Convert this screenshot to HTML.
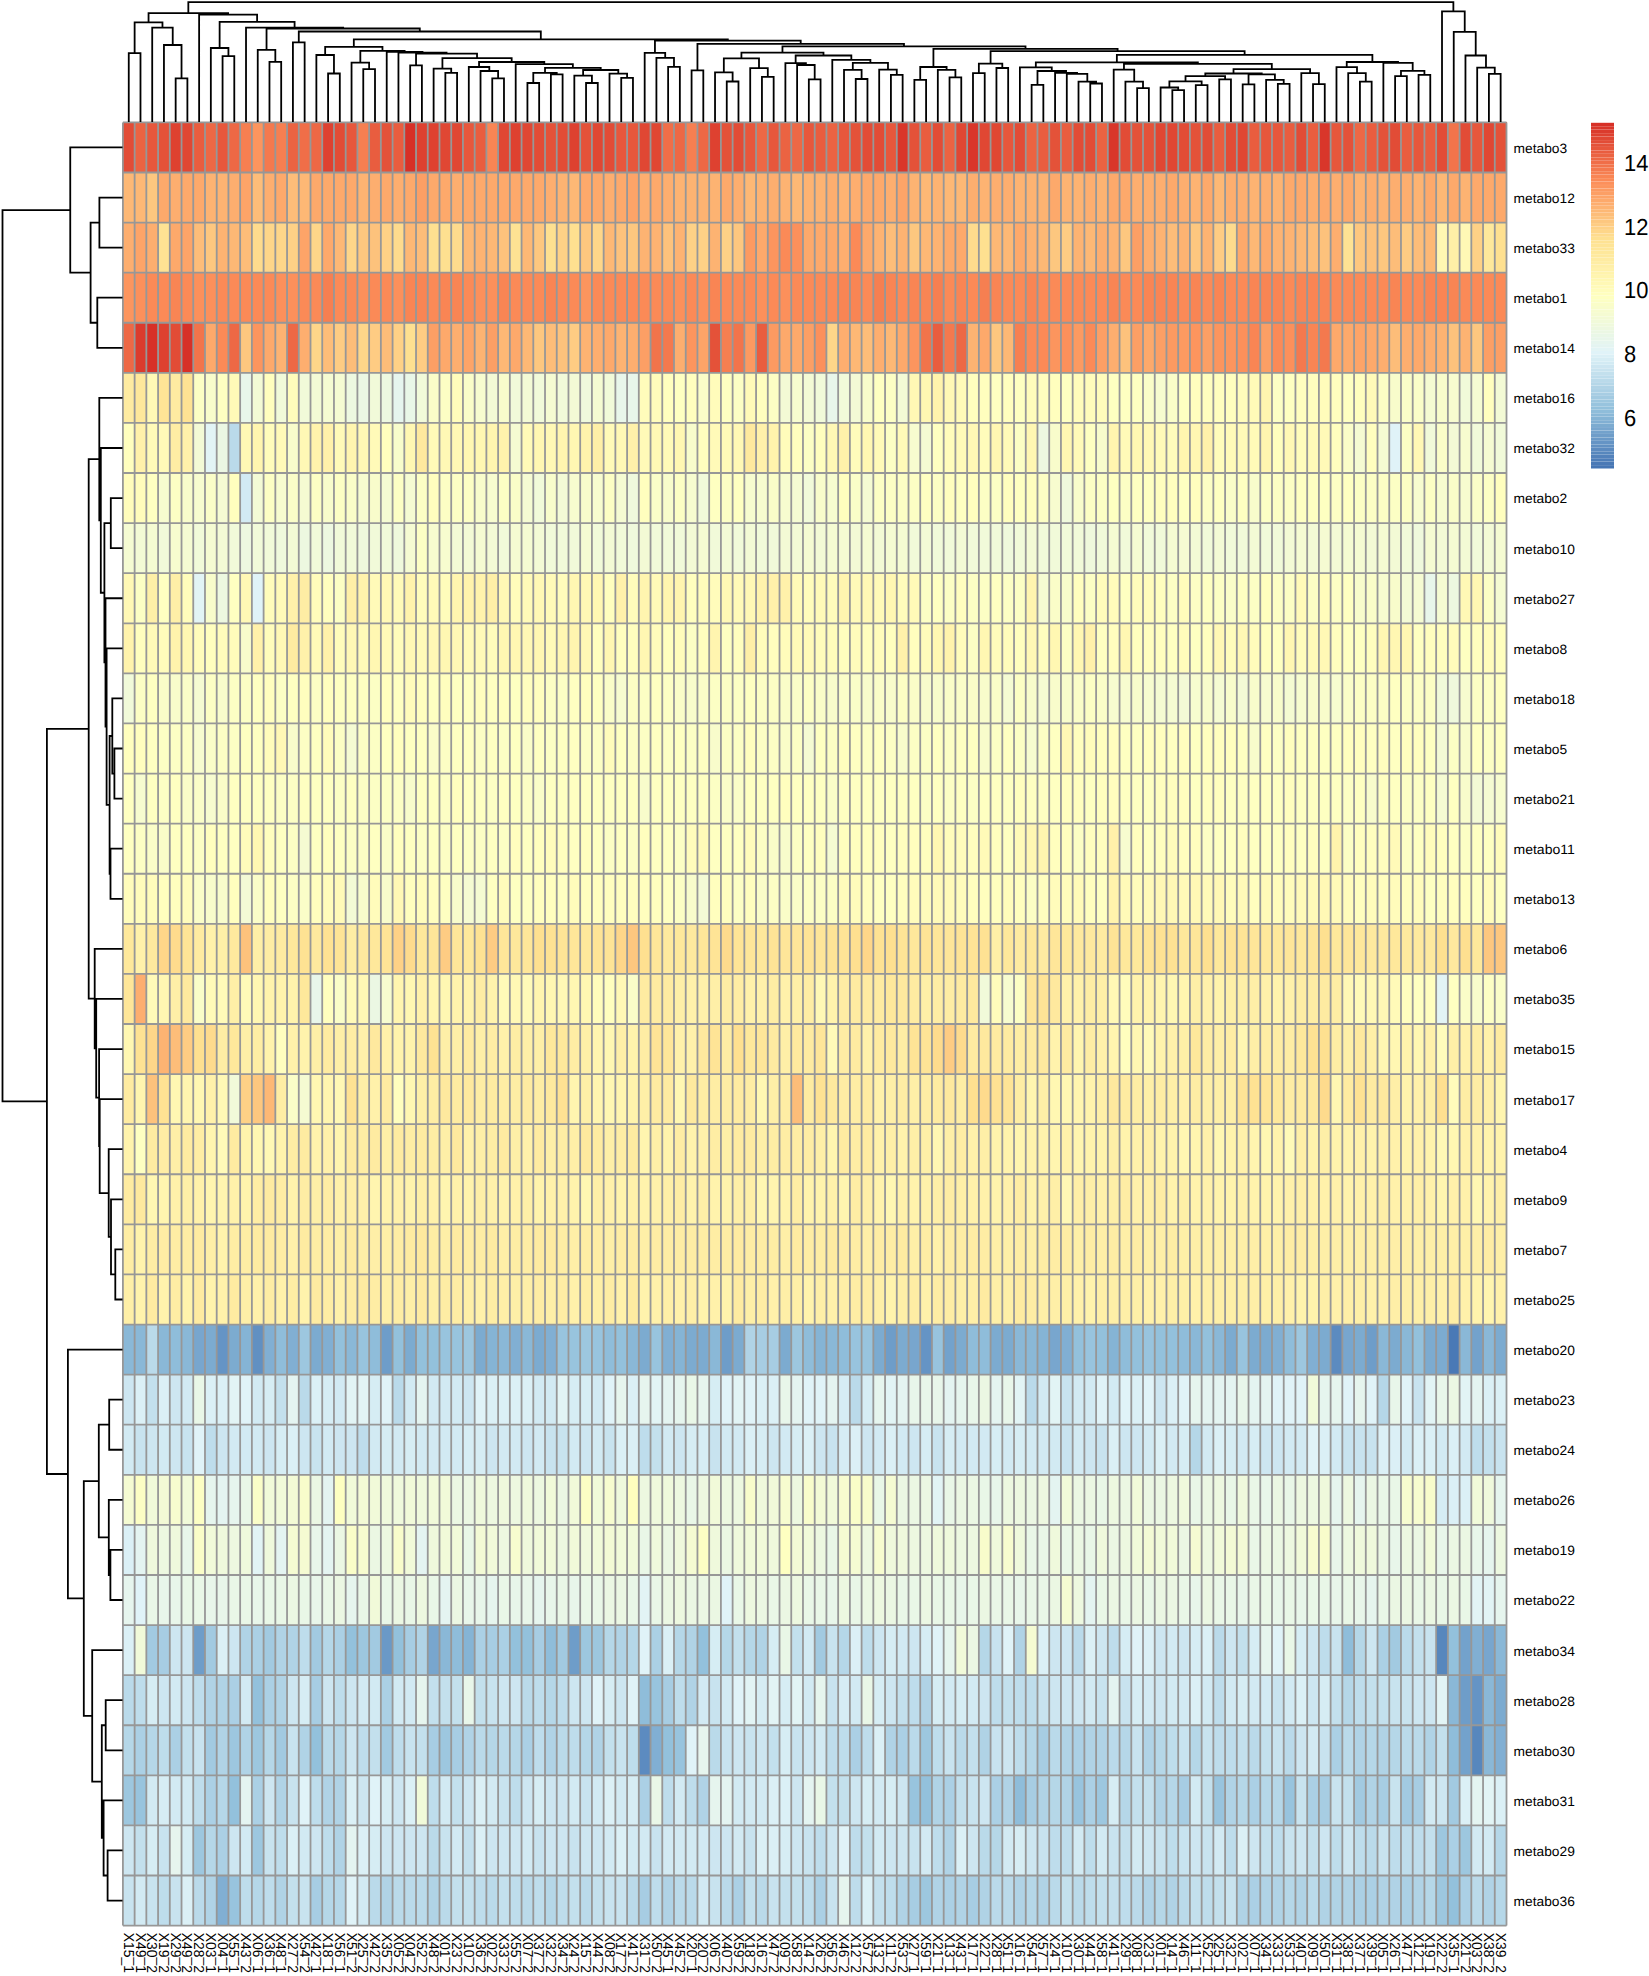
<!DOCTYPE html><html><head><meta charset="utf-8"><title>heatmap</title>
<style>html,body{margin:0;padding:0;background:#fff;}svg{display:block;}text{font-family:"Liberation Sans",Arial,sans-serif;fill:#000;text-rendering:geometricPrecision;}</style></head><body>
<svg width="1649" height="1976" viewBox="0 0 1649 1976">
<rect width="1649" height="1976" fill="#fff"/>
<g shape-rendering="crispEdges">
<rect x="122.9" y="122.4" width="12.03" height="50.39" fill="#e24c36"/>
<rect x="134.63" y="122.4" width="12.03" height="50.39" fill="#eb6342"/>
<rect x="146.35" y="122.4" width="12.03" height="50.39" fill="#e7573c"/>
<rect x="158.08" y="122.4" width="12.03" height="50.39" fill="#e45239"/>
<rect x="169.8" y="122.4" width="12.03" height="50.39" fill="#de4130"/>
<rect x="181.53" y="122.4" width="12.03" height="50.39" fill="#e04733"/>
<rect x="193.25" y="122.4" width="12.03" height="50.39" fill="#e95d3f"/>
<rect x="204.98" y="122.4" width="12.03" height="50.39" fill="#ed6845"/>
<rect x="216.7" y="122.4" width="12.03" height="50.39" fill="#e7573c"/>
<rect x="228.43" y="122.4" width="12.03" height="50.39" fill="#ed6845"/>
<rect x="240.15" y="122.4" width="12.03" height="50.39" fill="#f67f51"/>
<rect x="251.88" y="122.4" width="12.03" height="50.39" fill="#fc955e"/>
<rect x="263.61" y="122.4" width="12.03" height="50.39" fill="#f4794e"/>
<rect x="275.33" y="122.4" width="12.03" height="50.39" fill="#f67f51"/>
<rect x="287.06" y="122.4" width="12.03" height="50.39" fill="#eb6342"/>
<rect x="298.78" y="122.4" width="12.03" height="50.39" fill="#f06e48"/>
<rect x="310.51" y="122.4" width="12.03" height="50.39" fill="#ed6845"/>
<rect x="322.23" y="122.4" width="12.03" height="50.39" fill="#de4130"/>
<rect x="333.96" y="122.4" width="12.03" height="50.39" fill="#e24c36"/>
<rect x="345.68" y="122.4" width="12.03" height="50.39" fill="#e7573c"/>
<rect x="357.41" y="122.4" width="12.03" height="50.39" fill="#f67f51"/>
<rect x="369.13" y="122.4" width="12.03" height="50.39" fill="#e95d3f"/>
<rect x="380.86" y="122.4" width="12.03" height="50.39" fill="#e45239"/>
<rect x="392.58" y="122.4" width="12.03" height="50.39" fill="#e95d3f"/>
<rect x="404.31" y="122.4" width="12.03" height="50.39" fill="#d73027"/>
<rect x="416.04" y="122.4" width="23.75" height="50.39" fill="#de4130"/>
<rect x="439.49" y="122.4" width="23.75" height="50.39" fill="#e04733"/>
<rect x="462.94" y="122.4" width="12.03" height="50.39" fill="#e7573c"/>
<rect x="474.66" y="122.4" width="12.03" height="50.39" fill="#e95d3f"/>
<rect x="486.39" y="122.4" width="12.03" height="50.39" fill="#f98554"/>
<rect x="498.11" y="122.4" width="12.03" height="50.39" fill="#e04733"/>
<rect x="509.84" y="122.4" width="12.03" height="50.39" fill="#de4130"/>
<rect x="521.56" y="122.4" width="12.03" height="50.39" fill="#e04733"/>
<rect x="533.29" y="122.4" width="12.03" height="50.39" fill="#e24c36"/>
<rect x="545.02" y="122.4" width="12.03" height="50.39" fill="#e45239"/>
<rect x="556.74" y="122.4" width="12.03" height="50.39" fill="#e24c36"/>
<rect x="568.47" y="122.4" width="12.03" height="50.39" fill="#de4130"/>
<rect x="580.19" y="122.4" width="12.03" height="50.39" fill="#e45239"/>
<rect x="591.92" y="122.4" width="12.03" height="50.39" fill="#e04733"/>
<rect x="603.64" y="122.4" width="12.03" height="50.39" fill="#e24c36"/>
<rect x="615.37" y="122.4" width="23.75" height="50.39" fill="#e7573c"/>
<rect x="638.82" y="122.4" width="23.75" height="50.39" fill="#e04733"/>
<rect x="662.27" y="122.4" width="12.03" height="50.39" fill="#f06e48"/>
<rect x="673.99" y="122.4" width="12.03" height="50.39" fill="#ed6845"/>
<rect x="685.72" y="122.4" width="12.03" height="50.39" fill="#f67f51"/>
<rect x="697.45" y="122.4" width="12.03" height="50.39" fill="#ed6845"/>
<rect x="709.17" y="122.4" width="12.03" height="50.39" fill="#de4130"/>
<rect x="720.9" y="122.4" width="12.03" height="50.39" fill="#e45239"/>
<rect x="732.62" y="122.4" width="12.03" height="50.39" fill="#e24c36"/>
<rect x="744.35" y="122.4" width="12.03" height="50.39" fill="#e7573c"/>
<rect x="756.07" y="122.4" width="12.03" height="50.39" fill="#ed6845"/>
<rect x="767.8" y="122.4" width="12.03" height="50.39" fill="#e7573c"/>
<rect x="779.52" y="122.4" width="12.03" height="50.39" fill="#eb6342"/>
<rect x="791.25" y="122.4" width="12.03" height="50.39" fill="#ed6845"/>
<rect x="802.97" y="122.4" width="12.03" height="50.39" fill="#e7573c"/>
<rect x="814.7" y="122.4" width="12.03" height="50.39" fill="#e95d3f"/>
<rect x="826.43" y="122.4" width="12.03" height="50.39" fill="#eb6342"/>
<rect x="838.15" y="122.4" width="12.03" height="50.39" fill="#e7573c"/>
<rect x="849.88" y="122.4" width="12.03" height="50.39" fill="#e45239"/>
<rect x="861.6" y="122.4" width="23.75" height="50.39" fill="#e24c36"/>
<rect x="885.05" y="122.4" width="12.03" height="50.39" fill="#e7573c"/>
<rect x="896.78" y="122.4" width="12.03" height="50.39" fill="#d9362a"/>
<rect x="908.5" y="122.4" width="12.03" height="50.39" fill="#e45239"/>
<rect x="920.23" y="122.4" width="12.03" height="50.39" fill="#e95d3f"/>
<rect x="931.95" y="122.4" width="12.03" height="50.39" fill="#e24c36"/>
<rect x="943.68" y="122.4" width="12.03" height="50.39" fill="#eb6342"/>
<rect x="955.41" y="122.4" width="12.03" height="50.39" fill="#e04733"/>
<rect x="967.13" y="122.4" width="12.03" height="50.39" fill="#d9362a"/>
<rect x="978.86" y="122.4" width="23.75" height="50.39" fill="#e04733"/>
<rect x="1002.31" y="122.4" width="12.03" height="50.39" fill="#e7573c"/>
<rect x="1014.03" y="122.4" width="12.03" height="50.39" fill="#e24c36"/>
<rect x="1025.76" y="122.4" width="12.03" height="50.39" fill="#eb6342"/>
<rect x="1037.48" y="122.4" width="12.03" height="50.39" fill="#e95d3f"/>
<rect x="1049.21" y="122.4" width="12.03" height="50.39" fill="#e45239"/>
<rect x="1060.93" y="122.4" width="12.03" height="50.39" fill="#e95d3f"/>
<rect x="1072.66" y="122.4" width="23.75" height="50.39" fill="#e24c36"/>
<rect x="1096.11" y="122.4" width="12.03" height="50.39" fill="#eb6342"/>
<rect x="1107.84" y="122.4" width="12.03" height="50.39" fill="#d9362a"/>
<rect x="1119.56" y="122.4" width="12.03" height="50.39" fill="#e24c36"/>
<rect x="1131.29" y="122.4" width="23.75" height="50.39" fill="#e45239"/>
<rect x="1154.74" y="122.4" width="23.75" height="50.39" fill="#e04733"/>
<rect x="1178.19" y="122.4" width="12.03" height="50.39" fill="#e24c36"/>
<rect x="1189.91" y="122.4" width="12.03" height="50.39" fill="#e45239"/>
<rect x="1201.64" y="122.4" width="12.03" height="50.39" fill="#e24c36"/>
<rect x="1213.36" y="122.4" width="12.03" height="50.39" fill="#e95d3f"/>
<rect x="1225.09" y="122.4" width="12.03" height="50.39" fill="#e24c36"/>
<rect x="1236.82" y="122.4" width="12.03" height="50.39" fill="#e04733"/>
<rect x="1248.54" y="122.4" width="12.03" height="50.39" fill="#e95d3f"/>
<rect x="1260.27" y="122.4" width="23.75" height="50.39" fill="#e7573c"/>
<rect x="1283.72" y="122.4" width="12.03" height="50.39" fill="#e95d3f"/>
<rect x="1295.44" y="122.4" width="12.03" height="50.39" fill="#e24c36"/>
<rect x="1307.17" y="122.4" width="12.03" height="50.39" fill="#e95d3f"/>
<rect x="1318.89" y="122.4" width="12.03" height="50.39" fill="#d9362a"/>
<rect x="1330.62" y="122.4" width="12.03" height="50.39" fill="#e7573c"/>
<rect x="1342.34" y="122.4" width="12.03" height="50.39" fill="#e45239"/>
<rect x="1354.07" y="122.4" width="12.03" height="50.39" fill="#ed6845"/>
<rect x="1365.79" y="122.4" width="12.03" height="50.39" fill="#e95d3f"/>
<rect x="1377.52" y="122.4" width="12.03" height="50.39" fill="#e45239"/>
<rect x="1389.25" y="122.4" width="12.03" height="50.39" fill="#e24c36"/>
<rect x="1400.97" y="122.4" width="12.03" height="50.39" fill="#e95d3f"/>
<rect x="1412.7" y="122.4" width="12.03" height="50.39" fill="#e7573c"/>
<rect x="1424.42" y="122.4" width="12.03" height="50.39" fill="#e95d3f"/>
<rect x="1436.15" y="122.4" width="12.03" height="50.39" fill="#e24c36"/>
<rect x="1447.87" y="122.4" width="12.03" height="50.39" fill="#f2744b"/>
<rect x="1459.6" y="122.4" width="12.03" height="50.39" fill="#e24c36"/>
<rect x="1471.32" y="122.4" width="12.03" height="50.39" fill="#e7573c"/>
<rect x="1483.05" y="122.4" width="12.03" height="50.39" fill="#e04733"/>
<rect x="1494.77" y="122.4" width="12.03" height="50.39" fill="#e45239"/>
<rect x="122.9" y="172.49" width="23.75" height="50.39" fill="#fdb875"/>
<rect x="146.35" y="172.49" width="12.03" height="50.39" fill="#fdc77f"/>
<rect x="158.08" y="172.49" width="12.03" height="50.39" fill="#fda96b"/>
<rect x="169.8" y="172.49" width="12.03" height="50.39" fill="#fdae6f"/>
<rect x="181.53" y="172.49" width="23.75" height="50.39" fill="#fda96b"/>
<rect x="204.98" y="172.49" width="23.75" height="50.39" fill="#fdb372"/>
<rect x="228.43" y="172.49" width="12.03" height="50.39" fill="#fdae6f"/>
<rect x="240.15" y="172.49" width="12.03" height="50.39" fill="#fda468"/>
<rect x="251.88" y="172.49" width="12.03" height="50.39" fill="#fdbd79"/>
<rect x="263.61" y="172.49" width="12.03" height="50.39" fill="#fdae6f"/>
<rect x="275.33" y="172.49" width="12.03" height="50.39" fill="#fda96b"/>
<rect x="287.06" y="172.49" width="12.03" height="50.39" fill="#fdbd79"/>
<rect x="298.78" y="172.49" width="12.03" height="50.39" fill="#fdb875"/>
<rect x="310.51" y="172.49" width="47.2" height="50.39" fill="#fda96b"/>
<rect x="357.41" y="172.49" width="12.03" height="50.39" fill="#fdb372"/>
<rect x="369.13" y="172.49" width="12.03" height="50.39" fill="#fdae6f"/>
<rect x="380.86" y="172.49" width="12.03" height="50.39" fill="#fda96b"/>
<rect x="392.58" y="172.49" width="12.03" height="50.39" fill="#fdae6f"/>
<rect x="404.31" y="172.49" width="12.03" height="50.39" fill="#fda96b"/>
<rect x="416.04" y="172.49" width="12.03" height="50.39" fill="#fc9f65"/>
<rect x="427.76" y="172.49" width="23.75" height="50.39" fill="#fda96b"/>
<rect x="451.21" y="172.49" width="12.03" height="50.39" fill="#fdae6f"/>
<rect x="462.94" y="172.49" width="82.38" height="50.39" fill="#fda96b"/>
<rect x="545.02" y="172.49" width="12.03" height="50.39" fill="#fdae6f"/>
<rect x="556.74" y="172.49" width="12.03" height="50.39" fill="#fdb372"/>
<rect x="568.47" y="172.49" width="12.03" height="50.39" fill="#fdb875"/>
<rect x="580.19" y="172.49" width="23.75" height="50.39" fill="#fda96b"/>
<rect x="603.64" y="172.49" width="12.03" height="50.39" fill="#fdae6f"/>
<rect x="615.37" y="172.49" width="12.03" height="50.39" fill="#fda96b"/>
<rect x="627.09" y="172.49" width="12.03" height="50.39" fill="#fda468"/>
<rect x="638.82" y="172.49" width="12.03" height="50.39" fill="#fdae6f"/>
<rect x="650.54" y="172.49" width="12.03" height="50.39" fill="#fda96b"/>
<rect x="662.27" y="172.49" width="12.03" height="50.39" fill="#fdae6f"/>
<rect x="673.99" y="172.49" width="47.2" height="50.39" fill="#fdb372"/>
<rect x="720.9" y="172.49" width="12.03" height="50.39" fill="#fda96b"/>
<rect x="732.62" y="172.49" width="12.03" height="50.39" fill="#fdae6f"/>
<rect x="744.35" y="172.49" width="12.03" height="50.39" fill="#fdb875"/>
<rect x="756.07" y="172.49" width="12.03" height="50.39" fill="#fdb372"/>
<rect x="767.8" y="172.49" width="12.03" height="50.39" fill="#fdae6f"/>
<rect x="779.52" y="172.49" width="12.03" height="50.39" fill="#fdb372"/>
<rect x="791.25" y="172.49" width="12.03" height="50.39" fill="#fdb875"/>
<rect x="802.97" y="172.49" width="23.75" height="50.39" fill="#fdb372"/>
<rect x="826.43" y="172.49" width="12.03" height="50.39" fill="#fdae6f"/>
<rect x="838.15" y="172.49" width="12.03" height="50.39" fill="#fdb372"/>
<rect x="849.88" y="172.49" width="12.03" height="50.39" fill="#fdae6f"/>
<rect x="861.6" y="172.49" width="23.75" height="50.39" fill="#fda96b"/>
<rect x="885.05" y="172.49" width="12.03" height="50.39" fill="#fdae6f"/>
<rect x="896.78" y="172.49" width="12.03" height="50.39" fill="#fda468"/>
<rect x="908.5" y="172.49" width="12.03" height="50.39" fill="#fdb372"/>
<rect x="920.23" y="172.49" width="12.03" height="50.39" fill="#fdb875"/>
<rect x="931.95" y="172.49" width="12.03" height="50.39" fill="#fdb372"/>
<rect x="943.68" y="172.49" width="23.75" height="50.39" fill="#fdb875"/>
<rect x="967.13" y="172.49" width="12.03" height="50.39" fill="#fdae6f"/>
<rect x="978.86" y="172.49" width="12.03" height="50.39" fill="#fdb372"/>
<rect x="990.58" y="172.49" width="23.75" height="50.39" fill="#fdae6f"/>
<rect x="1014.03" y="172.49" width="35.48" height="50.39" fill="#fdb372"/>
<rect x="1049.21" y="172.49" width="12.03" height="50.39" fill="#fda96b"/>
<rect x="1060.93" y="172.49" width="23.75" height="50.39" fill="#fdb372"/>
<rect x="1084.38" y="172.49" width="12.03" height="50.39" fill="#fdae6f"/>
<rect x="1096.11" y="172.49" width="12.03" height="50.39" fill="#fdb372"/>
<rect x="1107.84" y="172.49" width="23.75" height="50.39" fill="#fda96b"/>
<rect x="1131.29" y="172.49" width="35.48" height="50.39" fill="#fdae6f"/>
<rect x="1166.46" y="172.49" width="12.03" height="50.39" fill="#fda96b"/>
<rect x="1178.19" y="172.49" width="12.03" height="50.39" fill="#fdae6f"/>
<rect x="1189.91" y="172.49" width="12.03" height="50.39" fill="#fdb372"/>
<rect x="1201.64" y="172.49" width="12.03" height="50.39" fill="#fda96b"/>
<rect x="1213.36" y="172.49" width="12.03" height="50.39" fill="#fdb875"/>
<rect x="1225.09" y="172.49" width="23.75" height="50.39" fill="#fdae6f"/>
<rect x="1248.54" y="172.49" width="12.03" height="50.39" fill="#fdb372"/>
<rect x="1260.27" y="172.49" width="12.03" height="50.39" fill="#fdae6f"/>
<rect x="1271.99" y="172.49" width="12.03" height="50.39" fill="#fdb372"/>
<rect x="1283.72" y="172.49" width="23.75" height="50.39" fill="#fda96b"/>
<rect x="1307.17" y="172.49" width="12.03" height="50.39" fill="#fdae6f"/>
<rect x="1318.89" y="172.49" width="12.03" height="50.39" fill="#fda96b"/>
<rect x="1330.62" y="172.49" width="12.03" height="50.39" fill="#fdae6f"/>
<rect x="1342.34" y="172.49" width="12.03" height="50.39" fill="#fda96b"/>
<rect x="1354.07" y="172.49" width="12.03" height="50.39" fill="#fdb372"/>
<rect x="1365.79" y="172.49" width="12.03" height="50.39" fill="#fdae6f"/>
<rect x="1377.52" y="172.49" width="12.03" height="50.39" fill="#fdb372"/>
<rect x="1389.25" y="172.49" width="23.75" height="50.39" fill="#fdae6f"/>
<rect x="1412.7" y="172.49" width="12.03" height="50.39" fill="#fdb372"/>
<rect x="1424.42" y="172.49" width="12.03" height="50.39" fill="#fda96b"/>
<rect x="1436.15" y="172.49" width="12.03" height="50.39" fill="#fdb875"/>
<rect x="1447.87" y="172.49" width="12.03" height="50.39" fill="#fda96b"/>
<rect x="1459.6" y="172.49" width="12.03" height="50.39" fill="#fdb372"/>
<rect x="1471.32" y="172.49" width="35.48" height="50.39" fill="#fda96b"/>
<rect x="122.9" y="222.58" width="12.03" height="50.39" fill="#fdae6f"/>
<rect x="134.63" y="222.58" width="12.03" height="50.39" fill="#fda468"/>
<rect x="146.35" y="222.58" width="12.03" height="50.39" fill="#fdae6f"/>
<rect x="158.08" y="222.58" width="12.03" height="50.39" fill="#fee293"/>
<rect x="169.8" y="222.58" width="12.03" height="50.39" fill="#fda96b"/>
<rect x="181.53" y="222.58" width="12.03" height="50.39" fill="#fda468"/>
<rect x="193.25" y="222.58" width="12.03" height="50.39" fill="#fdbd79"/>
<rect x="204.98" y="222.58" width="12.03" height="50.39" fill="#fdc77f"/>
<rect x="216.7" y="222.58" width="12.03" height="50.39" fill="#fdb372"/>
<rect x="228.43" y="222.58" width="12.03" height="50.39" fill="#fdb875"/>
<rect x="240.15" y="222.58" width="12.03" height="50.39" fill="#fdbd79"/>
<rect x="251.88" y="222.58" width="12.03" height="50.39" fill="#fedb8d"/>
<rect x="263.61" y="222.58" width="23.75" height="50.39" fill="#fed689"/>
<rect x="287.06" y="222.58" width="12.03" height="50.39" fill="#fed186"/>
<rect x="298.78" y="222.58" width="12.03" height="50.39" fill="#fda468"/>
<rect x="310.51" y="222.58" width="12.03" height="50.39" fill="#fed689"/>
<rect x="322.23" y="222.58" width="12.03" height="50.39" fill="#fda96b"/>
<rect x="333.96" y="222.58" width="12.03" height="50.39" fill="#fdb875"/>
<rect x="345.68" y="222.58" width="12.03" height="50.39" fill="#fed689"/>
<rect x="357.41" y="222.58" width="12.03" height="50.39" fill="#fdc77f"/>
<rect x="369.13" y="222.58" width="12.03" height="50.39" fill="#fdc27c"/>
<rect x="380.86" y="222.58" width="12.03" height="50.39" fill="#fed186"/>
<rect x="392.58" y="222.58" width="12.03" height="50.39" fill="#fedb8d"/>
<rect x="404.31" y="222.58" width="12.03" height="50.39" fill="#fdb875"/>
<rect x="416.04" y="222.58" width="12.03" height="50.39" fill="#fdbd79"/>
<rect x="427.76" y="222.58" width="23.75" height="50.39" fill="#fee090"/>
<rect x="451.21" y="222.58" width="12.03" height="50.39" fill="#fedb8d"/>
<rect x="462.94" y="222.58" width="12.03" height="50.39" fill="#fdb875"/>
<rect x="474.66" y="222.58" width="12.03" height="50.39" fill="#fdb372"/>
<rect x="486.39" y="222.58" width="12.03" height="50.39" fill="#fdb875"/>
<rect x="498.11" y="222.58" width="12.03" height="50.39" fill="#fdc27c"/>
<rect x="509.84" y="222.58" width="12.03" height="50.39" fill="#fee293"/>
<rect x="521.56" y="222.58" width="12.03" height="50.39" fill="#fdb875"/>
<rect x="533.29" y="222.58" width="12.03" height="50.39" fill="#fdc77f"/>
<rect x="545.02" y="222.58" width="12.03" height="50.39" fill="#fee090"/>
<rect x="556.74" y="222.58" width="12.03" height="50.39" fill="#fed186"/>
<rect x="568.47" y="222.58" width="12.03" height="50.39" fill="#fee090"/>
<rect x="580.19" y="222.58" width="12.03" height="50.39" fill="#fdc77f"/>
<rect x="591.92" y="222.58" width="12.03" height="50.39" fill="#fed689"/>
<rect x="603.64" y="222.58" width="12.03" height="50.39" fill="#fdb875"/>
<rect x="615.37" y="222.58" width="12.03" height="50.39" fill="#fdc27c"/>
<rect x="627.09" y="222.58" width="12.03" height="50.39" fill="#fdc77f"/>
<rect x="638.82" y="222.58" width="23.75" height="50.39" fill="#fdb372"/>
<rect x="662.27" y="222.58" width="12.03" height="50.39" fill="#fdc27c"/>
<rect x="673.99" y="222.58" width="12.03" height="50.39" fill="#fdb372"/>
<rect x="685.72" y="222.58" width="23.75" height="50.39" fill="#fed186"/>
<rect x="709.17" y="222.58" width="12.03" height="50.39" fill="#fdb372"/>
<rect x="720.9" y="222.58" width="12.03" height="50.39" fill="#fed186"/>
<rect x="732.62" y="222.58" width="12.03" height="50.39" fill="#fdc77f"/>
<rect x="744.35" y="222.58" width="12.03" height="50.39" fill="#fc9a61"/>
<rect x="756.07" y="222.58" width="12.03" height="50.39" fill="#fda96b"/>
<rect x="767.8" y="222.58" width="12.03" height="50.39" fill="#fc955e"/>
<rect x="779.52" y="222.58" width="12.03" height="50.39" fill="#fb8a57"/>
<rect x="791.25" y="222.58" width="12.03" height="50.39" fill="#fc905b"/>
<rect x="802.97" y="222.58" width="35.48" height="50.39" fill="#fda96b"/>
<rect x="838.15" y="222.58" width="12.03" height="50.39" fill="#fdae6f"/>
<rect x="849.88" y="222.58" width="12.03" height="50.39" fill="#fb8a57"/>
<rect x="861.6" y="222.58" width="12.03" height="50.39" fill="#fda96b"/>
<rect x="873.33" y="222.58" width="12.03" height="50.39" fill="#fdb372"/>
<rect x="885.05" y="222.58" width="12.03" height="50.39" fill="#fdbd79"/>
<rect x="896.78" y="222.58" width="12.03" height="50.39" fill="#fdb372"/>
<rect x="908.5" y="222.58" width="12.03" height="50.39" fill="#fdc77f"/>
<rect x="920.23" y="222.58" width="12.03" height="50.39" fill="#fdb875"/>
<rect x="931.95" y="222.58" width="12.03" height="50.39" fill="#fdb372"/>
<rect x="943.68" y="222.58" width="23.75" height="50.39" fill="#fda96b"/>
<rect x="967.13" y="222.58" width="12.03" height="50.39" fill="#fedb8d"/>
<rect x="978.86" y="222.58" width="12.03" height="50.39" fill="#fee090"/>
<rect x="990.58" y="222.58" width="23.75" height="50.39" fill="#fdb875"/>
<rect x="1014.03" y="222.58" width="12.03" height="50.39" fill="#fda96b"/>
<rect x="1025.76" y="222.58" width="12.03" height="50.39" fill="#fdb372"/>
<rect x="1037.48" y="222.58" width="12.03" height="50.39" fill="#fdb875"/>
<rect x="1049.21" y="222.58" width="12.03" height="50.39" fill="#fdc77f"/>
<rect x="1060.93" y="222.58" width="12.03" height="50.39" fill="#fecc83"/>
<rect x="1072.66" y="222.58" width="12.03" height="50.39" fill="#fdb372"/>
<rect x="1084.38" y="222.58" width="12.03" height="50.39" fill="#fdb875"/>
<rect x="1096.11" y="222.58" width="12.03" height="50.39" fill="#fdae6f"/>
<rect x="1107.84" y="222.58" width="12.03" height="50.39" fill="#fdb372"/>
<rect x="1119.56" y="222.58" width="12.03" height="50.39" fill="#fdc77f"/>
<rect x="1131.29" y="222.58" width="12.03" height="50.39" fill="#fc9f65"/>
<rect x="1143.01" y="222.58" width="12.03" height="50.39" fill="#fdae6f"/>
<rect x="1154.74" y="222.58" width="12.03" height="50.39" fill="#fdb372"/>
<rect x="1166.46" y="222.58" width="12.03" height="50.39" fill="#fdbd79"/>
<rect x="1178.19" y="222.58" width="12.03" height="50.39" fill="#fdb372"/>
<rect x="1189.91" y="222.58" width="12.03" height="50.39" fill="#fdc77f"/>
<rect x="1201.64" y="222.58" width="12.03" height="50.39" fill="#fdb372"/>
<rect x="1213.36" y="222.58" width="12.03" height="50.39" fill="#fecc83"/>
<rect x="1225.09" y="222.58" width="12.03" height="50.39" fill="#fedb8d"/>
<rect x="1236.82" y="222.58" width="12.03" height="50.39" fill="#fda96b"/>
<rect x="1248.54" y="222.58" width="12.03" height="50.39" fill="#fdb875"/>
<rect x="1260.27" y="222.58" width="12.03" height="50.39" fill="#fda96b"/>
<rect x="1271.99" y="222.58" width="23.75" height="50.39" fill="#fdb372"/>
<rect x="1295.44" y="222.58" width="12.03" height="50.39" fill="#fdb875"/>
<rect x="1307.17" y="222.58" width="12.03" height="50.39" fill="#fdbd79"/>
<rect x="1318.89" y="222.58" width="12.03" height="50.39" fill="#fdc27c"/>
<rect x="1330.62" y="222.58" width="12.03" height="50.39" fill="#fdae6f"/>
<rect x="1342.34" y="222.58" width="12.03" height="50.39" fill="#fee293"/>
<rect x="1354.07" y="222.58" width="12.03" height="50.39" fill="#fdc77f"/>
<rect x="1365.79" y="222.58" width="12.03" height="50.39" fill="#fdc27c"/>
<rect x="1377.52" y="222.58" width="12.03" height="50.39" fill="#fdc77f"/>
<rect x="1389.25" y="222.58" width="12.03" height="50.39" fill="#fdbd79"/>
<rect x="1400.97" y="222.58" width="12.03" height="50.39" fill="#fecc83"/>
<rect x="1412.7" y="222.58" width="12.03" height="50.39" fill="#fdbd79"/>
<rect x="1424.42" y="222.58" width="12.03" height="50.39" fill="#fdb875"/>
<rect x="1436.15" y="222.58" width="12.03" height="50.39" fill="#fff7b2"/>
<rect x="1447.87" y="222.58" width="12.03" height="50.39" fill="#feefa7"/>
<rect x="1459.6" y="222.58" width="12.03" height="50.39" fill="#fff8b5"/>
<rect x="1471.32" y="222.58" width="12.03" height="50.39" fill="#fed186"/>
<rect x="1483.05" y="222.58" width="12.03" height="50.39" fill="#fee89b"/>
<rect x="1494.77" y="222.58" width="12.03" height="50.39" fill="#fee090"/>
<rect x="122.9" y="272.67" width="12.03" height="50.39" fill="#fc955e"/>
<rect x="134.63" y="272.67" width="12.03" height="50.39" fill="#fc905b"/>
<rect x="146.35" y="272.67" width="23.75" height="50.39" fill="#fb8a57"/>
<rect x="169.8" y="272.67" width="12.03" height="50.39" fill="#f98554"/>
<rect x="181.53" y="272.67" width="12.03" height="50.39" fill="#fb8a57"/>
<rect x="193.25" y="272.67" width="23.75" height="50.39" fill="#fc905b"/>
<rect x="216.7" y="272.67" width="58.93" height="50.39" fill="#fb8a57"/>
<rect x="275.33" y="272.67" width="23.75" height="50.39" fill="#fc905b"/>
<rect x="298.78" y="272.67" width="23.75" height="50.39" fill="#fb8a57"/>
<rect x="322.23" y="272.67" width="12.03" height="50.39" fill="#f67f51"/>
<rect x="333.96" y="272.67" width="23.75" height="50.39" fill="#fb8a57"/>
<rect x="357.41" y="272.67" width="12.03" height="50.39" fill="#fc905b"/>
<rect x="369.13" y="272.67" width="23.75" height="50.39" fill="#fb8a57"/>
<rect x="392.58" y="272.67" width="12.03" height="50.39" fill="#fc905b"/>
<rect x="404.31" y="272.67" width="23.75" height="50.39" fill="#f98554"/>
<rect x="427.76" y="272.67" width="12.03" height="50.39" fill="#fb8a57"/>
<rect x="439.49" y="272.67" width="23.75" height="50.39" fill="#f98554"/>
<rect x="462.94" y="272.67" width="12.03" height="50.39" fill="#fb8a57"/>
<rect x="474.66" y="272.67" width="23.75" height="50.39" fill="#fc905b"/>
<rect x="498.11" y="272.67" width="12.03" height="50.39" fill="#f98554"/>
<rect x="509.84" y="272.67" width="35.48" height="50.39" fill="#fb8a57"/>
<rect x="545.02" y="272.67" width="12.03" height="50.39" fill="#f98554"/>
<rect x="556.74" y="272.67" width="23.75" height="50.39" fill="#fb8a57"/>
<rect x="580.19" y="272.67" width="12.03" height="50.39" fill="#fc955e"/>
<rect x="591.92" y="272.67" width="82.38" height="50.39" fill="#fb8a57"/>
<rect x="673.99" y="272.67" width="12.03" height="50.39" fill="#fc905b"/>
<rect x="685.72" y="272.67" width="12.03" height="50.39" fill="#fb8a57"/>
<rect x="697.45" y="272.67" width="12.03" height="50.39" fill="#fc905b"/>
<rect x="709.17" y="272.67" width="12.03" height="50.39" fill="#f98554"/>
<rect x="720.9" y="272.67" width="35.48" height="50.39" fill="#fb8a57"/>
<rect x="756.07" y="272.67" width="12.03" height="50.39" fill="#fc905b"/>
<rect x="767.8" y="272.67" width="12.03" height="50.39" fill="#fb8a57"/>
<rect x="779.52" y="272.67" width="12.03" height="50.39" fill="#fc905b"/>
<rect x="791.25" y="272.67" width="47.2" height="50.39" fill="#fb8a57"/>
<rect x="838.15" y="272.67" width="23.75" height="50.39" fill="#f98554"/>
<rect x="861.6" y="272.67" width="12.03" height="50.39" fill="#fb8a57"/>
<rect x="873.33" y="272.67" width="12.03" height="50.39" fill="#f67f51"/>
<rect x="885.05" y="272.67" width="12.03" height="50.39" fill="#f98554"/>
<rect x="896.78" y="272.67" width="12.03" height="50.39" fill="#fb8a57"/>
<rect x="908.5" y="272.67" width="23.75" height="50.39" fill="#f98554"/>
<rect x="931.95" y="272.67" width="12.03" height="50.39" fill="#f67f51"/>
<rect x="943.68" y="272.67" width="12.03" height="50.39" fill="#fb8a57"/>
<rect x="955.41" y="272.67" width="12.03" height="50.39" fill="#f98554"/>
<rect x="967.13" y="272.67" width="12.03" height="50.39" fill="#fb8a57"/>
<rect x="978.86" y="272.67" width="12.03" height="50.39" fill="#f67f51"/>
<rect x="990.58" y="272.67" width="12.03" height="50.39" fill="#f98554"/>
<rect x="1002.31" y="272.67" width="23.75" height="50.39" fill="#fb8a57"/>
<rect x="1025.76" y="272.67" width="12.03" height="50.39" fill="#f98554"/>
<rect x="1037.48" y="272.67" width="70.65" height="50.39" fill="#fb8a57"/>
<rect x="1107.84" y="272.67" width="12.03" height="50.39" fill="#f98554"/>
<rect x="1119.56" y="272.67" width="23.75" height="50.39" fill="#fb8a57"/>
<rect x="1143.01" y="272.67" width="35.48" height="50.39" fill="#f98554"/>
<rect x="1178.19" y="272.67" width="12.03" height="50.39" fill="#fb8a57"/>
<rect x="1189.91" y="272.67" width="12.03" height="50.39" fill="#f98554"/>
<rect x="1201.64" y="272.67" width="12.03" height="50.39" fill="#fb8a57"/>
<rect x="1213.36" y="272.67" width="12.03" height="50.39" fill="#f98554"/>
<rect x="1225.09" y="272.67" width="23.75" height="50.39" fill="#fb8a57"/>
<rect x="1248.54" y="272.67" width="35.48" height="50.39" fill="#f98554"/>
<rect x="1283.72" y="272.67" width="12.03" height="50.39" fill="#fb8a57"/>
<rect x="1295.44" y="272.67" width="35.48" height="50.39" fill="#f98554"/>
<rect x="1330.62" y="272.67" width="58.93" height="50.39" fill="#fb8a57"/>
<rect x="1389.25" y="272.67" width="12.03" height="50.39" fill="#f98554"/>
<rect x="1400.97" y="272.67" width="23.75" height="50.39" fill="#fb8a57"/>
<rect x="1424.42" y="272.67" width="35.48" height="50.39" fill="#f98554"/>
<rect x="1459.6" y="272.67" width="47.2" height="50.39" fill="#fb8a57"/>
<rect x="122.9" y="322.76" width="12.03" height="50.39" fill="#ed6845"/>
<rect x="134.63" y="322.76" width="12.03" height="50.39" fill="#db3b2d"/>
<rect x="146.35" y="322.76" width="12.03" height="50.39" fill="#d73027"/>
<rect x="158.08" y="322.76" width="12.03" height="50.39" fill="#de4130"/>
<rect x="169.8" y="322.76" width="12.03" height="50.39" fill="#e24c36"/>
<rect x="181.53" y="322.76" width="12.03" height="50.39" fill="#d73027"/>
<rect x="193.25" y="322.76" width="12.03" height="50.39" fill="#f2744b"/>
<rect x="204.98" y="322.76" width="12.03" height="50.39" fill="#fda96b"/>
<rect x="216.7" y="322.76" width="12.03" height="50.39" fill="#fb8a57"/>
<rect x="228.43" y="322.76" width="12.03" height="50.39" fill="#ed6845"/>
<rect x="240.15" y="322.76" width="12.03" height="50.39" fill="#fdc77f"/>
<rect x="251.88" y="322.76" width="12.03" height="50.39" fill="#fc955e"/>
<rect x="263.61" y="322.76" width="12.03" height="50.39" fill="#fda96b"/>
<rect x="275.33" y="322.76" width="12.03" height="50.39" fill="#fdb372"/>
<rect x="287.06" y="322.76" width="12.03" height="50.39" fill="#ed6845"/>
<rect x="298.78" y="322.76" width="12.03" height="50.39" fill="#fdae6f"/>
<rect x="310.51" y="322.76" width="12.03" height="50.39" fill="#fed689"/>
<rect x="322.23" y="322.76" width="12.03" height="50.39" fill="#fdbd79"/>
<rect x="333.96" y="322.76" width="12.03" height="50.39" fill="#fecc83"/>
<rect x="345.68" y="322.76" width="12.03" height="50.39" fill="#fdbd79"/>
<rect x="357.41" y="322.76" width="12.03" height="50.39" fill="#fed689"/>
<rect x="369.13" y="322.76" width="12.03" height="50.39" fill="#fecc83"/>
<rect x="380.86" y="322.76" width="12.03" height="50.39" fill="#fdbd79"/>
<rect x="392.58" y="322.76" width="12.03" height="50.39" fill="#fed186"/>
<rect x="404.31" y="322.76" width="12.03" height="50.39" fill="#fee090"/>
<rect x="416.04" y="322.76" width="12.03" height="50.39" fill="#fecc83"/>
<rect x="427.76" y="322.76" width="12.03" height="50.39" fill="#fc9f65"/>
<rect x="439.49" y="322.76" width="12.03" height="50.39" fill="#fda96b"/>
<rect x="451.21" y="322.76" width="12.03" height="50.39" fill="#fdae6f"/>
<rect x="462.94" y="322.76" width="12.03" height="50.39" fill="#fda468"/>
<rect x="474.66" y="322.76" width="12.03" height="50.39" fill="#fdb372"/>
<rect x="486.39" y="322.76" width="12.03" height="50.39" fill="#fc9f65"/>
<rect x="498.11" y="322.76" width="12.03" height="50.39" fill="#fdb875"/>
<rect x="509.84" y="322.76" width="12.03" height="50.39" fill="#fda96b"/>
<rect x="521.56" y="322.76" width="12.03" height="50.39" fill="#fdb875"/>
<rect x="533.29" y="322.76" width="12.03" height="50.39" fill="#fdc77f"/>
<rect x="545.02" y="322.76" width="12.03" height="50.39" fill="#fdbd79"/>
<rect x="556.74" y="322.76" width="12.03" height="50.39" fill="#fdc27c"/>
<rect x="568.47" y="322.76" width="12.03" height="50.39" fill="#fecc83"/>
<rect x="580.19" y="322.76" width="12.03" height="50.39" fill="#fdb372"/>
<rect x="591.92" y="322.76" width="12.03" height="50.39" fill="#fdae6f"/>
<rect x="603.64" y="322.76" width="12.03" height="50.39" fill="#fda96b"/>
<rect x="615.37" y="322.76" width="12.03" height="50.39" fill="#fdb372"/>
<rect x="627.09" y="322.76" width="12.03" height="50.39" fill="#fdae6f"/>
<rect x="638.82" y="322.76" width="12.03" height="50.39" fill="#fc9f65"/>
<rect x="650.54" y="322.76" width="12.03" height="50.39" fill="#f2744b"/>
<rect x="662.27" y="322.76" width="12.03" height="50.39" fill="#f4794e"/>
<rect x="673.99" y="322.76" width="12.03" height="50.39" fill="#fdae6f"/>
<rect x="685.72" y="322.76" width="12.03" height="50.39" fill="#fc955e"/>
<rect x="697.45" y="322.76" width="12.03" height="50.39" fill="#fda468"/>
<rect x="709.17" y="322.76" width="12.03" height="50.39" fill="#e45239"/>
<rect x="720.9" y="322.76" width="12.03" height="50.39" fill="#f67f51"/>
<rect x="732.62" y="322.76" width="12.03" height="50.39" fill="#f2744b"/>
<rect x="744.35" y="322.76" width="12.03" height="50.39" fill="#fc9a61"/>
<rect x="756.07" y="322.76" width="12.03" height="50.39" fill="#e95d3f"/>
<rect x="767.8" y="322.76" width="12.03" height="50.39" fill="#fc9a61"/>
<rect x="779.52" y="322.76" width="23.75" height="50.39" fill="#fda96b"/>
<rect x="802.97" y="322.76" width="12.03" height="50.39" fill="#fc9f65"/>
<rect x="814.7" y="322.76" width="12.03" height="50.39" fill="#fc905b"/>
<rect x="826.43" y="322.76" width="12.03" height="50.39" fill="#fed689"/>
<rect x="838.15" y="322.76" width="12.03" height="50.39" fill="#fdae6f"/>
<rect x="849.88" y="322.76" width="12.03" height="50.39" fill="#fdb875"/>
<rect x="861.6" y="322.76" width="12.03" height="50.39" fill="#fdbd79"/>
<rect x="873.33" y="322.76" width="12.03" height="50.39" fill="#fdae6f"/>
<rect x="885.05" y="322.76" width="12.03" height="50.39" fill="#fdb875"/>
<rect x="896.78" y="322.76" width="12.03" height="50.39" fill="#fda96b"/>
<rect x="908.5" y="322.76" width="12.03" height="50.39" fill="#fc955e"/>
<rect x="920.23" y="322.76" width="12.03" height="50.39" fill="#f2744b"/>
<rect x="931.95" y="322.76" width="12.03" height="50.39" fill="#e95d3f"/>
<rect x="943.68" y="322.76" width="12.03" height="50.39" fill="#f4794e"/>
<rect x="955.41" y="322.76" width="12.03" height="50.39" fill="#ed6845"/>
<rect x="967.13" y="322.76" width="12.03" height="50.39" fill="#fdb372"/>
<rect x="978.86" y="322.76" width="12.03" height="50.39" fill="#fda96b"/>
<rect x="990.58" y="322.76" width="12.03" height="50.39" fill="#fdc77f"/>
<rect x="1002.31" y="322.76" width="12.03" height="50.39" fill="#fdb875"/>
<rect x="1014.03" y="322.76" width="12.03" height="50.39" fill="#f67f51"/>
<rect x="1025.76" y="322.76" width="23.75" height="50.39" fill="#fb8a57"/>
<rect x="1049.21" y="322.76" width="12.03" height="50.39" fill="#fc955e"/>
<rect x="1060.93" y="322.76" width="12.03" height="50.39" fill="#fc905b"/>
<rect x="1072.66" y="322.76" width="12.03" height="50.39" fill="#fc9a61"/>
<rect x="1084.38" y="322.76" width="12.03" height="50.39" fill="#fb8a57"/>
<rect x="1096.11" y="322.76" width="12.03" height="50.39" fill="#fc9f65"/>
<rect x="1107.84" y="322.76" width="12.03" height="50.39" fill="#fdae6f"/>
<rect x="1119.56" y="322.76" width="12.03" height="50.39" fill="#fdc27c"/>
<rect x="1131.29" y="322.76" width="12.03" height="50.39" fill="#fc9f65"/>
<rect x="1143.01" y="322.76" width="12.03" height="50.39" fill="#fda96b"/>
<rect x="1154.74" y="322.76" width="12.03" height="50.39" fill="#fc9f65"/>
<rect x="1166.46" y="322.76" width="23.75" height="50.39" fill="#fc9a61"/>
<rect x="1189.91" y="322.76" width="12.03" height="50.39" fill="#fc955e"/>
<rect x="1201.64" y="322.76" width="12.03" height="50.39" fill="#fc9f65"/>
<rect x="1213.36" y="322.76" width="23.75" height="50.39" fill="#fc955e"/>
<rect x="1236.82" y="322.76" width="12.03" height="50.39" fill="#fc905b"/>
<rect x="1248.54" y="322.76" width="12.03" height="50.39" fill="#f98554"/>
<rect x="1260.27" y="322.76" width="12.03" height="50.39" fill="#fc9f65"/>
<rect x="1271.99" y="322.76" width="12.03" height="50.39" fill="#fb8a57"/>
<rect x="1283.72" y="322.76" width="12.03" height="50.39" fill="#fc905b"/>
<rect x="1295.44" y="322.76" width="12.03" height="50.39" fill="#f4794e"/>
<rect x="1307.17" y="322.76" width="12.03" height="50.39" fill="#f98554"/>
<rect x="1318.89" y="322.76" width="12.03" height="50.39" fill="#f4794e"/>
<rect x="1330.62" y="322.76" width="23.75" height="50.39" fill="#fda96b"/>
<rect x="1354.07" y="322.76" width="12.03" height="50.39" fill="#fda468"/>
<rect x="1365.79" y="322.76" width="12.03" height="50.39" fill="#fda96b"/>
<rect x="1377.52" y="322.76" width="12.03" height="50.39" fill="#fdae6f"/>
<rect x="1389.25" y="322.76" width="12.03" height="50.39" fill="#fdbd79"/>
<rect x="1400.97" y="322.76" width="12.03" height="50.39" fill="#fdae6f"/>
<rect x="1412.7" y="322.76" width="12.03" height="50.39" fill="#fda96b"/>
<rect x="1424.42" y="322.76" width="12.03" height="50.39" fill="#fdae6f"/>
<rect x="1436.15" y="322.76" width="12.03" height="50.39" fill="#fdb372"/>
<rect x="1447.87" y="322.76" width="12.03" height="50.39" fill="#fdc27c"/>
<rect x="1459.6" y="322.76" width="12.03" height="50.39" fill="#fdb372"/>
<rect x="1471.32" y="322.76" width="12.03" height="50.39" fill="#fdc77f"/>
<rect x="1483.05" y="322.76" width="23.75" height="50.39" fill="#fc9f65"/>
<rect x="122.9" y="372.84" width="12.03" height="50.39" fill="#feeba1"/>
<rect x="134.63" y="372.84" width="12.03" height="50.39" fill="#fee89b"/>
<rect x="146.35" y="372.84" width="12.03" height="50.39" fill="#fff8b5"/>
<rect x="158.08" y="372.84" width="12.03" height="50.39" fill="#fee496"/>
<rect x="169.8" y="372.84" width="12.03" height="50.39" fill="#feeba1"/>
<rect x="181.53" y="372.84" width="12.03" height="50.39" fill="#fee293"/>
<rect x="193.25" y="372.84" width="12.03" height="50.39" fill="#fcfec4"/>
<rect x="204.98" y="372.84" width="12.03" height="50.39" fill="#f8fccb"/>
<rect x="216.7" y="372.84" width="12.03" height="50.39" fill="#feffc1"/>
<rect x="228.43" y="372.84" width="12.03" height="50.39" fill="#fffab8"/>
<rect x="240.15" y="372.84" width="12.03" height="50.39" fill="#e8f6ea"/>
<rect x="251.88" y="372.84" width="12.03" height="50.39" fill="#f3fad5"/>
<rect x="263.61" y="372.84" width="12.03" height="50.39" fill="#fffebe"/>
<rect x="275.33" y="372.84" width="12.03" height="50.39" fill="#f1fad9"/>
<rect x="287.06" y="372.84" width="12.03" height="50.39" fill="#fffcbb"/>
<rect x="298.78" y="372.84" width="12.03" height="50.39" fill="#f1fad9"/>
<rect x="310.51" y="372.84" width="12.03" height="50.39" fill="#f3fad5"/>
<rect x="322.23" y="372.84" width="23.75" height="50.39" fill="#f5fbd2"/>
<rect x="345.68" y="372.84" width="12.03" height="50.39" fill="#edf8e0"/>
<rect x="357.41" y="372.84" width="12.03" height="50.39" fill="#ebf7e3"/>
<rect x="369.13" y="372.84" width="12.03" height="50.39" fill="#f1fad9"/>
<rect x="380.86" y="372.84" width="12.03" height="50.39" fill="#edf8e0"/>
<rect x="392.58" y="372.84" width="12.03" height="50.39" fill="#e6f5ee"/>
<rect x="404.31" y="372.84" width="12.03" height="50.39" fill="#e9f7e7"/>
<rect x="416.04" y="372.84" width="12.03" height="50.39" fill="#f1fad9"/>
<rect x="427.76" y="372.84" width="12.03" height="50.39" fill="#fafdc8"/>
<rect x="439.49" y="372.84" width="12.03" height="50.39" fill="#fcfec4"/>
<rect x="451.21" y="372.84" width="12.03" height="50.39" fill="#fffcbb"/>
<rect x="462.94" y="372.84" width="12.03" height="50.39" fill="#fafdc8"/>
<rect x="474.66" y="372.84" width="12.03" height="50.39" fill="#f7fccf"/>
<rect x="486.39" y="372.84" width="12.03" height="50.39" fill="#f3fad5"/>
<rect x="498.11" y="372.84" width="12.03" height="50.39" fill="#f8fccb"/>
<rect x="509.84" y="372.84" width="12.03" height="50.39" fill="#f1fad9"/>
<rect x="521.56" y="372.84" width="12.03" height="50.39" fill="#f3fad5"/>
<rect x="533.29" y="372.84" width="12.03" height="50.39" fill="#f1fad9"/>
<rect x="545.02" y="372.84" width="12.03" height="50.39" fill="#f5fbd2"/>
<rect x="556.74" y="372.84" width="12.03" height="50.39" fill="#f1fad9"/>
<rect x="568.47" y="372.84" width="12.03" height="50.39" fill="#f3fad5"/>
<rect x="580.19" y="372.84" width="12.03" height="50.39" fill="#eff9dc"/>
<rect x="591.92" y="372.84" width="12.03" height="50.39" fill="#f5fbd2"/>
<rect x="603.64" y="372.84" width="12.03" height="50.39" fill="#f1fad9"/>
<rect x="615.37" y="372.84" width="23.75" height="50.39" fill="#e8f6ea"/>
<rect x="638.82" y="372.84" width="23.75" height="50.39" fill="#fffcbb"/>
<rect x="662.27" y="372.84" width="12.03" height="50.39" fill="#fffebe"/>
<rect x="673.99" y="372.84" width="12.03" height="50.39" fill="#feffc1"/>
<rect x="685.72" y="372.84" width="12.03" height="50.39" fill="#fffebe"/>
<rect x="697.45" y="372.84" width="12.03" height="50.39" fill="#fafdc8"/>
<rect x="709.17" y="372.84" width="12.03" height="50.39" fill="#fffcbb"/>
<rect x="720.9" y="372.84" width="12.03" height="50.39" fill="#feffc1"/>
<rect x="732.62" y="372.84" width="12.03" height="50.39" fill="#fcfec4"/>
<rect x="744.35" y="372.84" width="12.03" height="50.39" fill="#fffab8"/>
<rect x="756.07" y="372.84" width="12.03" height="50.39" fill="#fffebe"/>
<rect x="767.8" y="372.84" width="12.03" height="50.39" fill="#fcfec4"/>
<rect x="779.52" y="372.84" width="12.03" height="50.39" fill="#f3fad5"/>
<rect x="791.25" y="372.84" width="12.03" height="50.39" fill="#f7fccf"/>
<rect x="802.97" y="372.84" width="12.03" height="50.39" fill="#f3fad5"/>
<rect x="814.7" y="372.84" width="12.03" height="50.39" fill="#f1fad9"/>
<rect x="826.43" y="372.84" width="12.03" height="50.39" fill="#e8f6ea"/>
<rect x="838.15" y="372.84" width="12.03" height="50.39" fill="#f1fad9"/>
<rect x="849.88" y="372.84" width="12.03" height="50.39" fill="#f3fad5"/>
<rect x="861.6" y="372.84" width="12.03" height="50.39" fill="#f8fccb"/>
<rect x="873.33" y="372.84" width="12.03" height="50.39" fill="#feffc1"/>
<rect x="885.05" y="372.84" width="12.03" height="50.39" fill="#fcfec4"/>
<rect x="896.78" y="372.84" width="12.03" height="50.39" fill="#f3fad5"/>
<rect x="908.5" y="372.84" width="12.03" height="50.39" fill="#fff8b5"/>
<rect x="920.23" y="372.84" width="12.03" height="50.39" fill="#fff7b2"/>
<rect x="931.95" y="372.84" width="12.03" height="50.39" fill="#fff3ac"/>
<rect x="943.68" y="372.84" width="12.03" height="50.39" fill="#fff8b5"/>
<rect x="955.41" y="372.84" width="12.03" height="50.39" fill="#fffab8"/>
<rect x="967.13" y="372.84" width="23.75" height="50.39" fill="#fffebe"/>
<rect x="990.58" y="372.84" width="12.03" height="50.39" fill="#feffc1"/>
<rect x="1002.31" y="372.84" width="12.03" height="50.39" fill="#fffebe"/>
<rect x="1014.03" y="372.84" width="12.03" height="50.39" fill="#feffc1"/>
<rect x="1025.76" y="372.84" width="12.03" height="50.39" fill="#fffcbb"/>
<rect x="1037.48" y="372.84" width="23.75" height="50.39" fill="#fffebe"/>
<rect x="1060.93" y="372.84" width="12.03" height="50.39" fill="#feffc1"/>
<rect x="1072.66" y="372.84" width="35.48" height="50.39" fill="#fffcbb"/>
<rect x="1107.84" y="372.84" width="35.48" height="50.39" fill="#feffc1"/>
<rect x="1143.01" y="372.84" width="12.03" height="50.39" fill="#fafdc8"/>
<rect x="1154.74" y="372.84" width="12.03" height="50.39" fill="#f7fccf"/>
<rect x="1166.46" y="372.84" width="12.03" height="50.39" fill="#fafdc8"/>
<rect x="1178.19" y="372.84" width="12.03" height="50.39" fill="#feffc1"/>
<rect x="1189.91" y="372.84" width="47.2" height="50.39" fill="#fffebe"/>
<rect x="1236.82" y="372.84" width="12.03" height="50.39" fill="#fffcbb"/>
<rect x="1248.54" y="372.84" width="12.03" height="50.39" fill="#fffab8"/>
<rect x="1260.27" y="372.84" width="12.03" height="50.39" fill="#fff5af"/>
<rect x="1271.99" y="372.84" width="12.03" height="50.39" fill="#fcfec4"/>
<rect x="1283.72" y="372.84" width="12.03" height="50.39" fill="#feffc1"/>
<rect x="1295.44" y="372.84" width="23.75" height="50.39" fill="#fffebe"/>
<rect x="1318.89" y="372.84" width="12.03" height="50.39" fill="#fffcbb"/>
<rect x="1330.62" y="372.84" width="12.03" height="50.39" fill="#fffebe"/>
<rect x="1342.34" y="372.84" width="12.03" height="50.39" fill="#feffc1"/>
<rect x="1354.07" y="372.84" width="12.03" height="50.39" fill="#fffebe"/>
<rect x="1365.79" y="372.84" width="12.03" height="50.39" fill="#fffab8"/>
<rect x="1377.52" y="372.84" width="12.03" height="50.39" fill="#fcfec4"/>
<rect x="1389.25" y="372.84" width="12.03" height="50.39" fill="#f8fccb"/>
<rect x="1400.97" y="372.84" width="23.75" height="50.39" fill="#fafdc8"/>
<rect x="1424.42" y="372.84" width="12.03" height="50.39" fill="#f5fbd2"/>
<rect x="1436.15" y="372.84" width="12.03" height="50.39" fill="#f8fccb"/>
<rect x="1447.87" y="372.84" width="12.03" height="50.39" fill="#f7fccf"/>
<rect x="1459.6" y="372.84" width="12.03" height="50.39" fill="#f1fad9"/>
<rect x="1471.32" y="372.84" width="12.03" height="50.39" fill="#f5fbd2"/>
<rect x="1483.05" y="372.84" width="12.03" height="50.39" fill="#fffebe"/>
<rect x="1494.77" y="372.84" width="12.03" height="50.39" fill="#f3fad5"/>
<rect x="122.9" y="422.93" width="12.03" height="50.39" fill="#fffebe"/>
<rect x="134.63" y="422.93" width="12.03" height="50.39" fill="#fff1aa"/>
<rect x="146.35" y="422.93" width="23.75" height="50.39" fill="#fffab8"/>
<rect x="169.8" y="422.93" width="12.03" height="50.39" fill="#feeda4"/>
<rect x="181.53" y="422.93" width="12.03" height="50.39" fill="#fff1aa"/>
<rect x="193.25" y="422.93" width="12.03" height="50.39" fill="#f3fad5"/>
<rect x="204.98" y="422.93" width="12.03" height="50.39" fill="#e2f4f5"/>
<rect x="216.7" y="422.93" width="12.03" height="50.39" fill="#ebf7e3"/>
<rect x="228.43" y="422.93" width="12.03" height="50.39" fill="#badaea"/>
<rect x="240.15" y="422.93" width="12.03" height="50.39" fill="#fff8b5"/>
<rect x="251.88" y="422.93" width="12.03" height="50.39" fill="#fff5af"/>
<rect x="263.61" y="422.93" width="12.03" height="50.39" fill="#fffcbb"/>
<rect x="275.33" y="422.93" width="12.03" height="50.39" fill="#fffab8"/>
<rect x="287.06" y="422.93" width="12.03" height="50.39" fill="#f8fccb"/>
<rect x="298.78" y="422.93" width="12.03" height="50.39" fill="#fff8b5"/>
<rect x="310.51" y="422.93" width="12.03" height="50.39" fill="#fff3ac"/>
<rect x="322.23" y="422.93" width="12.03" height="50.39" fill="#fff1aa"/>
<rect x="333.96" y="422.93" width="12.03" height="50.39" fill="#fffab8"/>
<rect x="345.68" y="422.93" width="12.03" height="50.39" fill="#fff5af"/>
<rect x="357.41" y="422.93" width="12.03" height="50.39" fill="#fff8b5"/>
<rect x="369.13" y="422.93" width="12.03" height="50.39" fill="#fffab8"/>
<rect x="380.86" y="422.93" width="12.03" height="50.39" fill="#fffebe"/>
<rect x="392.58" y="422.93" width="12.03" height="50.39" fill="#f8fccb"/>
<rect x="404.31" y="422.93" width="12.03" height="50.39" fill="#fff7b2"/>
<rect x="416.04" y="422.93" width="12.03" height="50.39" fill="#fee99e"/>
<rect x="427.76" y="422.93" width="12.03" height="50.39" fill="#fffab8"/>
<rect x="439.49" y="422.93" width="23.75" height="50.39" fill="#fff8b5"/>
<rect x="462.94" y="422.93" width="23.75" height="50.39" fill="#fff7b2"/>
<rect x="486.39" y="422.93" width="12.03" height="50.39" fill="#fff5af"/>
<rect x="498.11" y="422.93" width="12.03" height="50.39" fill="#fff3ac"/>
<rect x="509.84" y="422.93" width="12.03" height="50.39" fill="#f5fbd2"/>
<rect x="521.56" y="422.93" width="12.03" height="50.39" fill="#fffab8"/>
<rect x="533.29" y="422.93" width="12.03" height="50.39" fill="#fff7b2"/>
<rect x="545.02" y="422.93" width="12.03" height="50.39" fill="#fff8b5"/>
<rect x="556.74" y="422.93" width="12.03" height="50.39" fill="#fff5af"/>
<rect x="568.47" y="422.93" width="12.03" height="50.39" fill="#fff7b2"/>
<rect x="580.19" y="422.93" width="12.03" height="50.39" fill="#fff3ac"/>
<rect x="591.92" y="422.93" width="12.03" height="50.39" fill="#feefa7"/>
<rect x="603.64" y="422.93" width="12.03" height="50.39" fill="#fffab8"/>
<rect x="615.37" y="422.93" width="12.03" height="50.39" fill="#fff8b5"/>
<rect x="627.09" y="422.93" width="12.03" height="50.39" fill="#fff1aa"/>
<rect x="638.82" y="422.93" width="12.03" height="50.39" fill="#fffab8"/>
<rect x="650.54" y="422.93" width="12.03" height="50.39" fill="#fff8b5"/>
<rect x="662.27" y="422.93" width="12.03" height="50.39" fill="#fffab8"/>
<rect x="673.99" y="422.93" width="12.03" height="50.39" fill="#fff7b2"/>
<rect x="685.72" y="422.93" width="12.03" height="50.39" fill="#f8fccb"/>
<rect x="697.45" y="422.93" width="12.03" height="50.39" fill="#fffebe"/>
<rect x="709.17" y="422.93" width="23.75" height="50.39" fill="#fffab8"/>
<rect x="732.62" y="422.93" width="12.03" height="50.39" fill="#fff8b5"/>
<rect x="744.35" y="422.93" width="12.03" height="50.39" fill="#fee99e"/>
<rect x="756.07" y="422.93" width="12.03" height="50.39" fill="#fff1aa"/>
<rect x="767.8" y="422.93" width="12.03" height="50.39" fill="#fff3ac"/>
<rect x="779.52" y="422.93" width="12.03" height="50.39" fill="#fffcbb"/>
<rect x="791.25" y="422.93" width="12.03" height="50.39" fill="#fffebe"/>
<rect x="802.97" y="422.93" width="12.03" height="50.39" fill="#fcfec4"/>
<rect x="814.7" y="422.93" width="12.03" height="50.39" fill="#fffebe"/>
<rect x="826.43" y="422.93" width="12.03" height="50.39" fill="#fff8b5"/>
<rect x="838.15" y="422.93" width="12.03" height="50.39" fill="#fff1aa"/>
<rect x="849.88" y="422.93" width="12.03" height="50.39" fill="#fffcbb"/>
<rect x="861.6" y="422.93" width="12.03" height="50.39" fill="#fff7b2"/>
<rect x="873.33" y="422.93" width="12.03" height="50.39" fill="#fffab8"/>
<rect x="885.05" y="422.93" width="12.03" height="50.39" fill="#fcfec4"/>
<rect x="896.78" y="422.93" width="12.03" height="50.39" fill="#fffab8"/>
<rect x="908.5" y="422.93" width="12.03" height="50.39" fill="#f7fccf"/>
<rect x="920.23" y="422.93" width="12.03" height="50.39" fill="#f5fbd2"/>
<rect x="931.95" y="422.93" width="12.03" height="50.39" fill="#feffc1"/>
<rect x="943.68" y="422.93" width="12.03" height="50.39" fill="#fffcbb"/>
<rect x="955.41" y="422.93" width="12.03" height="50.39" fill="#fffab8"/>
<rect x="967.13" y="422.93" width="12.03" height="50.39" fill="#fff8b5"/>
<rect x="978.86" y="422.93" width="12.03" height="50.39" fill="#fffcbb"/>
<rect x="990.58" y="422.93" width="12.03" height="50.39" fill="#fff7b2"/>
<rect x="1002.31" y="422.93" width="12.03" height="50.39" fill="#fffab8"/>
<rect x="1014.03" y="422.93" width="12.03" height="50.39" fill="#fcfec4"/>
<rect x="1025.76" y="422.93" width="12.03" height="50.39" fill="#fff7b2"/>
<rect x="1037.48" y="422.93" width="12.03" height="50.39" fill="#edf8e0"/>
<rect x="1049.21" y="422.93" width="12.03" height="50.39" fill="#f8fccb"/>
<rect x="1060.93" y="422.93" width="12.03" height="50.39" fill="#fff7b2"/>
<rect x="1072.66" y="422.93" width="12.03" height="50.39" fill="#fffab8"/>
<rect x="1084.38" y="422.93" width="12.03" height="50.39" fill="#feffc1"/>
<rect x="1096.11" y="422.93" width="12.03" height="50.39" fill="#f8fccb"/>
<rect x="1107.84" y="422.93" width="12.03" height="50.39" fill="#fff5af"/>
<rect x="1119.56" y="422.93" width="12.03" height="50.39" fill="#fffab8"/>
<rect x="1131.29" y="422.93" width="12.03" height="50.39" fill="#fff7b2"/>
<rect x="1143.01" y="422.93" width="12.03" height="50.39" fill="#fff8b5"/>
<rect x="1154.74" y="422.93" width="12.03" height="50.39" fill="#fffab8"/>
<rect x="1166.46" y="422.93" width="12.03" height="50.39" fill="#fffcbb"/>
<rect x="1178.19" y="422.93" width="12.03" height="50.39" fill="#fff5af"/>
<rect x="1189.91" y="422.93" width="12.03" height="50.39" fill="#fff7b2"/>
<rect x="1201.64" y="422.93" width="12.03" height="50.39" fill="#fff1aa"/>
<rect x="1213.36" y="422.93" width="12.03" height="50.39" fill="#fffcbb"/>
<rect x="1225.09" y="422.93" width="35.48" height="50.39" fill="#fffab8"/>
<rect x="1260.27" y="422.93" width="12.03" height="50.39" fill="#fff5af"/>
<rect x="1271.99" y="422.93" width="12.03" height="50.39" fill="#fffebe"/>
<rect x="1283.72" y="422.93" width="12.03" height="50.39" fill="#fff8b5"/>
<rect x="1295.44" y="422.93" width="12.03" height="50.39" fill="#fffcbb"/>
<rect x="1307.17" y="422.93" width="23.75" height="50.39" fill="#fffab8"/>
<rect x="1330.62" y="422.93" width="12.03" height="50.39" fill="#fffebe"/>
<rect x="1342.34" y="422.93" width="12.03" height="50.39" fill="#fafdc8"/>
<rect x="1354.07" y="422.93" width="12.03" height="50.39" fill="#f5fbd2"/>
<rect x="1365.79" y="422.93" width="12.03" height="50.39" fill="#fffebe"/>
<rect x="1377.52" y="422.93" width="12.03" height="50.39" fill="#f5fbd2"/>
<rect x="1389.25" y="422.93" width="12.03" height="50.39" fill="#e0f3f8"/>
<rect x="1400.97" y="422.93" width="12.03" height="50.39" fill="#fcfec4"/>
<rect x="1412.7" y="422.93" width="12.03" height="50.39" fill="#fff8b5"/>
<rect x="1424.42" y="422.93" width="12.03" height="50.39" fill="#f1fad9"/>
<rect x="1436.15" y="422.93" width="12.03" height="50.39" fill="#fafdc8"/>
<rect x="1447.87" y="422.93" width="12.03" height="50.39" fill="#f3fad5"/>
<rect x="1459.6" y="422.93" width="12.03" height="50.39" fill="#f7fccf"/>
<rect x="1471.32" y="422.93" width="12.03" height="50.39" fill="#f1fad9"/>
<rect x="1483.05" y="422.93" width="12.03" height="50.39" fill="#f5fbd2"/>
<rect x="1494.77" y="422.93" width="12.03" height="50.39" fill="#f1fad9"/>
<rect x="122.9" y="473.02" width="23.75" height="50.39" fill="#fffcbb"/>
<rect x="146.35" y="473.02" width="12.03" height="50.39" fill="#feffc1"/>
<rect x="158.08" y="473.02" width="12.03" height="50.39" fill="#f7fccf"/>
<rect x="169.8" y="473.02" width="12.03" height="50.39" fill="#fcfec4"/>
<rect x="181.53" y="473.02" width="12.03" height="50.39" fill="#f8fccb"/>
<rect x="193.25" y="473.02" width="12.03" height="50.39" fill="#f7fccf"/>
<rect x="204.98" y="473.02" width="12.03" height="50.39" fill="#fafdc8"/>
<rect x="216.7" y="473.02" width="12.03" height="50.39" fill="#f5fbd2"/>
<rect x="228.43" y="473.02" width="12.03" height="50.39" fill="#fffebe"/>
<rect x="240.15" y="473.02" width="12.03" height="50.39" fill="#d2eaf3"/>
<rect x="251.88" y="473.02" width="12.03" height="50.39" fill="#f3fad5"/>
<rect x="263.61" y="473.02" width="12.03" height="50.39" fill="#fcfec4"/>
<rect x="275.33" y="473.02" width="12.03" height="50.39" fill="#f7fccf"/>
<rect x="287.06" y="473.02" width="12.03" height="50.39" fill="#fafdc8"/>
<rect x="298.78" y="473.02" width="12.03" height="50.39" fill="#f5fbd2"/>
<rect x="310.51" y="473.02" width="12.03" height="50.39" fill="#fcfec4"/>
<rect x="322.23" y="473.02" width="12.03" height="50.39" fill="#f8fccb"/>
<rect x="333.96" y="473.02" width="12.03" height="50.39" fill="#fcfec4"/>
<rect x="345.68" y="473.02" width="12.03" height="50.39" fill="#fafdc8"/>
<rect x="357.41" y="473.02" width="12.03" height="50.39" fill="#f7fccf"/>
<rect x="369.13" y="473.02" width="12.03" height="50.39" fill="#f8fccb"/>
<rect x="380.86" y="473.02" width="12.03" height="50.39" fill="#f5fbd2"/>
<rect x="392.58" y="473.02" width="12.03" height="50.39" fill="#fcfec4"/>
<rect x="404.31" y="473.02" width="12.03" height="50.39" fill="#f5fbd2"/>
<rect x="416.04" y="473.02" width="12.03" height="50.39" fill="#fcfec4"/>
<rect x="427.76" y="473.02" width="12.03" height="50.39" fill="#fffebe"/>
<rect x="439.49" y="473.02" width="35.48" height="50.39" fill="#fcfec4"/>
<rect x="474.66" y="473.02" width="12.03" height="50.39" fill="#f8fccb"/>
<rect x="486.39" y="473.02" width="12.03" height="50.39" fill="#f7fccf"/>
<rect x="498.11" y="473.02" width="12.03" height="50.39" fill="#fcfec4"/>
<rect x="509.84" y="473.02" width="12.03" height="50.39" fill="#fafdc8"/>
<rect x="521.56" y="473.02" width="12.03" height="50.39" fill="#f5fbd2"/>
<rect x="533.29" y="473.02" width="12.03" height="50.39" fill="#f1fad9"/>
<rect x="545.02" y="473.02" width="12.03" height="50.39" fill="#f8fccb"/>
<rect x="556.74" y="473.02" width="12.03" height="50.39" fill="#f3fad5"/>
<rect x="568.47" y="473.02" width="12.03" height="50.39" fill="#f7fccf"/>
<rect x="580.19" y="473.02" width="12.03" height="50.39" fill="#f8fccb"/>
<rect x="591.92" y="473.02" width="12.03" height="50.39" fill="#f7fccf"/>
<rect x="603.64" y="473.02" width="12.03" height="50.39" fill="#fcfec4"/>
<rect x="615.37" y="473.02" width="12.03" height="50.39" fill="#f5fbd2"/>
<rect x="627.09" y="473.02" width="12.03" height="50.39" fill="#eff9dc"/>
<rect x="638.82" y="473.02" width="12.03" height="50.39" fill="#fffebe"/>
<rect x="650.54" y="473.02" width="12.03" height="50.39" fill="#fafdc8"/>
<rect x="662.27" y="473.02" width="12.03" height="50.39" fill="#f8fccb"/>
<rect x="673.99" y="473.02" width="12.03" height="50.39" fill="#fcfec4"/>
<rect x="685.72" y="473.02" width="12.03" height="50.39" fill="#f7fccf"/>
<rect x="697.45" y="473.02" width="12.03" height="50.39" fill="#f1fad9"/>
<rect x="709.17" y="473.02" width="12.03" height="50.39" fill="#feffc1"/>
<rect x="720.9" y="473.02" width="12.03" height="50.39" fill="#fcfec4"/>
<rect x="732.62" y="473.02" width="12.03" height="50.39" fill="#feffc1"/>
<rect x="744.35" y="473.02" width="23.75" height="50.39" fill="#f7fccf"/>
<rect x="767.8" y="473.02" width="12.03" height="50.39" fill="#fafdc8"/>
<rect x="779.52" y="473.02" width="12.03" height="50.39" fill="#f7fccf"/>
<rect x="791.25" y="473.02" width="12.03" height="50.39" fill="#f5fbd2"/>
<rect x="802.97" y="473.02" width="12.03" height="50.39" fill="#f1fad9"/>
<rect x="814.7" y="473.02" width="12.03" height="50.39" fill="#f8fccb"/>
<rect x="826.43" y="473.02" width="12.03" height="50.39" fill="#f7fccf"/>
<rect x="838.15" y="473.02" width="12.03" height="50.39" fill="#fffebe"/>
<rect x="849.88" y="473.02" width="12.03" height="50.39" fill="#fafdc8"/>
<rect x="861.6" y="473.02" width="12.03" height="50.39" fill="#f5fbd2"/>
<rect x="873.33" y="473.02" width="47.2" height="50.39" fill="#fcfec4"/>
<rect x="920.23" y="473.02" width="12.03" height="50.39" fill="#feffc1"/>
<rect x="931.95" y="473.02" width="12.03" height="50.39" fill="#fcfec4"/>
<rect x="943.68" y="473.02" width="12.03" height="50.39" fill="#fffebe"/>
<rect x="955.41" y="473.02" width="12.03" height="50.39" fill="#feffc1"/>
<rect x="967.13" y="473.02" width="12.03" height="50.39" fill="#fffebe"/>
<rect x="978.86" y="473.02" width="23.75" height="50.39" fill="#fcfec4"/>
<rect x="1002.31" y="473.02" width="12.03" height="50.39" fill="#fffebe"/>
<rect x="1014.03" y="473.02" width="12.03" height="50.39" fill="#feffc1"/>
<rect x="1025.76" y="473.02" width="12.03" height="50.39" fill="#fffebe"/>
<rect x="1037.48" y="473.02" width="12.03" height="50.39" fill="#fcfec4"/>
<rect x="1049.21" y="473.02" width="12.03" height="50.39" fill="#f7fccf"/>
<rect x="1060.93" y="473.02" width="12.03" height="50.39" fill="#eff9dc"/>
<rect x="1072.66" y="473.02" width="12.03" height="50.39" fill="#f8fccb"/>
<rect x="1084.38" y="473.02" width="23.75" height="50.39" fill="#fcfec4"/>
<rect x="1107.84" y="473.02" width="12.03" height="50.39" fill="#feffc1"/>
<rect x="1119.56" y="473.02" width="12.03" height="50.39" fill="#fcfec4"/>
<rect x="1131.29" y="473.02" width="23.75" height="50.39" fill="#feffc1"/>
<rect x="1154.74" y="473.02" width="23.75" height="50.39" fill="#fffebe"/>
<rect x="1178.19" y="473.02" width="12.03" height="50.39" fill="#feffc1"/>
<rect x="1189.91" y="473.02" width="12.03" height="50.39" fill="#fffebe"/>
<rect x="1201.64" y="473.02" width="12.03" height="50.39" fill="#fcfec4"/>
<rect x="1213.36" y="473.02" width="12.03" height="50.39" fill="#feffc1"/>
<rect x="1225.09" y="473.02" width="12.03" height="50.39" fill="#fafdc8"/>
<rect x="1236.82" y="473.02" width="12.03" height="50.39" fill="#feffc1"/>
<rect x="1248.54" y="473.02" width="12.03" height="50.39" fill="#f8fccb"/>
<rect x="1260.27" y="473.02" width="35.48" height="50.39" fill="#fcfec4"/>
<rect x="1295.44" y="473.02" width="35.48" height="50.39" fill="#feffc1"/>
<rect x="1330.62" y="473.02" width="12.03" height="50.39" fill="#fcfec4"/>
<rect x="1342.34" y="473.02" width="12.03" height="50.39" fill="#feffc1"/>
<rect x="1354.07" y="473.02" width="58.93" height="50.39" fill="#fcfec4"/>
<rect x="1412.7" y="473.02" width="12.03" height="50.39" fill="#f7fccf"/>
<rect x="1424.42" y="473.02" width="12.03" height="50.39" fill="#fcfec4"/>
<rect x="1436.15" y="473.02" width="12.03" height="50.39" fill="#f7fccf"/>
<rect x="1447.87" y="473.02" width="12.03" height="50.39" fill="#fafdc8"/>
<rect x="1459.6" y="473.02" width="12.03" height="50.39" fill="#f7fccf"/>
<rect x="1471.32" y="473.02" width="12.03" height="50.39" fill="#fafdc8"/>
<rect x="1483.05" y="473.02" width="12.03" height="50.39" fill="#fcfec4"/>
<rect x="1494.77" y="473.02" width="12.03" height="50.39" fill="#fffebe"/>
<rect x="122.9" y="523.11" width="12.03" height="50.39" fill="#f5fbd2"/>
<rect x="134.63" y="523.11" width="12.03" height="50.39" fill="#f3fad5"/>
<rect x="146.35" y="523.11" width="12.03" height="50.39" fill="#f5fbd2"/>
<rect x="158.08" y="523.11" width="12.03" height="50.39" fill="#f1fad9"/>
<rect x="169.8" y="523.11" width="12.03" height="50.39" fill="#f7fccf"/>
<rect x="181.53" y="523.11" width="12.03" height="50.39" fill="#f5fbd2"/>
<rect x="193.25" y="523.11" width="12.03" height="50.39" fill="#f1fad9"/>
<rect x="204.98" y="523.11" width="12.03" height="50.39" fill="#f5fbd2"/>
<rect x="216.7" y="523.11" width="12.03" height="50.39" fill="#f3fad5"/>
<rect x="228.43" y="523.11" width="12.03" height="50.39" fill="#f1fad9"/>
<rect x="240.15" y="523.11" width="12.03" height="50.39" fill="#edf8e0"/>
<rect x="251.88" y="523.11" width="23.75" height="50.39" fill="#f1fad9"/>
<rect x="275.33" y="523.11" width="12.03" height="50.39" fill="#eff9dc"/>
<rect x="287.06" y="523.11" width="12.03" height="50.39" fill="#f3fad5"/>
<rect x="298.78" y="523.11" width="12.03" height="50.39" fill="#edf8e0"/>
<rect x="310.51" y="523.11" width="12.03" height="50.39" fill="#f1fad9"/>
<rect x="322.23" y="523.11" width="12.03" height="50.39" fill="#edf8e0"/>
<rect x="333.96" y="523.11" width="23.75" height="50.39" fill="#f1fad9"/>
<rect x="357.41" y="523.11" width="12.03" height="50.39" fill="#eff9dc"/>
<rect x="369.13" y="523.11" width="23.75" height="50.39" fill="#f1fad9"/>
<rect x="392.58" y="523.11" width="12.03" height="50.39" fill="#eff9dc"/>
<rect x="404.31" y="523.11" width="12.03" height="50.39" fill="#f5fbd2"/>
<rect x="416.04" y="523.11" width="12.03" height="50.39" fill="#fcfec4"/>
<rect x="427.76" y="523.11" width="23.75" height="50.39" fill="#f7fccf"/>
<rect x="451.21" y="523.11" width="23.75" height="50.39" fill="#f3fad5"/>
<rect x="474.66" y="523.11" width="12.03" height="50.39" fill="#f5fbd2"/>
<rect x="486.39" y="523.11" width="12.03" height="50.39" fill="#f3fad5"/>
<rect x="498.11" y="523.11" width="12.03" height="50.39" fill="#f1fad9"/>
<rect x="509.84" y="523.11" width="23.75" height="50.39" fill="#f5fbd2"/>
<rect x="533.29" y="523.11" width="12.03" height="50.39" fill="#f3fad5"/>
<rect x="545.02" y="523.11" width="35.48" height="50.39" fill="#f1fad9"/>
<rect x="580.19" y="523.11" width="12.03" height="50.39" fill="#f5fbd2"/>
<rect x="591.92" y="523.11" width="12.03" height="50.39" fill="#f1fad9"/>
<rect x="603.64" y="523.11" width="12.03" height="50.39" fill="#f3fad5"/>
<rect x="615.37" y="523.11" width="12.03" height="50.39" fill="#f1fad9"/>
<rect x="627.09" y="523.11" width="12.03" height="50.39" fill="#eff9dc"/>
<rect x="638.82" y="523.11" width="12.03" height="50.39" fill="#f3fad5"/>
<rect x="650.54" y="523.11" width="35.48" height="50.39" fill="#f1fad9"/>
<rect x="685.72" y="523.11" width="12.03" height="50.39" fill="#f3fad5"/>
<rect x="697.45" y="523.11" width="12.03" height="50.39" fill="#f5fbd2"/>
<rect x="709.17" y="523.11" width="12.03" height="50.39" fill="#f1fad9"/>
<rect x="720.9" y="523.11" width="12.03" height="50.39" fill="#f3fad5"/>
<rect x="732.62" y="523.11" width="12.03" height="50.39" fill="#f1fad9"/>
<rect x="744.35" y="523.11" width="12.03" height="50.39" fill="#f3fad5"/>
<rect x="756.07" y="523.11" width="23.75" height="50.39" fill="#f1fad9"/>
<rect x="779.52" y="523.11" width="23.75" height="50.39" fill="#f3fad5"/>
<rect x="802.97" y="523.11" width="12.03" height="50.39" fill="#f5fbd2"/>
<rect x="814.7" y="523.11" width="12.03" height="50.39" fill="#f3fad5"/>
<rect x="826.43" y="523.11" width="23.75" height="50.39" fill="#f5fbd2"/>
<rect x="849.88" y="523.11" width="12.03" height="50.39" fill="#f3fad5"/>
<rect x="861.6" y="523.11" width="12.03" height="50.39" fill="#f5fbd2"/>
<rect x="873.33" y="523.11" width="12.03" height="50.39" fill="#f3fad5"/>
<rect x="885.05" y="523.11" width="23.75" height="50.39" fill="#f5fbd2"/>
<rect x="908.5" y="523.11" width="12.03" height="50.39" fill="#f1fad9"/>
<rect x="920.23" y="523.11" width="12.03" height="50.39" fill="#f3fad5"/>
<rect x="931.95" y="523.11" width="23.75" height="50.39" fill="#f1fad9"/>
<rect x="955.41" y="523.11" width="12.03" height="50.39" fill="#f3fad5"/>
<rect x="967.13" y="523.11" width="35.48" height="50.39" fill="#f1fad9"/>
<rect x="1002.31" y="523.11" width="12.03" height="50.39" fill="#eff9dc"/>
<rect x="1014.03" y="523.11" width="12.03" height="50.39" fill="#f1fad9"/>
<rect x="1025.76" y="523.11" width="12.03" height="50.39" fill="#f3fad5"/>
<rect x="1037.48" y="523.11" width="47.2" height="50.39" fill="#f1fad9"/>
<rect x="1084.38" y="523.11" width="12.03" height="50.39" fill="#eff9dc"/>
<rect x="1096.11" y="523.11" width="12.03" height="50.39" fill="#f1fad9"/>
<rect x="1107.84" y="523.11" width="12.03" height="50.39" fill="#f5fbd2"/>
<rect x="1119.56" y="523.11" width="12.03" height="50.39" fill="#f1fad9"/>
<rect x="1131.29" y="523.11" width="12.03" height="50.39" fill="#f5fbd2"/>
<rect x="1143.01" y="523.11" width="23.75" height="50.39" fill="#f1fad9"/>
<rect x="1166.46" y="523.11" width="23.75" height="50.39" fill="#f5fbd2"/>
<rect x="1189.91" y="523.11" width="12.03" height="50.39" fill="#f3fad5"/>
<rect x="1201.64" y="523.11" width="12.03" height="50.39" fill="#f1fad9"/>
<rect x="1213.36" y="523.11" width="12.03" height="50.39" fill="#f3fad5"/>
<rect x="1225.09" y="523.11" width="23.75" height="50.39" fill="#f1fad9"/>
<rect x="1248.54" y="523.11" width="12.03" height="50.39" fill="#f3fad5"/>
<rect x="1260.27" y="523.11" width="23.75" height="50.39" fill="#f1fad9"/>
<rect x="1283.72" y="523.11" width="12.03" height="50.39" fill="#f3fad5"/>
<rect x="1295.44" y="523.11" width="12.03" height="50.39" fill="#f5fbd2"/>
<rect x="1307.17" y="523.11" width="12.03" height="50.39" fill="#f3fad5"/>
<rect x="1318.89" y="523.11" width="12.03" height="50.39" fill="#f5fbd2"/>
<rect x="1330.62" y="523.11" width="12.03" height="50.39" fill="#f3fad5"/>
<rect x="1342.34" y="523.11" width="23.75" height="50.39" fill="#f5fbd2"/>
<rect x="1365.79" y="523.11" width="12.03" height="50.39" fill="#f3fad5"/>
<rect x="1377.52" y="523.11" width="12.03" height="50.39" fill="#f5fbd2"/>
<rect x="1389.25" y="523.11" width="12.03" height="50.39" fill="#f3fad5"/>
<rect x="1400.97" y="523.11" width="12.03" height="50.39" fill="#f1fad9"/>
<rect x="1412.7" y="523.11" width="12.03" height="50.39" fill="#eff9dc"/>
<rect x="1424.42" y="523.11" width="12.03" height="50.39" fill="#f5fbd2"/>
<rect x="1436.15" y="523.11" width="12.03" height="50.39" fill="#f3fad5"/>
<rect x="1447.87" y="523.11" width="12.03" height="50.39" fill="#f5fbd2"/>
<rect x="1459.6" y="523.11" width="12.03" height="50.39" fill="#f3fad5"/>
<rect x="1471.32" y="523.11" width="12.03" height="50.39" fill="#f1fad9"/>
<rect x="1483.05" y="523.11" width="12.03" height="50.39" fill="#f3fad5"/>
<rect x="1494.77" y="523.11" width="12.03" height="50.39" fill="#f5fbd2"/>
<rect x="122.9" y="573.2" width="12.03" height="50.39" fill="#fff8b5"/>
<rect x="134.63" y="573.2" width="12.03" height="50.39" fill="#fcfec4"/>
<rect x="146.35" y="573.2" width="12.03" height="50.39" fill="#feefa7"/>
<rect x="158.08" y="573.2" width="12.03" height="50.39" fill="#feffc1"/>
<rect x="169.8" y="573.2" width="12.03" height="50.39" fill="#feefa7"/>
<rect x="181.53" y="573.2" width="12.03" height="50.39" fill="#fffcbb"/>
<rect x="193.25" y="573.2" width="12.03" height="50.39" fill="#e2f4f5"/>
<rect x="204.98" y="573.2" width="12.03" height="50.39" fill="#f8fccb"/>
<rect x="216.7" y="573.2" width="12.03" height="50.39" fill="#edf8e0"/>
<rect x="228.43" y="573.2" width="12.03" height="50.39" fill="#feffc1"/>
<rect x="240.15" y="573.2" width="12.03" height="50.39" fill="#fff8b5"/>
<rect x="251.88" y="573.2" width="12.03" height="50.39" fill="#e0f3f8"/>
<rect x="263.61" y="573.2" width="12.03" height="50.39" fill="#fffcbb"/>
<rect x="275.33" y="573.2" width="12.03" height="50.39" fill="#fffab8"/>
<rect x="287.06" y="573.2" width="12.03" height="50.39" fill="#fff1aa"/>
<rect x="298.78" y="573.2" width="12.03" height="50.39" fill="#feeda4"/>
<rect x="310.51" y="573.2" width="12.03" height="50.39" fill="#fffcbb"/>
<rect x="322.23" y="573.2" width="12.03" height="50.39" fill="#fffebe"/>
<rect x="333.96" y="573.2" width="12.03" height="50.39" fill="#fcfec4"/>
<rect x="345.68" y="573.2" width="12.03" height="50.39" fill="#feefa7"/>
<rect x="357.41" y="573.2" width="12.03" height="50.39" fill="#fff3ac"/>
<rect x="369.13" y="573.2" width="12.03" height="50.39" fill="#fffab8"/>
<rect x="380.86" y="573.2" width="12.03" height="50.39" fill="#fff8b5"/>
<rect x="392.58" y="573.2" width="12.03" height="50.39" fill="#fffab8"/>
<rect x="404.31" y="573.2" width="12.03" height="50.39" fill="#fff3ac"/>
<rect x="416.04" y="573.2" width="12.03" height="50.39" fill="#fffcbb"/>
<rect x="427.76" y="573.2" width="12.03" height="50.39" fill="#fffab8"/>
<rect x="439.49" y="573.2" width="12.03" height="50.39" fill="#fffcbb"/>
<rect x="451.21" y="573.2" width="12.03" height="50.39" fill="#fff5af"/>
<rect x="462.94" y="573.2" width="23.75" height="50.39" fill="#fff3ac"/>
<rect x="486.39" y="573.2" width="12.03" height="50.39" fill="#feefa7"/>
<rect x="498.11" y="573.2" width="12.03" height="50.39" fill="#fff8b5"/>
<rect x="509.84" y="573.2" width="12.03" height="50.39" fill="#fffcbb"/>
<rect x="521.56" y="573.2" width="12.03" height="50.39" fill="#fffab8"/>
<rect x="533.29" y="573.2" width="12.03" height="50.39" fill="#fff8b5"/>
<rect x="545.02" y="573.2" width="12.03" height="50.39" fill="#fffab8"/>
<rect x="556.74" y="573.2" width="12.03" height="50.39" fill="#fffcbb"/>
<rect x="568.47" y="573.2" width="12.03" height="50.39" fill="#fff7b2"/>
<rect x="580.19" y="573.2" width="12.03" height="50.39" fill="#fff8b5"/>
<rect x="591.92" y="573.2" width="12.03" height="50.39" fill="#fff7b2"/>
<rect x="603.64" y="573.2" width="12.03" height="50.39" fill="#fffebe"/>
<rect x="615.37" y="573.2" width="12.03" height="50.39" fill="#fff1aa"/>
<rect x="627.09" y="573.2" width="12.03" height="50.39" fill="#fffcbb"/>
<rect x="638.82" y="573.2" width="12.03" height="50.39" fill="#fff5af"/>
<rect x="650.54" y="573.2" width="12.03" height="50.39" fill="#fffab8"/>
<rect x="662.27" y="573.2" width="23.75" height="50.39" fill="#fff5af"/>
<rect x="685.72" y="573.2" width="12.03" height="50.39" fill="#fffebe"/>
<rect x="697.45" y="573.2" width="23.75" height="50.39" fill="#fffcbb"/>
<rect x="720.9" y="573.2" width="12.03" height="50.39" fill="#fff8b5"/>
<rect x="732.62" y="573.2" width="12.03" height="50.39" fill="#fffab8"/>
<rect x="744.35" y="573.2" width="12.03" height="50.39" fill="#fff8b5"/>
<rect x="756.07" y="573.2" width="12.03" height="50.39" fill="#fff3ac"/>
<rect x="767.8" y="573.2" width="23.75" height="50.39" fill="#fff1aa"/>
<rect x="791.25" y="573.2" width="12.03" height="50.39" fill="#fffab8"/>
<rect x="802.97" y="573.2" width="12.03" height="50.39" fill="#fffcbb"/>
<rect x="814.7" y="573.2" width="12.03" height="50.39" fill="#fffab8"/>
<rect x="826.43" y="573.2" width="12.03" height="50.39" fill="#fffcbb"/>
<rect x="838.15" y="573.2" width="12.03" height="50.39" fill="#fff5af"/>
<rect x="849.88" y="573.2" width="12.03" height="50.39" fill="#fffab8"/>
<rect x="861.6" y="573.2" width="12.03" height="50.39" fill="#fff8b5"/>
<rect x="873.33" y="573.2" width="12.03" height="50.39" fill="#fffab8"/>
<rect x="885.05" y="573.2" width="12.03" height="50.39" fill="#fff7b2"/>
<rect x="896.78" y="573.2" width="12.03" height="50.39" fill="#fffcbb"/>
<rect x="908.5" y="573.2" width="12.03" height="50.39" fill="#fffab8"/>
<rect x="920.23" y="573.2" width="12.03" height="50.39" fill="#fcfec4"/>
<rect x="931.95" y="573.2" width="12.03" height="50.39" fill="#feffc1"/>
<rect x="943.68" y="573.2" width="12.03" height="50.39" fill="#fcfec4"/>
<rect x="955.41" y="573.2" width="12.03" height="50.39" fill="#fffebe"/>
<rect x="967.13" y="573.2" width="23.75" height="50.39" fill="#fcfec4"/>
<rect x="990.58" y="573.2" width="12.03" height="50.39" fill="#feffc1"/>
<rect x="1002.31" y="573.2" width="23.75" height="50.39" fill="#fcfec4"/>
<rect x="1025.76" y="573.2" width="12.03" height="50.39" fill="#fff5af"/>
<rect x="1037.48" y="573.2" width="12.03" height="50.39" fill="#f5fbd2"/>
<rect x="1049.21" y="573.2" width="12.03" height="50.39" fill="#fafdc8"/>
<rect x="1060.93" y="573.2" width="12.03" height="50.39" fill="#f8fccb"/>
<rect x="1072.66" y="573.2" width="12.03" height="50.39" fill="#fffebe"/>
<rect x="1084.38" y="573.2" width="12.03" height="50.39" fill="#fcfec4"/>
<rect x="1096.11" y="573.2" width="23.75" height="50.39" fill="#fffcbb"/>
<rect x="1119.56" y="573.2" width="12.03" height="50.39" fill="#feffc1"/>
<rect x="1131.29" y="573.2" width="23.75" height="50.39" fill="#fffcbb"/>
<rect x="1154.74" y="573.2" width="12.03" height="50.39" fill="#fffebe"/>
<rect x="1166.46" y="573.2" width="12.03" height="50.39" fill="#fcfec4"/>
<rect x="1178.19" y="573.2" width="12.03" height="50.39" fill="#fffcbb"/>
<rect x="1189.91" y="573.2" width="12.03" height="50.39" fill="#fcfec4"/>
<rect x="1201.64" y="573.2" width="12.03" height="50.39" fill="#feffc1"/>
<rect x="1213.36" y="573.2" width="12.03" height="50.39" fill="#fcfec4"/>
<rect x="1225.09" y="573.2" width="12.03" height="50.39" fill="#fafdc8"/>
<rect x="1236.82" y="573.2" width="12.03" height="50.39" fill="#feffc1"/>
<rect x="1248.54" y="573.2" width="12.03" height="50.39" fill="#fcfec4"/>
<rect x="1260.27" y="573.2" width="12.03" height="50.39" fill="#fffebe"/>
<rect x="1271.99" y="573.2" width="23.75" height="50.39" fill="#fcfec4"/>
<rect x="1295.44" y="573.2" width="12.03" height="50.39" fill="#fffab8"/>
<rect x="1307.17" y="573.2" width="12.03" height="50.39" fill="#fcfec4"/>
<rect x="1318.89" y="573.2" width="12.03" height="50.39" fill="#fffcbb"/>
<rect x="1330.62" y="573.2" width="12.03" height="50.39" fill="#fcfec4"/>
<rect x="1342.34" y="573.2" width="12.03" height="50.39" fill="#feffc1"/>
<rect x="1354.07" y="573.2" width="12.03" height="50.39" fill="#f8fccb"/>
<rect x="1365.79" y="573.2" width="12.03" height="50.39" fill="#fafdc8"/>
<rect x="1377.52" y="573.2" width="12.03" height="50.39" fill="#f7fccf"/>
<rect x="1389.25" y="573.2" width="12.03" height="50.39" fill="#f8fccb"/>
<rect x="1400.97" y="573.2" width="12.03" height="50.39" fill="#f3fad5"/>
<rect x="1412.7" y="573.2" width="12.03" height="50.39" fill="#f5fbd2"/>
<rect x="1424.42" y="573.2" width="12.03" height="50.39" fill="#e8f6ea"/>
<rect x="1436.15" y="573.2" width="12.03" height="50.39" fill="#f5fbd2"/>
<rect x="1447.87" y="573.2" width="12.03" height="50.39" fill="#edf8e0"/>
<rect x="1459.6" y="573.2" width="12.03" height="50.39" fill="#fff8b5"/>
<rect x="1471.32" y="573.2" width="12.03" height="50.39" fill="#fff7b2"/>
<rect x="1483.05" y="573.2" width="12.03" height="50.39" fill="#fcfec4"/>
<rect x="1494.77" y="573.2" width="12.03" height="50.39" fill="#f5fbd2"/>
<rect x="122.9" y="623.29" width="12.03" height="50.39" fill="#fff3ac"/>
<rect x="134.63" y="623.29" width="12.03" height="50.39" fill="#fffebe"/>
<rect x="146.35" y="623.29" width="12.03" height="50.39" fill="#fffab8"/>
<rect x="158.08" y="623.29" width="12.03" height="50.39" fill="#fffcbb"/>
<rect x="169.8" y="623.29" width="12.03" height="50.39" fill="#fff3ac"/>
<rect x="181.53" y="623.29" width="12.03" height="50.39" fill="#fff7b2"/>
<rect x="193.25" y="623.29" width="12.03" height="50.39" fill="#fffcbb"/>
<rect x="204.98" y="623.29" width="12.03" height="50.39" fill="#fffebe"/>
<rect x="216.7" y="623.29" width="23.75" height="50.39" fill="#fffcbb"/>
<rect x="240.15" y="623.29" width="12.03" height="50.39" fill="#f8fccb"/>
<rect x="251.88" y="623.29" width="12.03" height="50.39" fill="#fff1aa"/>
<rect x="263.61" y="623.29" width="12.03" height="50.39" fill="#fffcbb"/>
<rect x="275.33" y="623.29" width="12.03" height="50.39" fill="#fff8b5"/>
<rect x="287.06" y="623.29" width="12.03" height="50.39" fill="#feeba1"/>
<rect x="298.78" y="623.29" width="12.03" height="50.39" fill="#fff1aa"/>
<rect x="310.51" y="623.29" width="12.03" height="50.39" fill="#fffab8"/>
<rect x="322.23" y="623.29" width="12.03" height="50.39" fill="#fff1aa"/>
<rect x="333.96" y="623.29" width="12.03" height="50.39" fill="#fffcbb"/>
<rect x="345.68" y="623.29" width="12.03" height="50.39" fill="#fff8b5"/>
<rect x="357.41" y="623.29" width="12.03" height="50.39" fill="#fffab8"/>
<rect x="369.13" y="623.29" width="12.03" height="50.39" fill="#fff7b2"/>
<rect x="380.86" y="623.29" width="12.03" height="50.39" fill="#fffab8"/>
<rect x="392.58" y="623.29" width="12.03" height="50.39" fill="#fffcbb"/>
<rect x="404.31" y="623.29" width="12.03" height="50.39" fill="#fff8b5"/>
<rect x="416.04" y="623.29" width="12.03" height="50.39" fill="#fffab8"/>
<rect x="427.76" y="623.29" width="12.03" height="50.39" fill="#fff8b5"/>
<rect x="439.49" y="623.29" width="12.03" height="50.39" fill="#fff7b2"/>
<rect x="451.21" y="623.29" width="12.03" height="50.39" fill="#fff8b5"/>
<rect x="462.94" y="623.29" width="23.75" height="50.39" fill="#fffab8"/>
<rect x="486.39" y="623.29" width="12.03" height="50.39" fill="#fffcbb"/>
<rect x="498.11" y="623.29" width="23.75" height="50.39" fill="#fff7b2"/>
<rect x="521.56" y="623.29" width="12.03" height="50.39" fill="#fff8b5"/>
<rect x="533.29" y="623.29" width="12.03" height="50.39" fill="#fff7b2"/>
<rect x="545.02" y="623.29" width="12.03" height="50.39" fill="#fffab8"/>
<rect x="556.74" y="623.29" width="12.03" height="50.39" fill="#fff7b2"/>
<rect x="568.47" y="623.29" width="12.03" height="50.39" fill="#fff5af"/>
<rect x="580.19" y="623.29" width="12.03" height="50.39" fill="#fff8b5"/>
<rect x="591.92" y="623.29" width="12.03" height="50.39" fill="#fffebe"/>
<rect x="603.64" y="623.29" width="12.03" height="50.39" fill="#fff7b2"/>
<rect x="615.37" y="623.29" width="23.75" height="50.39" fill="#fffebe"/>
<rect x="638.82" y="623.29" width="12.03" height="50.39" fill="#fff7b2"/>
<rect x="650.54" y="623.29" width="12.03" height="50.39" fill="#fffcbb"/>
<rect x="662.27" y="623.29" width="12.03" height="50.39" fill="#fffebe"/>
<rect x="673.99" y="623.29" width="12.03" height="50.39" fill="#fffcbb"/>
<rect x="685.72" y="623.29" width="12.03" height="50.39" fill="#fcfec4"/>
<rect x="697.45" y="623.29" width="12.03" height="50.39" fill="#fffebe"/>
<rect x="709.17" y="623.29" width="12.03" height="50.39" fill="#fff5af"/>
<rect x="720.9" y="623.29" width="12.03" height="50.39" fill="#feffc1"/>
<rect x="732.62" y="623.29" width="12.03" height="50.39" fill="#fffebe"/>
<rect x="744.35" y="623.29" width="12.03" height="50.39" fill="#feefa7"/>
<rect x="756.07" y="623.29" width="12.03" height="50.39" fill="#fffcbb"/>
<rect x="767.8" y="623.29" width="12.03" height="50.39" fill="#fffebe"/>
<rect x="779.52" y="623.29" width="12.03" height="50.39" fill="#fffcbb"/>
<rect x="791.25" y="623.29" width="23.75" height="50.39" fill="#fffab8"/>
<rect x="814.7" y="623.29" width="23.75" height="50.39" fill="#fffcbb"/>
<rect x="838.15" y="623.29" width="12.03" height="50.39" fill="#fffebe"/>
<rect x="849.88" y="623.29" width="12.03" height="50.39" fill="#fffcbb"/>
<rect x="861.6" y="623.29" width="12.03" height="50.39" fill="#fffebe"/>
<rect x="873.33" y="623.29" width="12.03" height="50.39" fill="#fffcbb"/>
<rect x="885.05" y="623.29" width="12.03" height="50.39" fill="#fffebe"/>
<rect x="896.78" y="623.29" width="12.03" height="50.39" fill="#fff1aa"/>
<rect x="908.5" y="623.29" width="12.03" height="50.39" fill="#fffebe"/>
<rect x="920.23" y="623.29" width="12.03" height="50.39" fill="#fffcbb"/>
<rect x="931.95" y="623.29" width="12.03" height="50.39" fill="#fff7b2"/>
<rect x="943.68" y="623.29" width="12.03" height="50.39" fill="#fff3ac"/>
<rect x="955.41" y="623.29" width="12.03" height="50.39" fill="#fffcbb"/>
<rect x="967.13" y="623.29" width="12.03" height="50.39" fill="#fcfec4"/>
<rect x="978.86" y="623.29" width="12.03" height="50.39" fill="#fff7b2"/>
<rect x="990.58" y="623.29" width="23.75" height="50.39" fill="#fffcbb"/>
<rect x="1014.03" y="623.29" width="12.03" height="50.39" fill="#fffebe"/>
<rect x="1025.76" y="623.29" width="12.03" height="50.39" fill="#fff8b5"/>
<rect x="1037.48" y="623.29" width="12.03" height="50.39" fill="#fffebe"/>
<rect x="1049.21" y="623.29" width="12.03" height="50.39" fill="#fff7b2"/>
<rect x="1060.93" y="623.29" width="12.03" height="50.39" fill="#fcfec4"/>
<rect x="1072.66" y="623.29" width="12.03" height="50.39" fill="#fff7b2"/>
<rect x="1084.38" y="623.29" width="12.03" height="50.39" fill="#fff1aa"/>
<rect x="1096.11" y="623.29" width="12.03" height="50.39" fill="#feffc1"/>
<rect x="1107.84" y="623.29" width="12.03" height="50.39" fill="#fffebe"/>
<rect x="1119.56" y="623.29" width="12.03" height="50.39" fill="#fff7b2"/>
<rect x="1131.29" y="623.29" width="35.48" height="50.39" fill="#fffebe"/>
<rect x="1166.46" y="623.29" width="12.03" height="50.39" fill="#feffc1"/>
<rect x="1178.19" y="623.29" width="12.03" height="50.39" fill="#fffcbb"/>
<rect x="1189.91" y="623.29" width="12.03" height="50.39" fill="#feffc1"/>
<rect x="1201.64" y="623.29" width="12.03" height="50.39" fill="#fffebe"/>
<rect x="1213.36" y="623.29" width="12.03" height="50.39" fill="#fff8b5"/>
<rect x="1225.09" y="623.29" width="12.03" height="50.39" fill="#fffcbb"/>
<rect x="1236.82" y="623.29" width="12.03" height="50.39" fill="#fff8b5"/>
<rect x="1248.54" y="623.29" width="12.03" height="50.39" fill="#fffcbb"/>
<rect x="1260.27" y="623.29" width="12.03" height="50.39" fill="#fffebe"/>
<rect x="1271.99" y="623.29" width="12.03" height="50.39" fill="#feffc1"/>
<rect x="1283.72" y="623.29" width="12.03" height="50.39" fill="#fff7b2"/>
<rect x="1295.44" y="623.29" width="12.03" height="50.39" fill="#fffcbb"/>
<rect x="1307.17" y="623.29" width="12.03" height="50.39" fill="#fffab8"/>
<rect x="1318.89" y="623.29" width="12.03" height="50.39" fill="#fff8b5"/>
<rect x="1330.62" y="623.29" width="12.03" height="50.39" fill="#fffebe"/>
<rect x="1342.34" y="623.29" width="23.75" height="50.39" fill="#feffc1"/>
<rect x="1365.79" y="623.29" width="12.03" height="50.39" fill="#fffebe"/>
<rect x="1377.52" y="623.29" width="35.48" height="50.39" fill="#fff7b2"/>
<rect x="1412.7" y="623.29" width="12.03" height="50.39" fill="#feffc1"/>
<rect x="1424.42" y="623.29" width="23.75" height="50.39" fill="#fffebe"/>
<rect x="1447.87" y="623.29" width="12.03" height="50.39" fill="#fffcbb"/>
<rect x="1459.6" y="623.29" width="12.03" height="50.39" fill="#feffc1"/>
<rect x="1471.32" y="623.29" width="12.03" height="50.39" fill="#fffebe"/>
<rect x="1483.05" y="623.29" width="12.03" height="50.39" fill="#fffcbb"/>
<rect x="1494.77" y="623.29" width="12.03" height="50.39" fill="#fffebe"/>
<rect x="122.9" y="673.38" width="12.03" height="50.39" fill="#f1fad9"/>
<rect x="134.63" y="673.38" width="12.03" height="50.39" fill="#fcfec4"/>
<rect x="146.35" y="673.38" width="12.03" height="50.39" fill="#feffc1"/>
<rect x="158.08" y="673.38" width="12.03" height="50.39" fill="#fafdc8"/>
<rect x="169.8" y="673.38" width="12.03" height="50.39" fill="#f8fccb"/>
<rect x="181.53" y="673.38" width="12.03" height="50.39" fill="#fafdc8"/>
<rect x="193.25" y="673.38" width="12.03" height="50.39" fill="#f5fbd2"/>
<rect x="204.98" y="673.38" width="12.03" height="50.39" fill="#fcfec4"/>
<rect x="216.7" y="673.38" width="12.03" height="50.39" fill="#f8fccb"/>
<rect x="228.43" y="673.38" width="23.75" height="50.39" fill="#fcfec4"/>
<rect x="251.88" y="673.38" width="12.03" height="50.39" fill="#feffc1"/>
<rect x="263.61" y="673.38" width="12.03" height="50.39" fill="#fffebe"/>
<rect x="275.33" y="673.38" width="12.03" height="50.39" fill="#fcfec4"/>
<rect x="287.06" y="673.38" width="12.03" height="50.39" fill="#feffc1"/>
<rect x="298.78" y="673.38" width="12.03" height="50.39" fill="#fffebe"/>
<rect x="310.51" y="673.38" width="12.03" height="50.39" fill="#fcfec4"/>
<rect x="322.23" y="673.38" width="12.03" height="50.39" fill="#fffebe"/>
<rect x="333.96" y="673.38" width="35.48" height="50.39" fill="#feffc1"/>
<rect x="369.13" y="673.38" width="12.03" height="50.39" fill="#fcfec4"/>
<rect x="380.86" y="673.38" width="12.03" height="50.39" fill="#fffebe"/>
<rect x="392.58" y="673.38" width="12.03" height="50.39" fill="#feffc1"/>
<rect x="404.31" y="673.38" width="12.03" height="50.39" fill="#fffcbb"/>
<rect x="416.04" y="673.38" width="12.03" height="50.39" fill="#fffebe"/>
<rect x="427.76" y="673.38" width="12.03" height="50.39" fill="#feffc1"/>
<rect x="439.49" y="673.38" width="12.03" height="50.39" fill="#fffebe"/>
<rect x="451.21" y="673.38" width="23.75" height="50.39" fill="#feffc1"/>
<rect x="474.66" y="673.38" width="12.03" height="50.39" fill="#fffebe"/>
<rect x="486.39" y="673.38" width="12.03" height="50.39" fill="#feffc1"/>
<rect x="498.11" y="673.38" width="12.03" height="50.39" fill="#fffebe"/>
<rect x="509.84" y="673.38" width="12.03" height="50.39" fill="#feffc1"/>
<rect x="521.56" y="673.38" width="23.75" height="50.39" fill="#fffebe"/>
<rect x="545.02" y="673.38" width="23.75" height="50.39" fill="#fcfec4"/>
<rect x="568.47" y="673.38" width="12.03" height="50.39" fill="#feffc1"/>
<rect x="580.19" y="673.38" width="12.03" height="50.39" fill="#fffebe"/>
<rect x="591.92" y="673.38" width="12.03" height="50.39" fill="#feffc1"/>
<rect x="603.64" y="673.38" width="12.03" height="50.39" fill="#fafdc8"/>
<rect x="615.37" y="673.38" width="12.03" height="50.39" fill="#f7fccf"/>
<rect x="627.09" y="673.38" width="23.75" height="50.39" fill="#fcfec4"/>
<rect x="650.54" y="673.38" width="12.03" height="50.39" fill="#feffc1"/>
<rect x="662.27" y="673.38" width="12.03" height="50.39" fill="#fcfec4"/>
<rect x="673.99" y="673.38" width="12.03" height="50.39" fill="#fafdc8"/>
<rect x="685.72" y="673.38" width="12.03" height="50.39" fill="#f8fccb"/>
<rect x="697.45" y="673.38" width="12.03" height="50.39" fill="#fafdc8"/>
<rect x="709.17" y="673.38" width="35.48" height="50.39" fill="#fcfec4"/>
<rect x="744.35" y="673.38" width="12.03" height="50.39" fill="#feffc1"/>
<rect x="756.07" y="673.38" width="23.75" height="50.39" fill="#fcfec4"/>
<rect x="779.52" y="673.38" width="23.75" height="50.39" fill="#fafdc8"/>
<rect x="802.97" y="673.38" width="12.03" height="50.39" fill="#fcfec4"/>
<rect x="814.7" y="673.38" width="12.03" height="50.39" fill="#fafdc8"/>
<rect x="826.43" y="673.38" width="12.03" height="50.39" fill="#f8fccb"/>
<rect x="838.15" y="673.38" width="23.75" height="50.39" fill="#fafdc8"/>
<rect x="861.6" y="673.38" width="12.03" height="50.39" fill="#f8fccb"/>
<rect x="873.33" y="673.38" width="12.03" height="50.39" fill="#fafdc8"/>
<rect x="885.05" y="673.38" width="12.03" height="50.39" fill="#f8fccb"/>
<rect x="896.78" y="673.38" width="12.03" height="50.39" fill="#fcfec4"/>
<rect x="908.5" y="673.38" width="12.03" height="50.39" fill="#fafdc8"/>
<rect x="920.23" y="673.38" width="23.75" height="50.39" fill="#f8fccb"/>
<rect x="943.68" y="673.38" width="35.48" height="50.39" fill="#fafdc8"/>
<rect x="978.86" y="673.38" width="12.03" height="50.39" fill="#f8fccb"/>
<rect x="990.58" y="673.38" width="12.03" height="50.39" fill="#fafdc8"/>
<rect x="1002.31" y="673.38" width="12.03" height="50.39" fill="#f5fbd2"/>
<rect x="1014.03" y="673.38" width="12.03" height="50.39" fill="#fcfec4"/>
<rect x="1025.76" y="673.38" width="12.03" height="50.39" fill="#f8fccb"/>
<rect x="1037.48" y="673.38" width="12.03" height="50.39" fill="#f5fbd2"/>
<rect x="1049.21" y="673.38" width="23.75" height="50.39" fill="#f8fccb"/>
<rect x="1072.66" y="673.38" width="12.03" height="50.39" fill="#fafdc8"/>
<rect x="1084.38" y="673.38" width="12.03" height="50.39" fill="#fcfec4"/>
<rect x="1096.11" y="673.38" width="12.03" height="50.39" fill="#fafdc8"/>
<rect x="1107.84" y="673.38" width="23.75" height="50.39" fill="#f7fccf"/>
<rect x="1131.29" y="673.38" width="12.03" height="50.39" fill="#f8fccb"/>
<rect x="1143.01" y="673.38" width="12.03" height="50.39" fill="#f7fccf"/>
<rect x="1154.74" y="673.38" width="23.75" height="50.39" fill="#f5fbd2"/>
<rect x="1178.19" y="673.38" width="12.03" height="50.39" fill="#f3fad5"/>
<rect x="1189.91" y="673.38" width="12.03" height="50.39" fill="#f7fccf"/>
<rect x="1201.64" y="673.38" width="12.03" height="50.39" fill="#f8fccb"/>
<rect x="1213.36" y="673.38" width="12.03" height="50.39" fill="#f5fbd2"/>
<rect x="1225.09" y="673.38" width="12.03" height="50.39" fill="#f8fccb"/>
<rect x="1236.82" y="673.38" width="12.03" height="50.39" fill="#f3fad5"/>
<rect x="1248.54" y="673.38" width="12.03" height="50.39" fill="#f8fccb"/>
<rect x="1260.27" y="673.38" width="12.03" height="50.39" fill="#f7fccf"/>
<rect x="1271.99" y="673.38" width="12.03" height="50.39" fill="#f8fccb"/>
<rect x="1283.72" y="673.38" width="12.03" height="50.39" fill="#f5fbd2"/>
<rect x="1295.44" y="673.38" width="12.03" height="50.39" fill="#f7fccf"/>
<rect x="1307.17" y="673.38" width="23.75" height="50.39" fill="#f8fccb"/>
<rect x="1330.62" y="673.38" width="12.03" height="50.39" fill="#f7fccf"/>
<rect x="1342.34" y="673.38" width="12.03" height="50.39" fill="#fafdc8"/>
<rect x="1354.07" y="673.38" width="35.48" height="50.39" fill="#fcfec4"/>
<rect x="1389.25" y="673.38" width="12.03" height="50.39" fill="#feffc1"/>
<rect x="1400.97" y="673.38" width="35.48" height="50.39" fill="#fcfec4"/>
<rect x="1436.15" y="673.38" width="12.03" height="50.39" fill="#f1fad9"/>
<rect x="1447.87" y="673.38" width="12.03" height="50.39" fill="#eff9dc"/>
<rect x="1459.6" y="673.38" width="12.03" height="50.39" fill="#f7fccf"/>
<rect x="1471.32" y="673.38" width="23.75" height="50.39" fill="#fcfec4"/>
<rect x="1494.77" y="673.38" width="12.03" height="50.39" fill="#feffc1"/>
<rect x="122.9" y="723.47" width="23.75" height="50.39" fill="#fffebe"/>
<rect x="146.35" y="723.47" width="12.03" height="50.39" fill="#feffc1"/>
<rect x="158.08" y="723.47" width="35.48" height="50.39" fill="#fcfec4"/>
<rect x="193.25" y="723.47" width="12.03" height="50.39" fill="#f7fccf"/>
<rect x="204.98" y="723.47" width="12.03" height="50.39" fill="#fafdc8"/>
<rect x="216.7" y="723.47" width="23.75" height="50.39" fill="#fcfec4"/>
<rect x="240.15" y="723.47" width="23.75" height="50.39" fill="#feffc1"/>
<rect x="263.61" y="723.47" width="12.03" height="50.39" fill="#fffcbb"/>
<rect x="275.33" y="723.47" width="12.03" height="50.39" fill="#fff8b5"/>
<rect x="287.06" y="723.47" width="12.03" height="50.39" fill="#f8fccb"/>
<rect x="298.78" y="723.47" width="12.03" height="50.39" fill="#fcfec4"/>
<rect x="310.51" y="723.47" width="12.03" height="50.39" fill="#feffc1"/>
<rect x="322.23" y="723.47" width="12.03" height="50.39" fill="#fffcbb"/>
<rect x="333.96" y="723.47" width="12.03" height="50.39" fill="#fcfec4"/>
<rect x="345.68" y="723.47" width="12.03" height="50.39" fill="#f5fbd2"/>
<rect x="357.41" y="723.47" width="23.75" height="50.39" fill="#fcfec4"/>
<rect x="380.86" y="723.47" width="12.03" height="50.39" fill="#feffc1"/>
<rect x="392.58" y="723.47" width="12.03" height="50.39" fill="#fffebe"/>
<rect x="404.31" y="723.47" width="23.75" height="50.39" fill="#feffc1"/>
<rect x="427.76" y="723.47" width="12.03" height="50.39" fill="#fafdc8"/>
<rect x="439.49" y="723.47" width="12.03" height="50.39" fill="#fcfec4"/>
<rect x="451.21" y="723.47" width="23.75" height="50.39" fill="#feffc1"/>
<rect x="474.66" y="723.47" width="12.03" height="50.39" fill="#fcfec4"/>
<rect x="486.39" y="723.47" width="12.03" height="50.39" fill="#feffc1"/>
<rect x="498.11" y="723.47" width="12.03" height="50.39" fill="#fcfec4"/>
<rect x="509.84" y="723.47" width="12.03" height="50.39" fill="#feffc1"/>
<rect x="521.56" y="723.47" width="12.03" height="50.39" fill="#fafdc8"/>
<rect x="533.29" y="723.47" width="12.03" height="50.39" fill="#feffc1"/>
<rect x="545.02" y="723.47" width="12.03" height="50.39" fill="#fcfec4"/>
<rect x="556.74" y="723.47" width="23.75" height="50.39" fill="#feffc1"/>
<rect x="580.19" y="723.47" width="23.75" height="50.39" fill="#fcfec4"/>
<rect x="603.64" y="723.47" width="12.03" height="50.39" fill="#fffcbb"/>
<rect x="615.37" y="723.47" width="12.03" height="50.39" fill="#feffc1"/>
<rect x="627.09" y="723.47" width="23.75" height="50.39" fill="#fcfec4"/>
<rect x="650.54" y="723.47" width="12.03" height="50.39" fill="#feffc1"/>
<rect x="662.27" y="723.47" width="12.03" height="50.39" fill="#fcfec4"/>
<rect x="673.99" y="723.47" width="12.03" height="50.39" fill="#feffc1"/>
<rect x="685.72" y="723.47" width="12.03" height="50.39" fill="#fcfec4"/>
<rect x="697.45" y="723.47" width="12.03" height="50.39" fill="#feffc1"/>
<rect x="709.17" y="723.47" width="12.03" height="50.39" fill="#f8fccb"/>
<rect x="720.9" y="723.47" width="23.75" height="50.39" fill="#fcfec4"/>
<rect x="744.35" y="723.47" width="12.03" height="50.39" fill="#fffebe"/>
<rect x="756.07" y="723.47" width="23.75" height="50.39" fill="#fcfec4"/>
<rect x="779.52" y="723.47" width="12.03" height="50.39" fill="#fafdc8"/>
<rect x="791.25" y="723.47" width="12.03" height="50.39" fill="#fcfec4"/>
<rect x="802.97" y="723.47" width="12.03" height="50.39" fill="#f5fbd2"/>
<rect x="814.7" y="723.47" width="12.03" height="50.39" fill="#feffc1"/>
<rect x="826.43" y="723.47" width="12.03" height="50.39" fill="#fcfec4"/>
<rect x="838.15" y="723.47" width="12.03" height="50.39" fill="#fffebe"/>
<rect x="849.88" y="723.47" width="12.03" height="50.39" fill="#feffc1"/>
<rect x="861.6" y="723.47" width="12.03" height="50.39" fill="#fcfec4"/>
<rect x="873.33" y="723.47" width="12.03" height="50.39" fill="#feffc1"/>
<rect x="885.05" y="723.47" width="12.03" height="50.39" fill="#fcfec4"/>
<rect x="896.78" y="723.47" width="12.03" height="50.39" fill="#f8fccb"/>
<rect x="908.5" y="723.47" width="23.75" height="50.39" fill="#fcfec4"/>
<rect x="931.95" y="723.47" width="12.03" height="50.39" fill="#feffc1"/>
<rect x="943.68" y="723.47" width="12.03" height="50.39" fill="#fcfec4"/>
<rect x="955.41" y="723.47" width="23.75" height="50.39" fill="#feffc1"/>
<rect x="978.86" y="723.47" width="12.03" height="50.39" fill="#f8fccb"/>
<rect x="990.58" y="723.47" width="12.03" height="50.39" fill="#fcfec4"/>
<rect x="1002.31" y="723.47" width="12.03" height="50.39" fill="#feffc1"/>
<rect x="1014.03" y="723.47" width="12.03" height="50.39" fill="#fcfec4"/>
<rect x="1025.76" y="723.47" width="12.03" height="50.39" fill="#f7fccf"/>
<rect x="1037.48" y="723.47" width="12.03" height="50.39" fill="#fcfec4"/>
<rect x="1049.21" y="723.47" width="12.03" height="50.39" fill="#feffc1"/>
<rect x="1060.93" y="723.47" width="12.03" height="50.39" fill="#fff8b5"/>
<rect x="1072.66" y="723.47" width="12.03" height="50.39" fill="#fffebe"/>
<rect x="1084.38" y="723.47" width="12.03" height="50.39" fill="#fffcbb"/>
<rect x="1096.11" y="723.47" width="23.75" height="50.39" fill="#fffebe"/>
<rect x="1119.56" y="723.47" width="23.75" height="50.39" fill="#feffc1"/>
<rect x="1143.01" y="723.47" width="23.75" height="50.39" fill="#fffebe"/>
<rect x="1166.46" y="723.47" width="12.03" height="50.39" fill="#feffc1"/>
<rect x="1178.19" y="723.47" width="12.03" height="50.39" fill="#fffebe"/>
<rect x="1189.91" y="723.47" width="12.03" height="50.39" fill="#feffc1"/>
<rect x="1201.64" y="723.47" width="35.48" height="50.39" fill="#fffebe"/>
<rect x="1236.82" y="723.47" width="12.03" height="50.39" fill="#feffc1"/>
<rect x="1248.54" y="723.47" width="12.03" height="50.39" fill="#f8fccb"/>
<rect x="1260.27" y="723.47" width="12.03" height="50.39" fill="#feffc1"/>
<rect x="1271.99" y="723.47" width="12.03" height="50.39" fill="#fcfec4"/>
<rect x="1283.72" y="723.47" width="12.03" height="50.39" fill="#fffebe"/>
<rect x="1295.44" y="723.47" width="47.2" height="50.39" fill="#feffc1"/>
<rect x="1342.34" y="723.47" width="23.75" height="50.39" fill="#fffebe"/>
<rect x="1365.79" y="723.47" width="12.03" height="50.39" fill="#feffc1"/>
<rect x="1377.52" y="723.47" width="12.03" height="50.39" fill="#fffebe"/>
<rect x="1389.25" y="723.47" width="12.03" height="50.39" fill="#feffc1"/>
<rect x="1400.97" y="723.47" width="23.75" height="50.39" fill="#fffebe"/>
<rect x="1424.42" y="723.47" width="12.03" height="50.39" fill="#feffc1"/>
<rect x="1436.15" y="723.47" width="12.03" height="50.39" fill="#f3fad5"/>
<rect x="1447.87" y="723.47" width="12.03" height="50.39" fill="#fcfec4"/>
<rect x="1459.6" y="723.47" width="12.03" height="50.39" fill="#f8fccb"/>
<rect x="1471.32" y="723.47" width="12.03" height="50.39" fill="#feffc1"/>
<rect x="1483.05" y="723.47" width="12.03" height="50.39" fill="#fcfec4"/>
<rect x="1494.77" y="723.47" width="12.03" height="50.39" fill="#feffc1"/>
<rect x="122.9" y="773.56" width="12.03" height="50.39" fill="#feffc1"/>
<rect x="134.63" y="773.56" width="12.03" height="50.39" fill="#f7fccf"/>
<rect x="146.35" y="773.56" width="12.03" height="50.39" fill="#feffc1"/>
<rect x="158.08" y="773.56" width="12.03" height="50.39" fill="#fcfec4"/>
<rect x="169.8" y="773.56" width="12.03" height="50.39" fill="#feffc1"/>
<rect x="181.53" y="773.56" width="23.75" height="50.39" fill="#fafdc8"/>
<rect x="204.98" y="773.56" width="12.03" height="50.39" fill="#f7fccf"/>
<rect x="216.7" y="773.56" width="12.03" height="50.39" fill="#fafdc8"/>
<rect x="228.43" y="773.56" width="47.2" height="50.39" fill="#feffc1"/>
<rect x="275.33" y="773.56" width="23.75" height="50.39" fill="#fcfec4"/>
<rect x="298.78" y="773.56" width="35.48" height="50.39" fill="#feffc1"/>
<rect x="333.96" y="773.56" width="12.03" height="50.39" fill="#fcfec4"/>
<rect x="345.68" y="773.56" width="12.03" height="50.39" fill="#feffc1"/>
<rect x="357.41" y="773.56" width="47.2" height="50.39" fill="#fcfec4"/>
<rect x="404.31" y="773.56" width="12.03" height="50.39" fill="#f8fccb"/>
<rect x="416.04" y="773.56" width="23.75" height="50.39" fill="#feffc1"/>
<rect x="439.49" y="773.56" width="12.03" height="50.39" fill="#fcfec4"/>
<rect x="451.21" y="773.56" width="12.03" height="50.39" fill="#fffebe"/>
<rect x="462.94" y="773.56" width="23.75" height="50.39" fill="#feffc1"/>
<rect x="486.39" y="773.56" width="12.03" height="50.39" fill="#fcfec4"/>
<rect x="498.11" y="773.56" width="23.75" height="50.39" fill="#feffc1"/>
<rect x="521.56" y="773.56" width="12.03" height="50.39" fill="#fcfec4"/>
<rect x="533.29" y="773.56" width="12.03" height="50.39" fill="#fafdc8"/>
<rect x="545.02" y="773.56" width="94.1" height="50.39" fill="#feffc1"/>
<rect x="638.82" y="773.56" width="12.03" height="50.39" fill="#f8fccb"/>
<rect x="650.54" y="773.56" width="58.93" height="50.39" fill="#feffc1"/>
<rect x="709.17" y="773.56" width="12.03" height="50.39" fill="#fcfec4"/>
<rect x="720.9" y="773.56" width="23.75" height="50.39" fill="#fafdc8"/>
<rect x="744.35" y="773.56" width="35.48" height="50.39" fill="#feffc1"/>
<rect x="779.52" y="773.56" width="12.03" height="50.39" fill="#fffebe"/>
<rect x="791.25" y="773.56" width="35.48" height="50.39" fill="#feffc1"/>
<rect x="826.43" y="773.56" width="12.03" height="50.39" fill="#fafdc8"/>
<rect x="838.15" y="773.56" width="82.38" height="50.39" fill="#feffc1"/>
<rect x="920.23" y="773.56" width="12.03" height="50.39" fill="#fcfec4"/>
<rect x="931.95" y="773.56" width="12.03" height="50.39" fill="#feffc1"/>
<rect x="943.68" y="773.56" width="12.03" height="50.39" fill="#fcfec4"/>
<rect x="955.41" y="773.56" width="12.03" height="50.39" fill="#feffc1"/>
<rect x="967.13" y="773.56" width="12.03" height="50.39" fill="#fcfec4"/>
<rect x="978.86" y="773.56" width="35.48" height="50.39" fill="#feffc1"/>
<rect x="1014.03" y="773.56" width="12.03" height="50.39" fill="#fffebe"/>
<rect x="1025.76" y="773.56" width="35.48" height="50.39" fill="#feffc1"/>
<rect x="1060.93" y="773.56" width="23.75" height="50.39" fill="#fffebe"/>
<rect x="1084.38" y="773.56" width="12.03" height="50.39" fill="#feffc1"/>
<rect x="1096.11" y="773.56" width="23.75" height="50.39" fill="#fffebe"/>
<rect x="1119.56" y="773.56" width="35.48" height="50.39" fill="#feffc1"/>
<rect x="1154.74" y="773.56" width="35.48" height="50.39" fill="#fffebe"/>
<rect x="1189.91" y="773.56" width="12.03" height="50.39" fill="#feffc1"/>
<rect x="1201.64" y="773.56" width="23.75" height="50.39" fill="#fffebe"/>
<rect x="1225.09" y="773.56" width="58.93" height="50.39" fill="#feffc1"/>
<rect x="1283.72" y="773.56" width="12.03" height="50.39" fill="#fffebe"/>
<rect x="1295.44" y="773.56" width="47.2" height="50.39" fill="#feffc1"/>
<rect x="1342.34" y="773.56" width="12.03" height="50.39" fill="#fcfec4"/>
<rect x="1354.07" y="773.56" width="12.03" height="50.39" fill="#feffc1"/>
<rect x="1365.79" y="773.56" width="12.03" height="50.39" fill="#f8fccb"/>
<rect x="1377.52" y="773.56" width="23.75" height="50.39" fill="#feffc1"/>
<rect x="1400.97" y="773.56" width="23.75" height="50.39" fill="#fcfec4"/>
<rect x="1424.42" y="773.56" width="12.03" height="50.39" fill="#feffc1"/>
<rect x="1436.15" y="773.56" width="12.03" height="50.39" fill="#f5fbd2"/>
<rect x="1447.87" y="773.56" width="12.03" height="50.39" fill="#feffc1"/>
<rect x="1459.6" y="773.56" width="12.03" height="50.39" fill="#f8fccb"/>
<rect x="1471.32" y="773.56" width="12.03" height="50.39" fill="#f3fad5"/>
<rect x="1483.05" y="773.56" width="12.03" height="50.39" fill="#f5fbd2"/>
<rect x="1494.77" y="773.56" width="12.03" height="50.39" fill="#f7fccf"/>
<rect x="122.9" y="823.64" width="12.03" height="50.39" fill="#feffc1"/>
<rect x="134.63" y="823.64" width="12.03" height="50.39" fill="#fcfec4"/>
<rect x="146.35" y="823.64" width="23.75" height="50.39" fill="#fafdc8"/>
<rect x="169.8" y="823.64" width="23.75" height="50.39" fill="#feffc1"/>
<rect x="193.25" y="823.64" width="12.03" height="50.39" fill="#fcfec4"/>
<rect x="204.98" y="823.64" width="12.03" height="50.39" fill="#fffebe"/>
<rect x="216.7" y="823.64" width="23.75" height="50.39" fill="#feffc1"/>
<rect x="240.15" y="823.64" width="12.03" height="50.39" fill="#fffcbb"/>
<rect x="251.88" y="823.64" width="12.03" height="50.39" fill="#fff7b2"/>
<rect x="263.61" y="823.64" width="12.03" height="50.39" fill="#fffebe"/>
<rect x="275.33" y="823.64" width="12.03" height="50.39" fill="#feffc1"/>
<rect x="287.06" y="823.64" width="12.03" height="50.39" fill="#fcfec4"/>
<rect x="298.78" y="823.64" width="12.03" height="50.39" fill="#f5fbd2"/>
<rect x="310.51" y="823.64" width="12.03" height="50.39" fill="#feffc1"/>
<rect x="322.23" y="823.64" width="12.03" height="50.39" fill="#fffebe"/>
<rect x="333.96" y="823.64" width="12.03" height="50.39" fill="#feffc1"/>
<rect x="345.68" y="823.64" width="23.75" height="50.39" fill="#fcfec4"/>
<rect x="369.13" y="823.64" width="12.03" height="50.39" fill="#feffc1"/>
<rect x="380.86" y="823.64" width="12.03" height="50.39" fill="#fafdc8"/>
<rect x="392.58" y="823.64" width="12.03" height="50.39" fill="#fffebe"/>
<rect x="404.31" y="823.64" width="12.03" height="50.39" fill="#feffc1"/>
<rect x="416.04" y="823.64" width="12.03" height="50.39" fill="#fcfec4"/>
<rect x="427.76" y="823.64" width="12.03" height="50.39" fill="#feffc1"/>
<rect x="439.49" y="823.64" width="12.03" height="50.39" fill="#fcfec4"/>
<rect x="451.21" y="823.64" width="12.03" height="50.39" fill="#feffc1"/>
<rect x="462.94" y="823.64" width="23.75" height="50.39" fill="#fcfec4"/>
<rect x="486.39" y="823.64" width="12.03" height="50.39" fill="#feffc1"/>
<rect x="498.11" y="823.64" width="12.03" height="50.39" fill="#fcfec4"/>
<rect x="509.84" y="823.64" width="12.03" height="50.39" fill="#fffebe"/>
<rect x="521.56" y="823.64" width="12.03" height="50.39" fill="#feffc1"/>
<rect x="533.29" y="823.64" width="12.03" height="50.39" fill="#fffebe"/>
<rect x="545.02" y="823.64" width="12.03" height="50.39" fill="#fffcbb"/>
<rect x="556.74" y="823.64" width="12.03" height="50.39" fill="#fffebe"/>
<rect x="568.47" y="823.64" width="12.03" height="50.39" fill="#feffc1"/>
<rect x="580.19" y="823.64" width="12.03" height="50.39" fill="#fffebe"/>
<rect x="591.92" y="823.64" width="12.03" height="50.39" fill="#feffc1"/>
<rect x="603.64" y="823.64" width="12.03" height="50.39" fill="#fcfec4"/>
<rect x="615.37" y="823.64" width="12.03" height="50.39" fill="#feffc1"/>
<rect x="627.09" y="823.64" width="12.03" height="50.39" fill="#fcfec4"/>
<rect x="638.82" y="823.64" width="12.03" height="50.39" fill="#fffebe"/>
<rect x="650.54" y="823.64" width="23.75" height="50.39" fill="#feffc1"/>
<rect x="673.99" y="823.64" width="12.03" height="50.39" fill="#fcfec4"/>
<rect x="685.72" y="823.64" width="12.03" height="50.39" fill="#fffcbb"/>
<rect x="697.45" y="823.64" width="12.03" height="50.39" fill="#fffab8"/>
<rect x="709.17" y="823.64" width="35.48" height="50.39" fill="#feffc1"/>
<rect x="744.35" y="823.64" width="12.03" height="50.39" fill="#fffcbb"/>
<rect x="756.07" y="823.64" width="12.03" height="50.39" fill="#fcfec4"/>
<rect x="767.8" y="823.64" width="12.03" height="50.39" fill="#fafdc8"/>
<rect x="779.52" y="823.64" width="12.03" height="50.39" fill="#f8fccb"/>
<rect x="791.25" y="823.64" width="12.03" height="50.39" fill="#fcfec4"/>
<rect x="802.97" y="823.64" width="12.03" height="50.39" fill="#feffc1"/>
<rect x="814.7" y="823.64" width="12.03" height="50.39" fill="#fffebe"/>
<rect x="826.43" y="823.64" width="12.03" height="50.39" fill="#f5fbd2"/>
<rect x="838.15" y="823.64" width="47.2" height="50.39" fill="#fffebe"/>
<rect x="885.05" y="823.64" width="12.03" height="50.39" fill="#feffc1"/>
<rect x="896.78" y="823.64" width="35.48" height="50.39" fill="#fffebe"/>
<rect x="931.95" y="823.64" width="12.03" height="50.39" fill="#fff7b2"/>
<rect x="943.68" y="823.64" width="23.75" height="50.39" fill="#fffcbb"/>
<rect x="967.13" y="823.64" width="12.03" height="50.39" fill="#fffebe"/>
<rect x="978.86" y="823.64" width="12.03" height="50.39" fill="#fffab8"/>
<rect x="990.58" y="823.64" width="12.03" height="50.39" fill="#fffebe"/>
<rect x="1002.31" y="823.64" width="12.03" height="50.39" fill="#feffc1"/>
<rect x="1014.03" y="823.64" width="12.03" height="50.39" fill="#fffab8"/>
<rect x="1025.76" y="823.64" width="12.03" height="50.39" fill="#fff7b2"/>
<rect x="1037.48" y="823.64" width="12.03" height="50.39" fill="#fff5af"/>
<rect x="1049.21" y="823.64" width="23.75" height="50.39" fill="#fffebe"/>
<rect x="1072.66" y="823.64" width="12.03" height="50.39" fill="#fcfec4"/>
<rect x="1084.38" y="823.64" width="23.75" height="50.39" fill="#fffebe"/>
<rect x="1107.84" y="823.64" width="12.03" height="50.39" fill="#fff1aa"/>
<rect x="1119.56" y="823.64" width="12.03" height="50.39" fill="#f7fccf"/>
<rect x="1131.29" y="823.64" width="12.03" height="50.39" fill="#fffebe"/>
<rect x="1143.01" y="823.64" width="12.03" height="50.39" fill="#feffc1"/>
<rect x="1154.74" y="823.64" width="12.03" height="50.39" fill="#fffebe"/>
<rect x="1166.46" y="823.64" width="12.03" height="50.39" fill="#fffcbb"/>
<rect x="1178.19" y="823.64" width="23.75" height="50.39" fill="#fffebe"/>
<rect x="1201.64" y="823.64" width="12.03" height="50.39" fill="#fcfec4"/>
<rect x="1213.36" y="823.64" width="23.75" height="50.39" fill="#feffc1"/>
<rect x="1236.82" y="823.64" width="12.03" height="50.39" fill="#fffebe"/>
<rect x="1248.54" y="823.64" width="35.48" height="50.39" fill="#feffc1"/>
<rect x="1283.72" y="823.64" width="12.03" height="50.39" fill="#fffebe"/>
<rect x="1295.44" y="823.64" width="12.03" height="50.39" fill="#feffc1"/>
<rect x="1307.17" y="823.64" width="12.03" height="50.39" fill="#fffebe"/>
<rect x="1318.89" y="823.64" width="12.03" height="50.39" fill="#feffc1"/>
<rect x="1330.62" y="823.64" width="12.03" height="50.39" fill="#fff3ac"/>
<rect x="1342.34" y="823.64" width="12.03" height="50.39" fill="#fcfec4"/>
<rect x="1354.07" y="823.64" width="35.48" height="50.39" fill="#fffebe"/>
<rect x="1389.25" y="823.64" width="12.03" height="50.39" fill="#fffab8"/>
<rect x="1400.97" y="823.64" width="12.03" height="50.39" fill="#fcfec4"/>
<rect x="1412.7" y="823.64" width="12.03" height="50.39" fill="#feffc1"/>
<rect x="1424.42" y="823.64" width="12.03" height="50.39" fill="#fffcbb"/>
<rect x="1436.15" y="823.64" width="12.03" height="50.39" fill="#fffebe"/>
<rect x="1447.87" y="823.64" width="12.03" height="50.39" fill="#feffc1"/>
<rect x="1459.6" y="823.64" width="12.03" height="50.39" fill="#fcfec4"/>
<rect x="1471.32" y="823.64" width="23.75" height="50.39" fill="#feffc1"/>
<rect x="1494.77" y="823.64" width="12.03" height="50.39" fill="#fffcbb"/>
<rect x="122.9" y="873.73" width="35.48" height="50.39" fill="#fffcbb"/>
<rect x="158.08" y="873.73" width="23.75" height="50.39" fill="#fffebe"/>
<rect x="181.53" y="873.73" width="12.03" height="50.39" fill="#fffcbb"/>
<rect x="193.25" y="873.73" width="12.03" height="50.39" fill="#fafdc8"/>
<rect x="204.98" y="873.73" width="23.75" height="50.39" fill="#f8fccb"/>
<rect x="228.43" y="873.73" width="12.03" height="50.39" fill="#fffebe"/>
<rect x="240.15" y="873.73" width="12.03" height="50.39" fill="#f3fad5"/>
<rect x="251.88" y="873.73" width="12.03" height="50.39" fill="#fafdc8"/>
<rect x="263.61" y="873.73" width="12.03" height="50.39" fill="#fffebe"/>
<rect x="275.33" y="873.73" width="12.03" height="50.39" fill="#feffc1"/>
<rect x="287.06" y="873.73" width="12.03" height="50.39" fill="#fcfec4"/>
<rect x="298.78" y="873.73" width="12.03" height="50.39" fill="#fafdc8"/>
<rect x="310.51" y="873.73" width="12.03" height="50.39" fill="#fffebe"/>
<rect x="322.23" y="873.73" width="12.03" height="50.39" fill="#fffcbb"/>
<rect x="333.96" y="873.73" width="12.03" height="50.39" fill="#fffab8"/>
<rect x="345.68" y="873.73" width="12.03" height="50.39" fill="#f3fad5"/>
<rect x="357.41" y="873.73" width="12.03" height="50.39" fill="#f8fccb"/>
<rect x="369.13" y="873.73" width="12.03" height="50.39" fill="#fffcbb"/>
<rect x="380.86" y="873.73" width="12.03" height="50.39" fill="#f8fccb"/>
<rect x="392.58" y="873.73" width="12.03" height="50.39" fill="#fff8b5"/>
<rect x="404.31" y="873.73" width="12.03" height="50.39" fill="#fffebe"/>
<rect x="416.04" y="873.73" width="12.03" height="50.39" fill="#fffcbb"/>
<rect x="427.76" y="873.73" width="12.03" height="50.39" fill="#fffebe"/>
<rect x="439.49" y="873.73" width="12.03" height="50.39" fill="#feffc1"/>
<rect x="451.21" y="873.73" width="12.03" height="50.39" fill="#f8fccb"/>
<rect x="462.94" y="873.73" width="23.75" height="50.39" fill="#f5fbd2"/>
<rect x="486.39" y="873.73" width="12.03" height="50.39" fill="#feffc1"/>
<rect x="498.11" y="873.73" width="12.03" height="50.39" fill="#fffcbb"/>
<rect x="509.84" y="873.73" width="23.75" height="50.39" fill="#feffc1"/>
<rect x="533.29" y="873.73" width="23.75" height="50.39" fill="#fffebe"/>
<rect x="556.74" y="873.73" width="12.03" height="50.39" fill="#feffc1"/>
<rect x="568.47" y="873.73" width="12.03" height="50.39" fill="#fffcbb"/>
<rect x="580.19" y="873.73" width="82.38" height="50.39" fill="#fffebe"/>
<rect x="662.27" y="873.73" width="12.03" height="50.39" fill="#feffc1"/>
<rect x="673.99" y="873.73" width="12.03" height="50.39" fill="#fcfec4"/>
<rect x="685.72" y="873.73" width="12.03" height="50.39" fill="#f8fccb"/>
<rect x="697.45" y="873.73" width="12.03" height="50.39" fill="#f3fad5"/>
<rect x="709.17" y="873.73" width="23.75" height="50.39" fill="#fffebe"/>
<rect x="732.62" y="873.73" width="12.03" height="50.39" fill="#fcfec4"/>
<rect x="744.35" y="873.73" width="12.03" height="50.39" fill="#fffebe"/>
<rect x="756.07" y="873.73" width="12.03" height="50.39" fill="#fafdc8"/>
<rect x="767.8" y="873.73" width="12.03" height="50.39" fill="#fcfec4"/>
<rect x="779.52" y="873.73" width="23.75" height="50.39" fill="#fafdc8"/>
<rect x="802.97" y="873.73" width="35.48" height="50.39" fill="#fcfec4"/>
<rect x="838.15" y="873.73" width="23.75" height="50.39" fill="#fffcbb"/>
<rect x="861.6" y="873.73" width="12.03" height="50.39" fill="#fffebe"/>
<rect x="873.33" y="873.73" width="23.75" height="50.39" fill="#feffc1"/>
<rect x="896.78" y="873.73" width="12.03" height="50.39" fill="#fffebe"/>
<rect x="908.5" y="873.73" width="23.75" height="50.39" fill="#fffcbb"/>
<rect x="931.95" y="873.73" width="23.75" height="50.39" fill="#fffab8"/>
<rect x="955.41" y="873.73" width="12.03" height="50.39" fill="#fffcbb"/>
<rect x="967.13" y="873.73" width="35.48" height="50.39" fill="#fffebe"/>
<rect x="1002.31" y="873.73" width="12.03" height="50.39" fill="#fffcbb"/>
<rect x="1014.03" y="873.73" width="12.03" height="50.39" fill="#fffebe"/>
<rect x="1025.76" y="873.73" width="12.03" height="50.39" fill="#fcfec4"/>
<rect x="1037.48" y="873.73" width="12.03" height="50.39" fill="#fffebe"/>
<rect x="1049.21" y="873.73" width="23.75" height="50.39" fill="#fffcbb"/>
<rect x="1072.66" y="873.73" width="12.03" height="50.39" fill="#fffab8"/>
<rect x="1084.38" y="873.73" width="12.03" height="50.39" fill="#fffebe"/>
<rect x="1096.11" y="873.73" width="12.03" height="50.39" fill="#feffc1"/>
<rect x="1107.84" y="873.73" width="12.03" height="50.39" fill="#fff3ac"/>
<rect x="1119.56" y="873.73" width="12.03" height="50.39" fill="#fffab8"/>
<rect x="1131.29" y="873.73" width="12.03" height="50.39" fill="#fffcbb"/>
<rect x="1143.01" y="873.73" width="12.03" height="50.39" fill="#fffab8"/>
<rect x="1154.74" y="873.73" width="23.75" height="50.39" fill="#fff8b5"/>
<rect x="1178.19" y="873.73" width="12.03" height="50.39" fill="#fffab8"/>
<rect x="1189.91" y="873.73" width="12.03" height="50.39" fill="#fff8b5"/>
<rect x="1201.64" y="873.73" width="12.03" height="50.39" fill="#fffab8"/>
<rect x="1213.36" y="873.73" width="12.03" height="50.39" fill="#fff8b5"/>
<rect x="1225.09" y="873.73" width="12.03" height="50.39" fill="#fffcbb"/>
<rect x="1236.82" y="873.73" width="12.03" height="50.39" fill="#fffab8"/>
<rect x="1248.54" y="873.73" width="12.03" height="50.39" fill="#fffebe"/>
<rect x="1260.27" y="873.73" width="12.03" height="50.39" fill="#fffab8"/>
<rect x="1271.99" y="873.73" width="23.75" height="50.39" fill="#fffcbb"/>
<rect x="1295.44" y="873.73" width="23.75" height="50.39" fill="#fffab8"/>
<rect x="1318.89" y="873.73" width="12.03" height="50.39" fill="#fff8b5"/>
<rect x="1330.62" y="873.73" width="12.03" height="50.39" fill="#fffab8"/>
<rect x="1342.34" y="873.73" width="12.03" height="50.39" fill="#fffcbb"/>
<rect x="1354.07" y="873.73" width="12.03" height="50.39" fill="#fffebe"/>
<rect x="1365.79" y="873.73" width="12.03" height="50.39" fill="#fffcbb"/>
<rect x="1377.52" y="873.73" width="12.03" height="50.39" fill="#fffebe"/>
<rect x="1389.25" y="873.73" width="12.03" height="50.39" fill="#fffcbb"/>
<rect x="1400.97" y="873.73" width="12.03" height="50.39" fill="#fffebe"/>
<rect x="1412.7" y="873.73" width="12.03" height="50.39" fill="#fffcbb"/>
<rect x="1424.42" y="873.73" width="12.03" height="50.39" fill="#feffc1"/>
<rect x="1436.15" y="873.73" width="35.48" height="50.39" fill="#fffebe"/>
<rect x="1471.32" y="873.73" width="12.03" height="50.39" fill="#feffc1"/>
<rect x="1483.05" y="873.73" width="12.03" height="50.39" fill="#fffcbb"/>
<rect x="1494.77" y="873.73" width="12.03" height="50.39" fill="#feffc1"/>
<rect x="122.9" y="923.82" width="12.03" height="50.39" fill="#fee89b"/>
<rect x="134.63" y="923.82" width="12.03" height="50.39" fill="#fff1aa"/>
<rect x="146.35" y="923.82" width="12.03" height="50.39" fill="#fee99e"/>
<rect x="158.08" y="923.82" width="12.03" height="50.39" fill="#fed689"/>
<rect x="169.8" y="923.82" width="12.03" height="50.39" fill="#fedb8d"/>
<rect x="181.53" y="923.82" width="12.03" height="50.39" fill="#fee496"/>
<rect x="193.25" y="923.82" width="12.03" height="50.39" fill="#feeba1"/>
<rect x="204.98" y="923.82" width="12.03" height="50.39" fill="#fff1aa"/>
<rect x="216.7" y="923.82" width="12.03" height="50.39" fill="#feefa7"/>
<rect x="228.43" y="923.82" width="12.03" height="50.39" fill="#fee99e"/>
<rect x="240.15" y="923.82" width="12.03" height="50.39" fill="#fdc27c"/>
<rect x="251.88" y="923.82" width="12.03" height="50.39" fill="#feefa7"/>
<rect x="263.61" y="923.82" width="12.03" height="50.39" fill="#feeda4"/>
<rect x="275.33" y="923.82" width="12.03" height="50.39" fill="#feeba1"/>
<rect x="287.06" y="923.82" width="12.03" height="50.39" fill="#fee89b"/>
<rect x="298.78" y="923.82" width="12.03" height="50.39" fill="#fee293"/>
<rect x="310.51" y="923.82" width="12.03" height="50.39" fill="#fee99e"/>
<rect x="322.23" y="923.82" width="12.03" height="50.39" fill="#fee293"/>
<rect x="333.96" y="923.82" width="12.03" height="50.39" fill="#fee496"/>
<rect x="345.68" y="923.82" width="12.03" height="50.39" fill="#feeda4"/>
<rect x="357.41" y="923.82" width="12.03" height="50.39" fill="#fee99e"/>
<rect x="369.13" y="923.82" width="12.03" height="50.39" fill="#fee89b"/>
<rect x="380.86" y="923.82" width="12.03" height="50.39" fill="#fee496"/>
<rect x="392.58" y="923.82" width="12.03" height="50.39" fill="#fed186"/>
<rect x="404.31" y="923.82" width="12.03" height="50.39" fill="#fedb8d"/>
<rect x="416.04" y="923.82" width="12.03" height="50.39" fill="#fee89b"/>
<rect x="427.76" y="923.82" width="12.03" height="50.39" fill="#fee699"/>
<rect x="439.49" y="923.82" width="12.03" height="50.39" fill="#fecc83"/>
<rect x="451.21" y="923.82" width="12.03" height="50.39" fill="#fee699"/>
<rect x="462.94" y="923.82" width="12.03" height="50.39" fill="#fee89b"/>
<rect x="474.66" y="923.82" width="12.03" height="50.39" fill="#fee293"/>
<rect x="486.39" y="923.82" width="12.03" height="50.39" fill="#fecc83"/>
<rect x="498.11" y="923.82" width="12.03" height="50.39" fill="#fee699"/>
<rect x="509.84" y="923.82" width="12.03" height="50.39" fill="#fee89b"/>
<rect x="521.56" y="923.82" width="12.03" height="50.39" fill="#fee699"/>
<rect x="533.29" y="923.82" width="12.03" height="50.39" fill="#fee090"/>
<rect x="545.02" y="923.82" width="12.03" height="50.39" fill="#fee293"/>
<rect x="556.74" y="923.82" width="12.03" height="50.39" fill="#fee496"/>
<rect x="568.47" y="923.82" width="12.03" height="50.39" fill="#fee699"/>
<rect x="580.19" y="923.82" width="12.03" height="50.39" fill="#fee89b"/>
<rect x="591.92" y="923.82" width="23.75" height="50.39" fill="#fee496"/>
<rect x="615.37" y="923.82" width="12.03" height="50.39" fill="#fed689"/>
<rect x="627.09" y="923.82" width="12.03" height="50.39" fill="#fdc77f"/>
<rect x="638.82" y="923.82" width="12.03" height="50.39" fill="#fee090"/>
<rect x="650.54" y="923.82" width="12.03" height="50.39" fill="#fee699"/>
<rect x="662.27" y="923.82" width="12.03" height="50.39" fill="#fee99e"/>
<rect x="673.99" y="923.82" width="12.03" height="50.39" fill="#fee89b"/>
<rect x="685.72" y="923.82" width="12.03" height="50.39" fill="#fee99e"/>
<rect x="697.45" y="923.82" width="12.03" height="50.39" fill="#fee699"/>
<rect x="709.17" y="923.82" width="12.03" height="50.39" fill="#fee496"/>
<rect x="720.9" y="923.82" width="12.03" height="50.39" fill="#fedb8d"/>
<rect x="732.62" y="923.82" width="12.03" height="50.39" fill="#fee496"/>
<rect x="744.35" y="923.82" width="12.03" height="50.39" fill="#fee699"/>
<rect x="756.07" y="923.82" width="12.03" height="50.39" fill="#fee89b"/>
<rect x="767.8" y="923.82" width="12.03" height="50.39" fill="#fee496"/>
<rect x="779.52" y="923.82" width="23.75" height="50.39" fill="#fee699"/>
<rect x="802.97" y="923.82" width="12.03" height="50.39" fill="#fee496"/>
<rect x="814.7" y="923.82" width="12.03" height="50.39" fill="#fee699"/>
<rect x="826.43" y="923.82" width="23.75" height="50.39" fill="#fee496"/>
<rect x="849.88" y="923.82" width="12.03" height="50.39" fill="#fee090"/>
<rect x="861.6" y="923.82" width="12.03" height="50.39" fill="#fed689"/>
<rect x="873.33" y="923.82" width="12.03" height="50.39" fill="#fee293"/>
<rect x="885.05" y="923.82" width="12.03" height="50.39" fill="#fee090"/>
<rect x="896.78" y="923.82" width="12.03" height="50.39" fill="#fee496"/>
<rect x="908.5" y="923.82" width="12.03" height="50.39" fill="#fee89b"/>
<rect x="920.23" y="923.82" width="12.03" height="50.39" fill="#fee496"/>
<rect x="931.95" y="923.82" width="23.75" height="50.39" fill="#fee699"/>
<rect x="955.41" y="923.82" width="23.75" height="50.39" fill="#fee496"/>
<rect x="978.86" y="923.82" width="12.03" height="50.39" fill="#fee293"/>
<rect x="990.58" y="923.82" width="12.03" height="50.39" fill="#feefa7"/>
<rect x="1002.31" y="923.82" width="12.03" height="50.39" fill="#fee89b"/>
<rect x="1014.03" y="923.82" width="12.03" height="50.39" fill="#feeba1"/>
<rect x="1025.76" y="923.82" width="12.03" height="50.39" fill="#fee89b"/>
<rect x="1037.48" y="923.82" width="12.03" height="50.39" fill="#feeba1"/>
<rect x="1049.21" y="923.82" width="12.03" height="50.39" fill="#fee699"/>
<rect x="1060.93" y="923.82" width="12.03" height="50.39" fill="#fee89b"/>
<rect x="1072.66" y="923.82" width="23.75" height="50.39" fill="#fee99e"/>
<rect x="1096.11" y="923.82" width="12.03" height="50.39" fill="#feeba1"/>
<rect x="1107.84" y="923.82" width="12.03" height="50.39" fill="#fee496"/>
<rect x="1119.56" y="923.82" width="23.75" height="50.39" fill="#fee89b"/>
<rect x="1143.01" y="923.82" width="12.03" height="50.39" fill="#fee496"/>
<rect x="1154.74" y="923.82" width="23.75" height="50.39" fill="#fee293"/>
<rect x="1178.19" y="923.82" width="12.03" height="50.39" fill="#fee89b"/>
<rect x="1189.91" y="923.82" width="12.03" height="50.39" fill="#fee699"/>
<rect x="1201.64" y="923.82" width="12.03" height="50.39" fill="#fee090"/>
<rect x="1213.36" y="923.82" width="12.03" height="50.39" fill="#fee89b"/>
<rect x="1225.09" y="923.82" width="23.75" height="50.39" fill="#fee496"/>
<rect x="1248.54" y="923.82" width="12.03" height="50.39" fill="#fee699"/>
<rect x="1260.27" y="923.82" width="23.75" height="50.39" fill="#fee89b"/>
<rect x="1283.72" y="923.82" width="12.03" height="50.39" fill="#fee699"/>
<rect x="1295.44" y="923.82" width="12.03" height="50.39" fill="#fee89b"/>
<rect x="1307.17" y="923.82" width="12.03" height="50.39" fill="#fee699"/>
<rect x="1318.89" y="923.82" width="12.03" height="50.39" fill="#fee090"/>
<rect x="1330.62" y="923.82" width="12.03" height="50.39" fill="#fee89b"/>
<rect x="1342.34" y="923.82" width="12.03" height="50.39" fill="#fee699"/>
<rect x="1354.07" y="923.82" width="12.03" height="50.39" fill="#fee89b"/>
<rect x="1365.79" y="923.82" width="23.75" height="50.39" fill="#fee99e"/>
<rect x="1389.25" y="923.82" width="12.03" height="50.39" fill="#fee89b"/>
<rect x="1400.97" y="923.82" width="35.48" height="50.39" fill="#fee99e"/>
<rect x="1436.15" y="923.82" width="12.03" height="50.39" fill="#fee090"/>
<rect x="1447.87" y="923.82" width="12.03" height="50.39" fill="#fee99e"/>
<rect x="1459.6" y="923.82" width="12.03" height="50.39" fill="#fee090"/>
<rect x="1471.32" y="923.82" width="12.03" height="50.39" fill="#fee89b"/>
<rect x="1483.05" y="923.82" width="23.75" height="50.39" fill="#fdc77f"/>
<rect x="122.9" y="973.91" width="12.03" height="50.39" fill="#fee699"/>
<rect x="134.63" y="973.91" width="12.03" height="50.39" fill="#fdae6f"/>
<rect x="146.35" y="973.91" width="12.03" height="50.39" fill="#fffab8"/>
<rect x="158.08" y="973.91" width="12.03" height="50.39" fill="#fff7b2"/>
<rect x="169.8" y="973.91" width="12.03" height="50.39" fill="#feefa7"/>
<rect x="181.53" y="973.91" width="12.03" height="50.39" fill="#fee99e"/>
<rect x="193.25" y="973.91" width="12.03" height="50.39" fill="#fafdc8"/>
<rect x="204.98" y="973.91" width="23.75" height="50.39" fill="#fffab8"/>
<rect x="228.43" y="973.91" width="12.03" height="50.39" fill="#feefa7"/>
<rect x="240.15" y="973.91" width="12.03" height="50.39" fill="#fffab8"/>
<rect x="251.88" y="973.91" width="12.03" height="50.39" fill="#fff7b2"/>
<rect x="263.61" y="973.91" width="35.48" height="50.39" fill="#fff3ac"/>
<rect x="298.78" y="973.91" width="12.03" height="50.39" fill="#fee89b"/>
<rect x="310.51" y="973.91" width="12.03" height="50.39" fill="#e8f6ea"/>
<rect x="322.23" y="973.91" width="12.03" height="50.39" fill="#fffebe"/>
<rect x="333.96" y="973.91" width="12.03" height="50.39" fill="#fafdc8"/>
<rect x="345.68" y="973.91" width="12.03" height="50.39" fill="#fffab8"/>
<rect x="357.41" y="973.91" width="12.03" height="50.39" fill="#fff8b5"/>
<rect x="369.13" y="973.91" width="12.03" height="50.39" fill="#ebf7e3"/>
<rect x="380.86" y="973.91" width="12.03" height="50.39" fill="#f7fccf"/>
<rect x="392.58" y="973.91" width="12.03" height="50.39" fill="#fff5af"/>
<rect x="404.31" y="973.91" width="12.03" height="50.39" fill="#fff7b2"/>
<rect x="416.04" y="973.91" width="12.03" height="50.39" fill="#fff1aa"/>
<rect x="427.76" y="973.91" width="12.03" height="50.39" fill="#fff5af"/>
<rect x="439.49" y="973.91" width="12.03" height="50.39" fill="#fff7b2"/>
<rect x="451.21" y="973.91" width="23.75" height="50.39" fill="#fff3ac"/>
<rect x="474.66" y="973.91" width="12.03" height="50.39" fill="#feeda4"/>
<rect x="486.39" y="973.91" width="12.03" height="50.39" fill="#fff3ac"/>
<rect x="498.11" y="973.91" width="12.03" height="50.39" fill="#fffab8"/>
<rect x="509.84" y="973.91" width="12.03" height="50.39" fill="#fff8b5"/>
<rect x="521.56" y="973.91" width="12.03" height="50.39" fill="#fffab8"/>
<rect x="533.29" y="973.91" width="12.03" height="50.39" fill="#fff5af"/>
<rect x="545.02" y="973.91" width="12.03" height="50.39" fill="#fff7b2"/>
<rect x="556.74" y="973.91" width="12.03" height="50.39" fill="#fff8b5"/>
<rect x="568.47" y="973.91" width="23.75" height="50.39" fill="#fff7b2"/>
<rect x="591.92" y="973.91" width="12.03" height="50.39" fill="#fffcbb"/>
<rect x="603.64" y="973.91" width="12.03" height="50.39" fill="#fffebe"/>
<rect x="615.37" y="973.91" width="12.03" height="50.39" fill="#fff8b5"/>
<rect x="627.09" y="973.91" width="12.03" height="50.39" fill="#fafdc8"/>
<rect x="638.82" y="973.91" width="35.48" height="50.39" fill="#feeba1"/>
<rect x="673.99" y="973.91" width="12.03" height="50.39" fill="#feefa7"/>
<rect x="685.72" y="973.91" width="23.75" height="50.39" fill="#fff1aa"/>
<rect x="709.17" y="973.91" width="12.03" height="50.39" fill="#feefa7"/>
<rect x="720.9" y="973.91" width="23.75" height="50.39" fill="#feeda4"/>
<rect x="744.35" y="973.91" width="23.75" height="50.39" fill="#fff1aa"/>
<rect x="767.8" y="973.91" width="12.03" height="50.39" fill="#feeda4"/>
<rect x="779.52" y="973.91" width="12.03" height="50.39" fill="#fff1aa"/>
<rect x="791.25" y="973.91" width="12.03" height="50.39" fill="#feefa7"/>
<rect x="802.97" y="973.91" width="12.03" height="50.39" fill="#feeda4"/>
<rect x="814.7" y="973.91" width="12.03" height="50.39" fill="#fff8b5"/>
<rect x="826.43" y="973.91" width="12.03" height="50.39" fill="#fff3ac"/>
<rect x="838.15" y="973.91" width="12.03" height="50.39" fill="#feeda4"/>
<rect x="849.88" y="973.91" width="35.48" height="50.39" fill="#feeba1"/>
<rect x="885.05" y="973.91" width="12.03" height="50.39" fill="#fee89b"/>
<rect x="896.78" y="973.91" width="12.03" height="50.39" fill="#fee99e"/>
<rect x="908.5" y="973.91" width="12.03" height="50.39" fill="#feeba1"/>
<rect x="920.23" y="973.91" width="12.03" height="50.39" fill="#feefa7"/>
<rect x="931.95" y="973.91" width="23.75" height="50.39" fill="#feeda4"/>
<rect x="955.41" y="973.91" width="12.03" height="50.39" fill="#feeba1"/>
<rect x="967.13" y="973.91" width="12.03" height="50.39" fill="#fee99e"/>
<rect x="978.86" y="973.91" width="12.03" height="50.39" fill="#f1fad9"/>
<rect x="990.58" y="973.91" width="12.03" height="50.39" fill="#fffcbb"/>
<rect x="1002.31" y="973.91" width="12.03" height="50.39" fill="#f7fccf"/>
<rect x="1014.03" y="973.91" width="12.03" height="50.39" fill="#fcfec4"/>
<rect x="1025.76" y="973.91" width="12.03" height="50.39" fill="#fee699"/>
<rect x="1037.48" y="973.91" width="12.03" height="50.39" fill="#fee496"/>
<rect x="1049.21" y="973.91" width="12.03" height="50.39" fill="#fee99e"/>
<rect x="1060.93" y="973.91" width="23.75" height="50.39" fill="#fff1aa"/>
<rect x="1084.38" y="973.91" width="12.03" height="50.39" fill="#feeda4"/>
<rect x="1096.11" y="973.91" width="12.03" height="50.39" fill="#feefa7"/>
<rect x="1107.84" y="973.91" width="12.03" height="50.39" fill="#fff8b5"/>
<rect x="1119.56" y="973.91" width="12.03" height="50.39" fill="#fffcbb"/>
<rect x="1131.29" y="973.91" width="23.75" height="50.39" fill="#fff3ac"/>
<rect x="1154.74" y="973.91" width="12.03" height="50.39" fill="#fff5af"/>
<rect x="1166.46" y="973.91" width="12.03" height="50.39" fill="#fff7b2"/>
<rect x="1178.19" y="973.91" width="12.03" height="50.39" fill="#fff5af"/>
<rect x="1189.91" y="973.91" width="12.03" height="50.39" fill="#feefa7"/>
<rect x="1201.64" y="973.91" width="12.03" height="50.39" fill="#fff1aa"/>
<rect x="1213.36" y="973.91" width="12.03" height="50.39" fill="#fff3ac"/>
<rect x="1225.09" y="973.91" width="35.48" height="50.39" fill="#feefa7"/>
<rect x="1260.27" y="973.91" width="12.03" height="50.39" fill="#fff1aa"/>
<rect x="1271.99" y="973.91" width="12.03" height="50.39" fill="#fff3ac"/>
<rect x="1283.72" y="973.91" width="12.03" height="50.39" fill="#fff1aa"/>
<rect x="1295.44" y="973.91" width="23.75" height="50.39" fill="#feeda4"/>
<rect x="1318.89" y="973.91" width="12.03" height="50.39" fill="#feeba1"/>
<rect x="1330.62" y="973.91" width="12.03" height="50.39" fill="#feeda4"/>
<rect x="1342.34" y="973.91" width="12.03" height="50.39" fill="#fff8b5"/>
<rect x="1354.07" y="973.91" width="12.03" height="50.39" fill="#fffab8"/>
<rect x="1365.79" y="973.91" width="23.75" height="50.39" fill="#fff8b5"/>
<rect x="1389.25" y="973.91" width="12.03" height="50.39" fill="#fffab8"/>
<rect x="1400.97" y="973.91" width="12.03" height="50.39" fill="#fffebe"/>
<rect x="1412.7" y="973.91" width="12.03" height="50.39" fill="#feffc1"/>
<rect x="1424.42" y="973.91" width="12.03" height="50.39" fill="#fffebe"/>
<rect x="1436.15" y="973.91" width="12.03" height="50.39" fill="#e2f4f5"/>
<rect x="1447.87" y="973.91" width="12.03" height="50.39" fill="#feffc1"/>
<rect x="1459.6" y="973.91" width="12.03" height="50.39" fill="#fafdc8"/>
<rect x="1471.32" y="973.91" width="12.03" height="50.39" fill="#f8fccb"/>
<rect x="1483.05" y="973.91" width="12.03" height="50.39" fill="#fcfec4"/>
<rect x="1494.77" y="973.91" width="12.03" height="50.39" fill="#fafdc8"/>
<rect x="122.9" y="1024" width="12.03" height="50.39" fill="#fff7b2"/>
<rect x="134.63" y="1024" width="12.03" height="50.39" fill="#fee293"/>
<rect x="146.35" y="1024" width="12.03" height="50.39" fill="#fed689"/>
<rect x="158.08" y="1024" width="12.03" height="50.39" fill="#fdb372"/>
<rect x="169.8" y="1024" width="12.03" height="50.39" fill="#fdbd79"/>
<rect x="181.53" y="1024" width="12.03" height="50.39" fill="#fecc83"/>
<rect x="193.25" y="1024" width="12.03" height="50.39" fill="#fee090"/>
<rect x="204.98" y="1024" width="12.03" height="50.39" fill="#fedb8d"/>
<rect x="216.7" y="1024" width="12.03" height="50.39" fill="#feeda4"/>
<rect x="228.43" y="1024" width="12.03" height="50.39" fill="#fee89b"/>
<rect x="240.15" y="1024" width="12.03" height="50.39" fill="#feefa7"/>
<rect x="251.88" y="1024" width="12.03" height="50.39" fill="#feeda4"/>
<rect x="263.61" y="1024" width="12.03" height="50.39" fill="#fff3ac"/>
<rect x="275.33" y="1024" width="12.03" height="50.39" fill="#fffebe"/>
<rect x="287.06" y="1024" width="12.03" height="50.39" fill="#fff1aa"/>
<rect x="298.78" y="1024" width="12.03" height="50.39" fill="#fff3ac"/>
<rect x="310.51" y="1024" width="12.03" height="50.39" fill="#feefa7"/>
<rect x="322.23" y="1024" width="12.03" height="50.39" fill="#feeba1"/>
<rect x="333.96" y="1024" width="12.03" height="50.39" fill="#feefa7"/>
<rect x="345.68" y="1024" width="12.03" height="50.39" fill="#feeda4"/>
<rect x="357.41" y="1024" width="12.03" height="50.39" fill="#fff1aa"/>
<rect x="369.13" y="1024" width="12.03" height="50.39" fill="#fee99e"/>
<rect x="380.86" y="1024" width="12.03" height="50.39" fill="#fff1aa"/>
<rect x="392.58" y="1024" width="23.75" height="50.39" fill="#fff3ac"/>
<rect x="416.04" y="1024" width="12.03" height="50.39" fill="#fee99e"/>
<rect x="427.76" y="1024" width="12.03" height="50.39" fill="#fee293"/>
<rect x="439.49" y="1024" width="23.75" height="50.39" fill="#feefa7"/>
<rect x="462.94" y="1024" width="12.03" height="50.39" fill="#feeba1"/>
<rect x="474.66" y="1024" width="12.03" height="50.39" fill="#feefa7"/>
<rect x="486.39" y="1024" width="12.03" height="50.39" fill="#feeda4"/>
<rect x="498.11" y="1024" width="12.03" height="50.39" fill="#fff1aa"/>
<rect x="509.84" y="1024" width="12.03" height="50.39" fill="#feeda4"/>
<rect x="521.56" y="1024" width="23.75" height="50.39" fill="#feefa7"/>
<rect x="545.02" y="1024" width="23.75" height="50.39" fill="#fee89b"/>
<rect x="568.47" y="1024" width="12.03" height="50.39" fill="#feeda4"/>
<rect x="580.19" y="1024" width="12.03" height="50.39" fill="#feefa7"/>
<rect x="591.92" y="1024" width="12.03" height="50.39" fill="#fff5af"/>
<rect x="603.64" y="1024" width="12.03" height="50.39" fill="#fff7b2"/>
<rect x="615.37" y="1024" width="12.03" height="50.39" fill="#feefa7"/>
<rect x="627.09" y="1024" width="12.03" height="50.39" fill="#fff3ac"/>
<rect x="638.82" y="1024" width="12.03" height="50.39" fill="#feeda4"/>
<rect x="650.54" y="1024" width="12.03" height="50.39" fill="#fee496"/>
<rect x="662.27" y="1024" width="12.03" height="50.39" fill="#fee699"/>
<rect x="673.99" y="1024" width="23.75" height="50.39" fill="#fff1aa"/>
<rect x="697.45" y="1024" width="12.03" height="50.39" fill="#fee99e"/>
<rect x="709.17" y="1024" width="12.03" height="50.39" fill="#fee496"/>
<rect x="720.9" y="1024" width="12.03" height="50.39" fill="#feeda4"/>
<rect x="732.62" y="1024" width="12.03" height="50.39" fill="#fee090"/>
<rect x="744.35" y="1024" width="12.03" height="50.39" fill="#fee89b"/>
<rect x="756.07" y="1024" width="12.03" height="50.39" fill="#fee699"/>
<rect x="767.8" y="1024" width="12.03" height="50.39" fill="#feeba1"/>
<rect x="779.52" y="1024" width="12.03" height="50.39" fill="#feefa7"/>
<rect x="791.25" y="1024" width="12.03" height="50.39" fill="#fee99e"/>
<rect x="802.97" y="1024" width="12.03" height="50.39" fill="#feeba1"/>
<rect x="814.7" y="1024" width="12.03" height="50.39" fill="#fee699"/>
<rect x="826.43" y="1024" width="12.03" height="50.39" fill="#fffab8"/>
<rect x="838.15" y="1024" width="12.03" height="50.39" fill="#feeda4"/>
<rect x="849.88" y="1024" width="12.03" height="50.39" fill="#feeba1"/>
<rect x="861.6" y="1024" width="12.03" height="50.39" fill="#fff1aa"/>
<rect x="873.33" y="1024" width="12.03" height="50.39" fill="#feeba1"/>
<rect x="885.05" y="1024" width="12.03" height="50.39" fill="#fee99e"/>
<rect x="896.78" y="1024" width="12.03" height="50.39" fill="#feeda4"/>
<rect x="908.5" y="1024" width="23.75" height="50.39" fill="#fee496"/>
<rect x="931.95" y="1024" width="12.03" height="50.39" fill="#fedb8d"/>
<rect x="943.68" y="1024" width="12.03" height="50.39" fill="#fecc83"/>
<rect x="955.41" y="1024" width="12.03" height="50.39" fill="#fedb8d"/>
<rect x="967.13" y="1024" width="12.03" height="50.39" fill="#feeba1"/>
<rect x="978.86" y="1024" width="12.03" height="50.39" fill="#fee99e"/>
<rect x="990.58" y="1024" width="23.75" height="50.39" fill="#feeba1"/>
<rect x="1014.03" y="1024" width="12.03" height="50.39" fill="#feeda4"/>
<rect x="1025.76" y="1024" width="12.03" height="50.39" fill="#feeba1"/>
<rect x="1037.48" y="1024" width="12.03" height="50.39" fill="#fee99e"/>
<rect x="1049.21" y="1024" width="12.03" height="50.39" fill="#fff3ac"/>
<rect x="1060.93" y="1024" width="12.03" height="50.39" fill="#feeba1"/>
<rect x="1072.66" y="1024" width="12.03" height="50.39" fill="#fff5af"/>
<rect x="1084.38" y="1024" width="12.03" height="50.39" fill="#feeda4"/>
<rect x="1096.11" y="1024" width="12.03" height="50.39" fill="#fff1aa"/>
<rect x="1107.84" y="1024" width="12.03" height="50.39" fill="#fff5af"/>
<rect x="1119.56" y="1024" width="12.03" height="50.39" fill="#fffebe"/>
<rect x="1131.29" y="1024" width="12.03" height="50.39" fill="#fff7b2"/>
<rect x="1143.01" y="1024" width="12.03" height="50.39" fill="#fffab8"/>
<rect x="1154.74" y="1024" width="12.03" height="50.39" fill="#fff3ac"/>
<rect x="1166.46" y="1024" width="12.03" height="50.39" fill="#fff1aa"/>
<rect x="1178.19" y="1024" width="12.03" height="50.39" fill="#feefa7"/>
<rect x="1189.91" y="1024" width="12.03" height="50.39" fill="#fee89b"/>
<rect x="1201.64" y="1024" width="12.03" height="50.39" fill="#feeda4"/>
<rect x="1213.36" y="1024" width="12.03" height="50.39" fill="#feefa7"/>
<rect x="1225.09" y="1024" width="12.03" height="50.39" fill="#feeda4"/>
<rect x="1236.82" y="1024" width="12.03" height="50.39" fill="#fff7b2"/>
<rect x="1248.54" y="1024" width="12.03" height="50.39" fill="#feefa7"/>
<rect x="1260.27" y="1024" width="35.48" height="50.39" fill="#feeda4"/>
<rect x="1295.44" y="1024" width="12.03" height="50.39" fill="#fee89b"/>
<rect x="1307.17" y="1024" width="12.03" height="50.39" fill="#fee293"/>
<rect x="1318.89" y="1024" width="12.03" height="50.39" fill="#fee090"/>
<rect x="1330.62" y="1024" width="12.03" height="50.39" fill="#feeda4"/>
<rect x="1342.34" y="1024" width="12.03" height="50.39" fill="#feefa7"/>
<rect x="1354.07" y="1024" width="12.03" height="50.39" fill="#fee99e"/>
<rect x="1365.79" y="1024" width="12.03" height="50.39" fill="#feefa7"/>
<rect x="1377.52" y="1024" width="23.75" height="50.39" fill="#fff7b2"/>
<rect x="1400.97" y="1024" width="12.03" height="50.39" fill="#fff3ac"/>
<rect x="1412.7" y="1024" width="12.03" height="50.39" fill="#fff7b2"/>
<rect x="1424.42" y="1024" width="12.03" height="50.39" fill="#fff1aa"/>
<rect x="1436.15" y="1024" width="12.03" height="50.39" fill="#fffcbb"/>
<rect x="1447.87" y="1024" width="12.03" height="50.39" fill="#feefa7"/>
<rect x="1459.6" y="1024" width="12.03" height="50.39" fill="#fff1aa"/>
<rect x="1471.32" y="1024" width="12.03" height="50.39" fill="#feeda4"/>
<rect x="1483.05" y="1024" width="12.03" height="50.39" fill="#fff1aa"/>
<rect x="1494.77" y="1024" width="12.03" height="50.39" fill="#feeba1"/>
<rect x="122.9" y="1074.09" width="12.03" height="50.39" fill="#feeba1"/>
<rect x="134.63" y="1074.09" width="12.03" height="50.39" fill="#fff5af"/>
<rect x="146.35" y="1074.09" width="12.03" height="50.39" fill="#fdc27c"/>
<rect x="158.08" y="1074.09" width="12.03" height="50.39" fill="#fee293"/>
<rect x="169.8" y="1074.09" width="12.03" height="50.39" fill="#fff7b2"/>
<rect x="181.53" y="1074.09" width="12.03" height="50.39" fill="#fff5af"/>
<rect x="193.25" y="1074.09" width="12.03" height="50.39" fill="#fff7b2"/>
<rect x="204.98" y="1074.09" width="12.03" height="50.39" fill="#fff1aa"/>
<rect x="216.7" y="1074.09" width="12.03" height="50.39" fill="#fff8b5"/>
<rect x="228.43" y="1074.09" width="12.03" height="50.39" fill="#f1fad9"/>
<rect x="240.15" y="1074.09" width="12.03" height="50.39" fill="#fed186"/>
<rect x="251.88" y="1074.09" width="12.03" height="50.39" fill="#fdc77f"/>
<rect x="263.61" y="1074.09" width="12.03" height="50.39" fill="#fdb875"/>
<rect x="275.33" y="1074.09" width="12.03" height="50.39" fill="#feeda4"/>
<rect x="287.06" y="1074.09" width="12.03" height="50.39" fill="#fafdc8"/>
<rect x="298.78" y="1074.09" width="12.03" height="50.39" fill="#f5fbd2"/>
<rect x="310.51" y="1074.09" width="12.03" height="50.39" fill="#fff7b2"/>
<rect x="322.23" y="1074.09" width="12.03" height="50.39" fill="#fff5af"/>
<rect x="333.96" y="1074.09" width="12.03" height="50.39" fill="#fff8b5"/>
<rect x="345.68" y="1074.09" width="12.03" height="50.39" fill="#fee293"/>
<rect x="357.41" y="1074.09" width="12.03" height="50.39" fill="#feefa7"/>
<rect x="369.13" y="1074.09" width="12.03" height="50.39" fill="#fff1aa"/>
<rect x="380.86" y="1074.09" width="12.03" height="50.39" fill="#feeba1"/>
<rect x="392.58" y="1074.09" width="12.03" height="50.39" fill="#fffebe"/>
<rect x="404.31" y="1074.09" width="12.03" height="50.39" fill="#fff7b2"/>
<rect x="416.04" y="1074.09" width="12.03" height="50.39" fill="#feefa7"/>
<rect x="427.76" y="1074.09" width="12.03" height="50.39" fill="#feeda4"/>
<rect x="439.49" y="1074.09" width="12.03" height="50.39" fill="#fee99e"/>
<rect x="451.21" y="1074.09" width="12.03" height="50.39" fill="#feeba1"/>
<rect x="462.94" y="1074.09" width="12.03" height="50.39" fill="#fee99e"/>
<rect x="474.66" y="1074.09" width="12.03" height="50.39" fill="#feeda4"/>
<rect x="486.39" y="1074.09" width="12.03" height="50.39" fill="#feeba1"/>
<rect x="498.11" y="1074.09" width="23.75" height="50.39" fill="#feeda4"/>
<rect x="521.56" y="1074.09" width="12.03" height="50.39" fill="#feeba1"/>
<rect x="533.29" y="1074.09" width="12.03" height="50.39" fill="#feeda4"/>
<rect x="545.02" y="1074.09" width="12.03" height="50.39" fill="#fee99e"/>
<rect x="556.74" y="1074.09" width="12.03" height="50.39" fill="#fee293"/>
<rect x="568.47" y="1074.09" width="12.03" height="50.39" fill="#fff5af"/>
<rect x="580.19" y="1074.09" width="12.03" height="50.39" fill="#feefa7"/>
<rect x="591.92" y="1074.09" width="12.03" height="50.39" fill="#fff5af"/>
<rect x="603.64" y="1074.09" width="12.03" height="50.39" fill="#fff7b2"/>
<rect x="615.37" y="1074.09" width="12.03" height="50.39" fill="#fff5af"/>
<rect x="627.09" y="1074.09" width="12.03" height="50.39" fill="#fff3ac"/>
<rect x="638.82" y="1074.09" width="12.03" height="50.39" fill="#feefa7"/>
<rect x="650.54" y="1074.09" width="23.75" height="50.39" fill="#feeba1"/>
<rect x="673.99" y="1074.09" width="12.03" height="50.39" fill="#fff7b2"/>
<rect x="685.72" y="1074.09" width="12.03" height="50.39" fill="#fee99e"/>
<rect x="697.45" y="1074.09" width="35.48" height="50.39" fill="#feeda4"/>
<rect x="732.62" y="1074.09" width="12.03" height="50.39" fill="#feeba1"/>
<rect x="744.35" y="1074.09" width="12.03" height="50.39" fill="#feeda4"/>
<rect x="756.07" y="1074.09" width="12.03" height="50.39" fill="#fff7b2"/>
<rect x="767.8" y="1074.09" width="12.03" height="50.39" fill="#feefa7"/>
<rect x="779.52" y="1074.09" width="12.03" height="50.39" fill="#feeda4"/>
<rect x="791.25" y="1074.09" width="12.03" height="50.39" fill="#fdbd79"/>
<rect x="802.97" y="1074.09" width="12.03" height="50.39" fill="#feeba1"/>
<rect x="814.7" y="1074.09" width="12.03" height="50.39" fill="#fee293"/>
<rect x="826.43" y="1074.09" width="12.03" height="50.39" fill="#fee99e"/>
<rect x="838.15" y="1074.09" width="23.75" height="50.39" fill="#feeda4"/>
<rect x="861.6" y="1074.09" width="12.03" height="50.39" fill="#feeba1"/>
<rect x="873.33" y="1074.09" width="12.03" height="50.39" fill="#fff1aa"/>
<rect x="885.05" y="1074.09" width="12.03" height="50.39" fill="#feefa7"/>
<rect x="896.78" y="1074.09" width="12.03" height="50.39" fill="#feeda4"/>
<rect x="908.5" y="1074.09" width="12.03" height="50.39" fill="#feefa7"/>
<rect x="920.23" y="1074.09" width="12.03" height="50.39" fill="#feeda4"/>
<rect x="931.95" y="1074.09" width="12.03" height="50.39" fill="#feeba1"/>
<rect x="943.68" y="1074.09" width="12.03" height="50.39" fill="#fee99e"/>
<rect x="955.41" y="1074.09" width="12.03" height="50.39" fill="#feeda4"/>
<rect x="967.13" y="1074.09" width="12.03" height="50.39" fill="#fee090"/>
<rect x="978.86" y="1074.09" width="12.03" height="50.39" fill="#fedb8d"/>
<rect x="990.58" y="1074.09" width="12.03" height="50.39" fill="#fee293"/>
<rect x="1002.31" y="1074.09" width="12.03" height="50.39" fill="#fee496"/>
<rect x="1014.03" y="1074.09" width="12.03" height="50.39" fill="#feeda4"/>
<rect x="1025.76" y="1074.09" width="12.03" height="50.39" fill="#fff5af"/>
<rect x="1037.48" y="1074.09" width="12.03" height="50.39" fill="#feefa7"/>
<rect x="1049.21" y="1074.09" width="23.75" height="50.39" fill="#fff7b2"/>
<rect x="1072.66" y="1074.09" width="12.03" height="50.39" fill="#fff5af"/>
<rect x="1084.38" y="1074.09" width="12.03" height="50.39" fill="#fff3ac"/>
<rect x="1096.11" y="1074.09" width="12.03" height="50.39" fill="#feefa7"/>
<rect x="1107.84" y="1074.09" width="12.03" height="50.39" fill="#fee99e"/>
<rect x="1119.56" y="1074.09" width="12.03" height="50.39" fill="#feeba1"/>
<rect x="1131.29" y="1074.09" width="12.03" height="50.39" fill="#feeda4"/>
<rect x="1143.01" y="1074.09" width="12.03" height="50.39" fill="#feefa7"/>
<rect x="1154.74" y="1074.09" width="12.03" height="50.39" fill="#feeda4"/>
<rect x="1166.46" y="1074.09" width="12.03" height="50.39" fill="#feefa7"/>
<rect x="1178.19" y="1074.09" width="12.03" height="50.39" fill="#fff1aa"/>
<rect x="1189.91" y="1074.09" width="12.03" height="50.39" fill="#feeda4"/>
<rect x="1201.64" y="1074.09" width="35.48" height="50.39" fill="#feefa7"/>
<rect x="1236.82" y="1074.09" width="12.03" height="50.39" fill="#fee496"/>
<rect x="1248.54" y="1074.09" width="12.03" height="50.39" fill="#fee293"/>
<rect x="1260.27" y="1074.09" width="12.03" height="50.39" fill="#fee496"/>
<rect x="1271.99" y="1074.09" width="12.03" height="50.39" fill="#fee89b"/>
<rect x="1283.72" y="1074.09" width="12.03" height="50.39" fill="#feeda4"/>
<rect x="1295.44" y="1074.09" width="12.03" height="50.39" fill="#feeba1"/>
<rect x="1307.17" y="1074.09" width="12.03" height="50.39" fill="#fee99e"/>
<rect x="1318.89" y="1074.09" width="12.03" height="50.39" fill="#fedb8d"/>
<rect x="1330.62" y="1074.09" width="12.03" height="50.39" fill="#fff7b2"/>
<rect x="1342.34" y="1074.09" width="12.03" height="50.39" fill="#feeba1"/>
<rect x="1354.07" y="1074.09" width="12.03" height="50.39" fill="#fee293"/>
<rect x="1365.79" y="1074.09" width="12.03" height="50.39" fill="#feeba1"/>
<rect x="1377.52" y="1074.09" width="12.03" height="50.39" fill="#fee99e"/>
<rect x="1389.25" y="1074.09" width="12.03" height="50.39" fill="#feefa7"/>
<rect x="1400.97" y="1074.09" width="12.03" height="50.39" fill="#fff3ac"/>
<rect x="1412.7" y="1074.09" width="12.03" height="50.39" fill="#fff1aa"/>
<rect x="1424.42" y="1074.09" width="12.03" height="50.39" fill="#feefa7"/>
<rect x="1436.15" y="1074.09" width="12.03" height="50.39" fill="#fee090"/>
<rect x="1447.87" y="1074.09" width="12.03" height="50.39" fill="#fffcbb"/>
<rect x="1459.6" y="1074.09" width="23.75" height="50.39" fill="#feeda4"/>
<rect x="1483.05" y="1074.09" width="12.03" height="50.39" fill="#feefa7"/>
<rect x="1494.77" y="1074.09" width="12.03" height="50.39" fill="#fff5af"/>
<rect x="122.9" y="1124.18" width="12.03" height="50.39" fill="#fff3ac"/>
<rect x="134.63" y="1124.18" width="12.03" height="50.39" fill="#feffc1"/>
<rect x="146.35" y="1124.18" width="12.03" height="50.39" fill="#feeba1"/>
<rect x="158.08" y="1124.18" width="12.03" height="50.39" fill="#feeda4"/>
<rect x="169.8" y="1124.18" width="12.03" height="50.39" fill="#feefa7"/>
<rect x="181.53" y="1124.18" width="12.03" height="50.39" fill="#feeba1"/>
<rect x="193.25" y="1124.18" width="12.03" height="50.39" fill="#feeda4"/>
<rect x="204.98" y="1124.18" width="12.03" height="50.39" fill="#fff5af"/>
<rect x="216.7" y="1124.18" width="12.03" height="50.39" fill="#fffab8"/>
<rect x="228.43" y="1124.18" width="12.03" height="50.39" fill="#feeba1"/>
<rect x="240.15" y="1124.18" width="12.03" height="50.39" fill="#fff3ac"/>
<rect x="251.88" y="1124.18" width="12.03" height="50.39" fill="#fff7b2"/>
<rect x="263.61" y="1124.18" width="12.03" height="50.39" fill="#fff8b5"/>
<rect x="275.33" y="1124.18" width="12.03" height="50.39" fill="#fff3ac"/>
<rect x="287.06" y="1124.18" width="12.03" height="50.39" fill="#feeda4"/>
<rect x="298.78" y="1124.18" width="12.03" height="50.39" fill="#feeba1"/>
<rect x="310.51" y="1124.18" width="12.03" height="50.39" fill="#fff3ac"/>
<rect x="322.23" y="1124.18" width="12.03" height="50.39" fill="#fff1aa"/>
<rect x="333.96" y="1124.18" width="12.03" height="50.39" fill="#fff5af"/>
<rect x="345.68" y="1124.18" width="12.03" height="50.39" fill="#feeba1"/>
<rect x="357.41" y="1124.18" width="12.03" height="50.39" fill="#feeda4"/>
<rect x="369.13" y="1124.18" width="12.03" height="50.39" fill="#feeba1"/>
<rect x="380.86" y="1124.18" width="12.03" height="50.39" fill="#feefa7"/>
<rect x="392.58" y="1124.18" width="12.03" height="50.39" fill="#feeba1"/>
<rect x="404.31" y="1124.18" width="12.03" height="50.39" fill="#feeda4"/>
<rect x="416.04" y="1124.18" width="12.03" height="50.39" fill="#feeba1"/>
<rect x="427.76" y="1124.18" width="12.03" height="50.39" fill="#feeda4"/>
<rect x="439.49" y="1124.18" width="12.03" height="50.39" fill="#feefa7"/>
<rect x="451.21" y="1124.18" width="12.03" height="50.39" fill="#fee99e"/>
<rect x="462.94" y="1124.18" width="12.03" height="50.39" fill="#fff1aa"/>
<rect x="474.66" y="1124.18" width="12.03" height="50.39" fill="#feefa7"/>
<rect x="486.39" y="1124.18" width="12.03" height="50.39" fill="#feeda4"/>
<rect x="498.11" y="1124.18" width="12.03" height="50.39" fill="#feeba1"/>
<rect x="509.84" y="1124.18" width="12.03" height="50.39" fill="#feefa7"/>
<rect x="521.56" y="1124.18" width="12.03" height="50.39" fill="#fff1aa"/>
<rect x="533.29" y="1124.18" width="12.03" height="50.39" fill="#feeba1"/>
<rect x="545.02" y="1124.18" width="12.03" height="50.39" fill="#feefa7"/>
<rect x="556.74" y="1124.18" width="12.03" height="50.39" fill="#feeda4"/>
<rect x="568.47" y="1124.18" width="12.03" height="50.39" fill="#feefa7"/>
<rect x="580.19" y="1124.18" width="12.03" height="50.39" fill="#fee99e"/>
<rect x="591.92" y="1124.18" width="12.03" height="50.39" fill="#feeba1"/>
<rect x="603.64" y="1124.18" width="12.03" height="50.39" fill="#feefa7"/>
<rect x="615.37" y="1124.18" width="12.03" height="50.39" fill="#feeda4"/>
<rect x="627.09" y="1124.18" width="12.03" height="50.39" fill="#feeba1"/>
<rect x="638.82" y="1124.18" width="12.03" height="50.39" fill="#fff5af"/>
<rect x="650.54" y="1124.18" width="12.03" height="50.39" fill="#feefa7"/>
<rect x="662.27" y="1124.18" width="12.03" height="50.39" fill="#fff3ac"/>
<rect x="673.99" y="1124.18" width="12.03" height="50.39" fill="#feeda4"/>
<rect x="685.72" y="1124.18" width="12.03" height="50.39" fill="#fff3ac"/>
<rect x="697.45" y="1124.18" width="12.03" height="50.39" fill="#fff1aa"/>
<rect x="709.17" y="1124.18" width="12.03" height="50.39" fill="#feeda4"/>
<rect x="720.9" y="1124.18" width="12.03" height="50.39" fill="#feefa7"/>
<rect x="732.62" y="1124.18" width="23.75" height="50.39" fill="#feeba1"/>
<rect x="756.07" y="1124.18" width="12.03" height="50.39" fill="#feefa7"/>
<rect x="767.8" y="1124.18" width="47.2" height="50.39" fill="#feeda4"/>
<rect x="814.7" y="1124.18" width="12.03" height="50.39" fill="#feefa7"/>
<rect x="826.43" y="1124.18" width="12.03" height="50.39" fill="#fff5af"/>
<rect x="838.15" y="1124.18" width="12.03" height="50.39" fill="#feeba1"/>
<rect x="849.88" y="1124.18" width="12.03" height="50.39" fill="#feeda4"/>
<rect x="861.6" y="1124.18" width="12.03" height="50.39" fill="#feeba1"/>
<rect x="873.33" y="1124.18" width="12.03" height="50.39" fill="#fff1aa"/>
<rect x="885.05" y="1124.18" width="12.03" height="50.39" fill="#feefa7"/>
<rect x="896.78" y="1124.18" width="12.03" height="50.39" fill="#fff3ac"/>
<rect x="908.5" y="1124.18" width="23.75" height="50.39" fill="#feefa7"/>
<rect x="931.95" y="1124.18" width="12.03" height="50.39" fill="#fff7b2"/>
<rect x="943.68" y="1124.18" width="12.03" height="50.39" fill="#feefa7"/>
<rect x="955.41" y="1124.18" width="12.03" height="50.39" fill="#feeda4"/>
<rect x="967.13" y="1124.18" width="12.03" height="50.39" fill="#fff1aa"/>
<rect x="978.86" y="1124.18" width="12.03" height="50.39" fill="#feefa7"/>
<rect x="990.58" y="1124.18" width="23.75" height="50.39" fill="#fff3ac"/>
<rect x="1014.03" y="1124.18" width="12.03" height="50.39" fill="#fff5af"/>
<rect x="1025.76" y="1124.18" width="23.75" height="50.39" fill="#fff3ac"/>
<rect x="1049.21" y="1124.18" width="12.03" height="50.39" fill="#fff5af"/>
<rect x="1060.93" y="1124.18" width="12.03" height="50.39" fill="#fff1aa"/>
<rect x="1072.66" y="1124.18" width="12.03" height="50.39" fill="#fff5af"/>
<rect x="1084.38" y="1124.18" width="23.75" height="50.39" fill="#fff3ac"/>
<rect x="1107.84" y="1124.18" width="12.03" height="50.39" fill="#feefa7"/>
<rect x="1119.56" y="1124.18" width="12.03" height="50.39" fill="#fff3ac"/>
<rect x="1131.29" y="1124.18" width="12.03" height="50.39" fill="#fff1aa"/>
<rect x="1143.01" y="1124.18" width="12.03" height="50.39" fill="#feefa7"/>
<rect x="1154.74" y="1124.18" width="23.75" height="50.39" fill="#fff3ac"/>
<rect x="1178.19" y="1124.18" width="12.03" height="50.39" fill="#fff7b2"/>
<rect x="1189.91" y="1124.18" width="12.03" height="50.39" fill="#fff5af"/>
<rect x="1201.64" y="1124.18" width="12.03" height="50.39" fill="#fff1aa"/>
<rect x="1213.36" y="1124.18" width="12.03" height="50.39" fill="#fff7b2"/>
<rect x="1225.09" y="1124.18" width="12.03" height="50.39" fill="#fff3ac"/>
<rect x="1236.82" y="1124.18" width="12.03" height="50.39" fill="#fff1aa"/>
<rect x="1248.54" y="1124.18" width="12.03" height="50.39" fill="#fff5af"/>
<rect x="1260.27" y="1124.18" width="12.03" height="50.39" fill="#fff7b2"/>
<rect x="1271.99" y="1124.18" width="12.03" height="50.39" fill="#fff3ac"/>
<rect x="1283.72" y="1124.18" width="12.03" height="50.39" fill="#fffab8"/>
<rect x="1295.44" y="1124.18" width="12.03" height="50.39" fill="#feefa7"/>
<rect x="1307.17" y="1124.18" width="12.03" height="50.39" fill="#fff3ac"/>
<rect x="1318.89" y="1124.18" width="12.03" height="50.39" fill="#feefa7"/>
<rect x="1330.62" y="1124.18" width="23.75" height="50.39" fill="#fff3ac"/>
<rect x="1354.07" y="1124.18" width="12.03" height="50.39" fill="#fff1aa"/>
<rect x="1365.79" y="1124.18" width="12.03" height="50.39" fill="#fff3ac"/>
<rect x="1377.52" y="1124.18" width="23.75" height="50.39" fill="#fff1aa"/>
<rect x="1400.97" y="1124.18" width="12.03" height="50.39" fill="#fff3ac"/>
<rect x="1412.7" y="1124.18" width="12.03" height="50.39" fill="#fff1aa"/>
<rect x="1424.42" y="1124.18" width="12.03" height="50.39" fill="#fff3ac"/>
<rect x="1436.15" y="1124.18" width="12.03" height="50.39" fill="#fff8b5"/>
<rect x="1447.87" y="1124.18" width="12.03" height="50.39" fill="#fff7b2"/>
<rect x="1459.6" y="1124.18" width="23.75" height="50.39" fill="#fff1aa"/>
<rect x="1483.05" y="1124.18" width="23.75" height="50.39" fill="#fff3ac"/>
<rect x="122.9" y="1174.27" width="12.03" height="50.39" fill="#feeba1"/>
<rect x="134.63" y="1174.27" width="12.03" height="50.39" fill="#fee99e"/>
<rect x="146.35" y="1174.27" width="12.03" height="50.39" fill="#fff7b2"/>
<rect x="158.08" y="1174.27" width="12.03" height="50.39" fill="#fff5af"/>
<rect x="169.8" y="1174.27" width="12.03" height="50.39" fill="#fff1aa"/>
<rect x="181.53" y="1174.27" width="12.03" height="50.39" fill="#feefa7"/>
<rect x="193.25" y="1174.27" width="12.03" height="50.39" fill="#fff1aa"/>
<rect x="204.98" y="1174.27" width="23.75" height="50.39" fill="#fff5af"/>
<rect x="228.43" y="1174.27" width="12.03" height="50.39" fill="#fff1aa"/>
<rect x="240.15" y="1174.27" width="12.03" height="50.39" fill="#fff3ac"/>
<rect x="251.88" y="1174.27" width="12.03" height="50.39" fill="#feeda4"/>
<rect x="263.61" y="1174.27" width="12.03" height="50.39" fill="#feeba1"/>
<rect x="275.33" y="1174.27" width="12.03" height="50.39" fill="#feeda4"/>
<rect x="287.06" y="1174.27" width="12.03" height="50.39" fill="#fff3ac"/>
<rect x="298.78" y="1174.27" width="12.03" height="50.39" fill="#feeda4"/>
<rect x="310.51" y="1174.27" width="12.03" height="50.39" fill="#feefa7"/>
<rect x="322.23" y="1174.27" width="12.03" height="50.39" fill="#feeda4"/>
<rect x="333.96" y="1174.27" width="12.03" height="50.39" fill="#fff1aa"/>
<rect x="345.68" y="1174.27" width="12.03" height="50.39" fill="#feefa7"/>
<rect x="357.41" y="1174.27" width="12.03" height="50.39" fill="#fff1aa"/>
<rect x="369.13" y="1174.27" width="12.03" height="50.39" fill="#fff5af"/>
<rect x="380.86" y="1174.27" width="12.03" height="50.39" fill="#fff3ac"/>
<rect x="392.58" y="1174.27" width="12.03" height="50.39" fill="#fff1aa"/>
<rect x="404.31" y="1174.27" width="12.03" height="50.39" fill="#fff3ac"/>
<rect x="416.04" y="1174.27" width="12.03" height="50.39" fill="#feefa7"/>
<rect x="427.76" y="1174.27" width="12.03" height="50.39" fill="#fff1aa"/>
<rect x="439.49" y="1174.27" width="12.03" height="50.39" fill="#fff5af"/>
<rect x="451.21" y="1174.27" width="12.03" height="50.39" fill="#fff1aa"/>
<rect x="462.94" y="1174.27" width="12.03" height="50.39" fill="#fff3ac"/>
<rect x="474.66" y="1174.27" width="12.03" height="50.39" fill="#feefa7"/>
<rect x="486.39" y="1174.27" width="12.03" height="50.39" fill="#fff1aa"/>
<rect x="498.11" y="1174.27" width="12.03" height="50.39" fill="#fff3ac"/>
<rect x="509.84" y="1174.27" width="12.03" height="50.39" fill="#fff1aa"/>
<rect x="521.56" y="1174.27" width="12.03" height="50.39" fill="#feefa7"/>
<rect x="533.29" y="1174.27" width="12.03" height="50.39" fill="#fff3ac"/>
<rect x="545.02" y="1174.27" width="23.75" height="50.39" fill="#fff1aa"/>
<rect x="568.47" y="1174.27" width="12.03" height="50.39" fill="#fff3ac"/>
<rect x="580.19" y="1174.27" width="12.03" height="50.39" fill="#fff7b2"/>
<rect x="591.92" y="1174.27" width="12.03" height="50.39" fill="#feefa7"/>
<rect x="603.64" y="1174.27" width="12.03" height="50.39" fill="#fff1aa"/>
<rect x="615.37" y="1174.27" width="12.03" height="50.39" fill="#fff3ac"/>
<rect x="627.09" y="1174.27" width="12.03" height="50.39" fill="#fff1aa"/>
<rect x="638.82" y="1174.27" width="12.03" height="50.39" fill="#fff3ac"/>
<rect x="650.54" y="1174.27" width="12.03" height="50.39" fill="#fff1aa"/>
<rect x="662.27" y="1174.27" width="12.03" height="50.39" fill="#feefa7"/>
<rect x="673.99" y="1174.27" width="12.03" height="50.39" fill="#feeda4"/>
<rect x="685.72" y="1174.27" width="12.03" height="50.39" fill="#fff3ac"/>
<rect x="697.45" y="1174.27" width="12.03" height="50.39" fill="#feefa7"/>
<rect x="709.17" y="1174.27" width="23.75" height="50.39" fill="#fff3ac"/>
<rect x="732.62" y="1174.27" width="23.75" height="50.39" fill="#feefa7"/>
<rect x="756.07" y="1174.27" width="12.03" height="50.39" fill="#fff7b2"/>
<rect x="767.8" y="1174.27" width="12.03" height="50.39" fill="#fff5af"/>
<rect x="779.52" y="1174.27" width="12.03" height="50.39" fill="#fff3ac"/>
<rect x="791.25" y="1174.27" width="12.03" height="50.39" fill="#feeda4"/>
<rect x="802.97" y="1174.27" width="23.75" height="50.39" fill="#fff3ac"/>
<rect x="826.43" y="1174.27" width="12.03" height="50.39" fill="#fff1aa"/>
<rect x="838.15" y="1174.27" width="12.03" height="50.39" fill="#fff5af"/>
<rect x="849.88" y="1174.27" width="12.03" height="50.39" fill="#feeda4"/>
<rect x="861.6" y="1174.27" width="12.03" height="50.39" fill="#feefa7"/>
<rect x="873.33" y="1174.27" width="12.03" height="50.39" fill="#fff3ac"/>
<rect x="885.05" y="1174.27" width="12.03" height="50.39" fill="#fff7b2"/>
<rect x="896.78" y="1174.27" width="12.03" height="50.39" fill="#fff1aa"/>
<rect x="908.5" y="1174.27" width="12.03" height="50.39" fill="#fff3ac"/>
<rect x="920.23" y="1174.27" width="12.03" height="50.39" fill="#fff1aa"/>
<rect x="931.95" y="1174.27" width="12.03" height="50.39" fill="#feefa7"/>
<rect x="943.68" y="1174.27" width="12.03" height="50.39" fill="#feeda4"/>
<rect x="955.41" y="1174.27" width="12.03" height="50.39" fill="#feefa7"/>
<rect x="967.13" y="1174.27" width="23.75" height="50.39" fill="#fff1aa"/>
<rect x="990.58" y="1174.27" width="12.03" height="50.39" fill="#fff3ac"/>
<rect x="1002.31" y="1174.27" width="12.03" height="50.39" fill="#fff1aa"/>
<rect x="1014.03" y="1174.27" width="12.03" height="50.39" fill="#feeda4"/>
<rect x="1025.76" y="1174.27" width="12.03" height="50.39" fill="#fff3ac"/>
<rect x="1037.48" y="1174.27" width="12.03" height="50.39" fill="#fff1aa"/>
<rect x="1049.21" y="1174.27" width="12.03" height="50.39" fill="#feefa7"/>
<rect x="1060.93" y="1174.27" width="12.03" height="50.39" fill="#fff8b5"/>
<rect x="1072.66" y="1174.27" width="23.75" height="50.39" fill="#feefa7"/>
<rect x="1096.11" y="1174.27" width="12.03" height="50.39" fill="#fff1aa"/>
<rect x="1107.84" y="1174.27" width="12.03" height="50.39" fill="#feefa7"/>
<rect x="1119.56" y="1174.27" width="12.03" height="50.39" fill="#feeda4"/>
<rect x="1131.29" y="1174.27" width="12.03" height="50.39" fill="#fff1aa"/>
<rect x="1143.01" y="1174.27" width="12.03" height="50.39" fill="#feefa7"/>
<rect x="1154.74" y="1174.27" width="12.03" height="50.39" fill="#feeda4"/>
<rect x="1166.46" y="1174.27" width="12.03" height="50.39" fill="#fff3ac"/>
<rect x="1178.19" y="1174.27" width="12.03" height="50.39" fill="#feefa7"/>
<rect x="1189.91" y="1174.27" width="12.03" height="50.39" fill="#fff3ac"/>
<rect x="1201.64" y="1174.27" width="12.03" height="50.39" fill="#fff1aa"/>
<rect x="1213.36" y="1174.27" width="23.75" height="50.39" fill="#fff3ac"/>
<rect x="1236.82" y="1174.27" width="12.03" height="50.39" fill="#fff1aa"/>
<rect x="1248.54" y="1174.27" width="35.48" height="50.39" fill="#fff3ac"/>
<rect x="1283.72" y="1174.27" width="12.03" height="50.39" fill="#fff1aa"/>
<rect x="1295.44" y="1174.27" width="12.03" height="50.39" fill="#feefa7"/>
<rect x="1307.17" y="1174.27" width="35.48" height="50.39" fill="#fff1aa"/>
<rect x="1342.34" y="1174.27" width="12.03" height="50.39" fill="#fff3ac"/>
<rect x="1354.07" y="1174.27" width="23.75" height="50.39" fill="#fff1aa"/>
<rect x="1377.52" y="1174.27" width="12.03" height="50.39" fill="#feefa7"/>
<rect x="1389.25" y="1174.27" width="23.75" height="50.39" fill="#fff1aa"/>
<rect x="1412.7" y="1174.27" width="12.03" height="50.39" fill="#feefa7"/>
<rect x="1424.42" y="1174.27" width="12.03" height="50.39" fill="#fff1aa"/>
<rect x="1436.15" y="1174.27" width="12.03" height="50.39" fill="#fff5af"/>
<rect x="1447.87" y="1174.27" width="23.75" height="50.39" fill="#fff1aa"/>
<rect x="1471.32" y="1174.27" width="12.03" height="50.39" fill="#fff7b2"/>
<rect x="1483.05" y="1174.27" width="12.03" height="50.39" fill="#fff3ac"/>
<rect x="1494.77" y="1174.27" width="12.03" height="50.39" fill="#feefa7"/>
<rect x="122.9" y="1224.36" width="12.03" height="50.39" fill="#feeda4"/>
<rect x="134.63" y="1224.36" width="12.03" height="50.39" fill="#fff3ac"/>
<rect x="146.35" y="1224.36" width="47.2" height="50.39" fill="#feeda4"/>
<rect x="193.25" y="1224.36" width="12.03" height="50.39" fill="#feeba1"/>
<rect x="204.98" y="1224.36" width="12.03" height="50.39" fill="#feefa7"/>
<rect x="216.7" y="1224.36" width="12.03" height="50.39" fill="#fff3ac"/>
<rect x="228.43" y="1224.36" width="23.75" height="50.39" fill="#feeda4"/>
<rect x="251.88" y="1224.36" width="23.75" height="50.39" fill="#feeba1"/>
<rect x="275.33" y="1224.36" width="12.03" height="50.39" fill="#feeda4"/>
<rect x="287.06" y="1224.36" width="12.03" height="50.39" fill="#fff1aa"/>
<rect x="298.78" y="1224.36" width="12.03" height="50.39" fill="#feeba1"/>
<rect x="310.51" y="1224.36" width="23.75" height="50.39" fill="#feeda4"/>
<rect x="333.96" y="1224.36" width="12.03" height="50.39" fill="#feefa7"/>
<rect x="345.68" y="1224.36" width="12.03" height="50.39" fill="#feeba1"/>
<rect x="357.41" y="1224.36" width="35.48" height="50.39" fill="#feefa7"/>
<rect x="392.58" y="1224.36" width="12.03" height="50.39" fill="#feeda4"/>
<rect x="404.31" y="1224.36" width="12.03" height="50.39" fill="#feeba1"/>
<rect x="416.04" y="1224.36" width="12.03" height="50.39" fill="#fee99e"/>
<rect x="427.76" y="1224.36" width="12.03" height="50.39" fill="#feeda4"/>
<rect x="439.49" y="1224.36" width="12.03" height="50.39" fill="#feefa7"/>
<rect x="451.21" y="1224.36" width="12.03" height="50.39" fill="#feeba1"/>
<rect x="462.94" y="1224.36" width="23.75" height="50.39" fill="#feeda4"/>
<rect x="486.39" y="1224.36" width="12.03" height="50.39" fill="#feeba1"/>
<rect x="498.11" y="1224.36" width="12.03" height="50.39" fill="#feefa7"/>
<rect x="509.84" y="1224.36" width="23.75" height="50.39" fill="#feeda4"/>
<rect x="533.29" y="1224.36" width="23.75" height="50.39" fill="#feeba1"/>
<rect x="556.74" y="1224.36" width="12.03" height="50.39" fill="#feeda4"/>
<rect x="568.47" y="1224.36" width="12.03" height="50.39" fill="#feefa7"/>
<rect x="580.19" y="1224.36" width="23.75" height="50.39" fill="#feeda4"/>
<rect x="603.64" y="1224.36" width="12.03" height="50.39" fill="#feefa7"/>
<rect x="615.37" y="1224.36" width="23.75" height="50.39" fill="#feeda4"/>
<rect x="638.82" y="1224.36" width="12.03" height="50.39" fill="#feefa7"/>
<rect x="650.54" y="1224.36" width="82.38" height="50.39" fill="#feeda4"/>
<rect x="732.62" y="1224.36" width="12.03" height="50.39" fill="#feeba1"/>
<rect x="744.35" y="1224.36" width="35.48" height="50.39" fill="#feeda4"/>
<rect x="779.52" y="1224.36" width="12.03" height="50.39" fill="#feefa7"/>
<rect x="791.25" y="1224.36" width="12.03" height="50.39" fill="#feeba1"/>
<rect x="802.97" y="1224.36" width="23.75" height="50.39" fill="#feeda4"/>
<rect x="826.43" y="1224.36" width="12.03" height="50.39" fill="#feeba1"/>
<rect x="838.15" y="1224.36" width="23.75" height="50.39" fill="#feeda4"/>
<rect x="861.6" y="1224.36" width="12.03" height="50.39" fill="#feefa7"/>
<rect x="873.33" y="1224.36" width="23.75" height="50.39" fill="#feeda4"/>
<rect x="896.78" y="1224.36" width="12.03" height="50.39" fill="#feeba1"/>
<rect x="908.5" y="1224.36" width="12.03" height="50.39" fill="#feefa7"/>
<rect x="920.23" y="1224.36" width="12.03" height="50.39" fill="#feeda4"/>
<rect x="931.95" y="1224.36" width="12.03" height="50.39" fill="#fff1aa"/>
<rect x="943.68" y="1224.36" width="47.2" height="50.39" fill="#feeda4"/>
<rect x="990.58" y="1224.36" width="23.75" height="50.39" fill="#feefa7"/>
<rect x="1014.03" y="1224.36" width="12.03" height="50.39" fill="#feeda4"/>
<rect x="1025.76" y="1224.36" width="12.03" height="50.39" fill="#feefa7"/>
<rect x="1037.48" y="1224.36" width="35.48" height="50.39" fill="#feeda4"/>
<rect x="1072.66" y="1224.36" width="12.03" height="50.39" fill="#feefa7"/>
<rect x="1084.38" y="1224.36" width="12.03" height="50.39" fill="#feeda4"/>
<rect x="1096.11" y="1224.36" width="12.03" height="50.39" fill="#feefa7"/>
<rect x="1107.84" y="1224.36" width="12.03" height="50.39" fill="#feeda4"/>
<rect x="1119.56" y="1224.36" width="12.03" height="50.39" fill="#feefa7"/>
<rect x="1131.29" y="1224.36" width="12.03" height="50.39" fill="#feeda4"/>
<rect x="1143.01" y="1224.36" width="23.75" height="50.39" fill="#feefa7"/>
<rect x="1166.46" y="1224.36" width="12.03" height="50.39" fill="#feeda4"/>
<rect x="1178.19" y="1224.36" width="105.83" height="50.39" fill="#feefa7"/>
<rect x="1283.72" y="1224.36" width="23.75" height="50.39" fill="#feeda4"/>
<rect x="1307.17" y="1224.36" width="176.18" height="50.39" fill="#feefa7"/>
<rect x="1483.05" y="1224.36" width="12.03" height="50.39" fill="#feeda4"/>
<rect x="1494.77" y="1224.36" width="12.03" height="50.39" fill="#feefa7"/>
<rect x="122.9" y="1274.44" width="12.03" height="50.39" fill="#feefa7"/>
<rect x="134.63" y="1274.44" width="12.03" height="50.39" fill="#fff3ac"/>
<rect x="146.35" y="1274.44" width="12.03" height="50.39" fill="#feeba1"/>
<rect x="158.08" y="1274.44" width="12.03" height="50.39" fill="#fff3ac"/>
<rect x="169.8" y="1274.44" width="12.03" height="50.39" fill="#feeda4"/>
<rect x="181.53" y="1274.44" width="12.03" height="50.39" fill="#fff3ac"/>
<rect x="193.25" y="1274.44" width="12.03" height="50.39" fill="#feeba1"/>
<rect x="204.98" y="1274.44" width="12.03" height="50.39" fill="#fff3ac"/>
<rect x="216.7" y="1274.44" width="12.03" height="50.39" fill="#fff1aa"/>
<rect x="228.43" y="1274.44" width="12.03" height="50.39" fill="#feeba1"/>
<rect x="240.15" y="1274.44" width="12.03" height="50.39" fill="#feefa7"/>
<rect x="251.88" y="1274.44" width="12.03" height="50.39" fill="#fff1aa"/>
<rect x="263.61" y="1274.44" width="12.03" height="50.39" fill="#feeda4"/>
<rect x="275.33" y="1274.44" width="12.03" height="50.39" fill="#fff1aa"/>
<rect x="287.06" y="1274.44" width="12.03" height="50.39" fill="#feeda4"/>
<rect x="298.78" y="1274.44" width="12.03" height="50.39" fill="#fff3ac"/>
<rect x="310.51" y="1274.44" width="12.03" height="50.39" fill="#feeba1"/>
<rect x="322.23" y="1274.44" width="12.03" height="50.39" fill="#feeda4"/>
<rect x="333.96" y="1274.44" width="12.03" height="50.39" fill="#fff1aa"/>
<rect x="345.68" y="1274.44" width="12.03" height="50.39" fill="#feeda4"/>
<rect x="357.41" y="1274.44" width="12.03" height="50.39" fill="#feeba1"/>
<rect x="369.13" y="1274.44" width="12.03" height="50.39" fill="#feeda4"/>
<rect x="380.86" y="1274.44" width="12.03" height="50.39" fill="#feefa7"/>
<rect x="392.58" y="1274.44" width="12.03" height="50.39" fill="#feeda4"/>
<rect x="404.31" y="1274.44" width="12.03" height="50.39" fill="#feefa7"/>
<rect x="416.04" y="1274.44" width="12.03" height="50.39" fill="#feeba1"/>
<rect x="427.76" y="1274.44" width="12.03" height="50.39" fill="#feefa7"/>
<rect x="439.49" y="1274.44" width="23.75" height="50.39" fill="#feeda4"/>
<rect x="462.94" y="1274.44" width="12.03" height="50.39" fill="#feefa7"/>
<rect x="474.66" y="1274.44" width="12.03" height="50.39" fill="#fff1aa"/>
<rect x="486.39" y="1274.44" width="12.03" height="50.39" fill="#feeda4"/>
<rect x="498.11" y="1274.44" width="35.48" height="50.39" fill="#feefa7"/>
<rect x="533.29" y="1274.44" width="12.03" height="50.39" fill="#feeda4"/>
<rect x="545.02" y="1274.44" width="12.03" height="50.39" fill="#feefa7"/>
<rect x="556.74" y="1274.44" width="12.03" height="50.39" fill="#feeda4"/>
<rect x="568.47" y="1274.44" width="12.03" height="50.39" fill="#fff1aa"/>
<rect x="580.19" y="1274.44" width="12.03" height="50.39" fill="#feeda4"/>
<rect x="591.92" y="1274.44" width="12.03" height="50.39" fill="#feefa7"/>
<rect x="603.64" y="1274.44" width="12.03" height="50.39" fill="#feeda4"/>
<rect x="615.37" y="1274.44" width="12.03" height="50.39" fill="#fff1aa"/>
<rect x="627.09" y="1274.44" width="12.03" height="50.39" fill="#feeba1"/>
<rect x="638.82" y="1274.44" width="12.03" height="50.39" fill="#fff3ac"/>
<rect x="650.54" y="1274.44" width="12.03" height="50.39" fill="#fff1aa"/>
<rect x="662.27" y="1274.44" width="12.03" height="50.39" fill="#feefa7"/>
<rect x="673.99" y="1274.44" width="12.03" height="50.39" fill="#fff1aa"/>
<rect x="685.72" y="1274.44" width="12.03" height="50.39" fill="#feefa7"/>
<rect x="697.45" y="1274.44" width="12.03" height="50.39" fill="#fff3ac"/>
<rect x="709.17" y="1274.44" width="12.03" height="50.39" fill="#fff1aa"/>
<rect x="720.9" y="1274.44" width="12.03" height="50.39" fill="#fff3ac"/>
<rect x="732.62" y="1274.44" width="12.03" height="50.39" fill="#feeba1"/>
<rect x="744.35" y="1274.44" width="12.03" height="50.39" fill="#feefa7"/>
<rect x="756.07" y="1274.44" width="12.03" height="50.39" fill="#feeda4"/>
<rect x="767.8" y="1274.44" width="12.03" height="50.39" fill="#fff1aa"/>
<rect x="779.52" y="1274.44" width="23.75" height="50.39" fill="#feefa7"/>
<rect x="802.97" y="1274.44" width="12.03" height="50.39" fill="#fff3ac"/>
<rect x="814.7" y="1274.44" width="12.03" height="50.39" fill="#feefa7"/>
<rect x="826.43" y="1274.44" width="12.03" height="50.39" fill="#fff1aa"/>
<rect x="838.15" y="1274.44" width="12.03" height="50.39" fill="#feefa7"/>
<rect x="849.88" y="1274.44" width="23.75" height="50.39" fill="#feeda4"/>
<rect x="873.33" y="1274.44" width="12.03" height="50.39" fill="#feefa7"/>
<rect x="885.05" y="1274.44" width="12.03" height="50.39" fill="#fff3ac"/>
<rect x="896.78" y="1274.44" width="12.03" height="50.39" fill="#feefa7"/>
<rect x="908.5" y="1274.44" width="12.03" height="50.39" fill="#feeda4"/>
<rect x="920.23" y="1274.44" width="12.03" height="50.39" fill="#fff1aa"/>
<rect x="931.95" y="1274.44" width="23.75" height="50.39" fill="#feeda4"/>
<rect x="955.41" y="1274.44" width="23.75" height="50.39" fill="#feefa7"/>
<rect x="978.86" y="1274.44" width="12.03" height="50.39" fill="#feeba1"/>
<rect x="990.58" y="1274.44" width="23.75" height="50.39" fill="#feefa7"/>
<rect x="1014.03" y="1274.44" width="12.03" height="50.39" fill="#feeba1"/>
<rect x="1025.76" y="1274.44" width="12.03" height="50.39" fill="#feeda4"/>
<rect x="1037.48" y="1274.44" width="35.48" height="50.39" fill="#feefa7"/>
<rect x="1072.66" y="1274.44" width="12.03" height="50.39" fill="#fff1aa"/>
<rect x="1084.38" y="1274.44" width="12.03" height="50.39" fill="#fff3ac"/>
<rect x="1096.11" y="1274.44" width="47.2" height="50.39" fill="#feefa7"/>
<rect x="1143.01" y="1274.44" width="23.75" height="50.39" fill="#fff1aa"/>
<rect x="1166.46" y="1274.44" width="23.75" height="50.39" fill="#feefa7"/>
<rect x="1189.91" y="1274.44" width="12.03" height="50.39" fill="#fff1aa"/>
<rect x="1201.64" y="1274.44" width="82.38" height="50.39" fill="#feefa7"/>
<rect x="1283.72" y="1274.44" width="12.03" height="50.39" fill="#fff1aa"/>
<rect x="1295.44" y="1274.44" width="23.75" height="50.39" fill="#fff3ac"/>
<rect x="1318.89" y="1274.44" width="12.03" height="50.39" fill="#feefa7"/>
<rect x="1330.62" y="1274.44" width="12.03" height="50.39" fill="#fff1aa"/>
<rect x="1342.34" y="1274.44" width="23.75" height="50.39" fill="#feefa7"/>
<rect x="1365.79" y="1274.44" width="23.75" height="50.39" fill="#fff1aa"/>
<rect x="1389.25" y="1274.44" width="47.2" height="50.39" fill="#feefa7"/>
<rect x="1436.15" y="1274.44" width="12.03" height="50.39" fill="#fff1aa"/>
<rect x="1447.87" y="1274.44" width="12.03" height="50.39" fill="#feeda4"/>
<rect x="1459.6" y="1274.44" width="12.03" height="50.39" fill="#fff1aa"/>
<rect x="1471.32" y="1274.44" width="12.03" height="50.39" fill="#fff3ac"/>
<rect x="1483.05" y="1274.44" width="12.03" height="50.39" fill="#fff5af"/>
<rect x="1494.77" y="1274.44" width="12.03" height="50.39" fill="#fff1aa"/>
<rect x="122.9" y="1324.53" width="23.75" height="50.39" fill="#8ab8d7"/>
<rect x="146.35" y="1324.53" width="12.03" height="50.39" fill="#badaea"/>
<rect x="158.08" y="1324.53" width="12.03" height="50.39" fill="#8ab8d7"/>
<rect x="169.8" y="1324.53" width="12.03" height="50.39" fill="#8fbdda"/>
<rect x="181.53" y="1324.53" width="12.03" height="50.39" fill="#8ab8d7"/>
<rect x="193.25" y="1324.53" width="12.03" height="50.39" fill="#78a6ce"/>
<rect x="204.98" y="1324.53" width="12.03" height="50.39" fill="#7cabd0"/>
<rect x="216.7" y="1324.53" width="12.03" height="50.39" fill="#6594c5"/>
<rect x="228.43" y="1324.53" width="12.03" height="50.39" fill="#7cabd0"/>
<rect x="240.15" y="1324.53" width="12.03" height="50.39" fill="#85b4d5"/>
<rect x="251.88" y="1324.53" width="12.03" height="50.39" fill="#6190c2"/>
<rect x="263.61" y="1324.53" width="12.03" height="50.39" fill="#81afd3"/>
<rect x="275.33" y="1324.53" width="12.03" height="50.39" fill="#8fbdda"/>
<rect x="287.06" y="1324.53" width="12.03" height="50.39" fill="#81afd3"/>
<rect x="298.78" y="1324.53" width="12.03" height="50.39" fill="#9dc7df"/>
<rect x="310.51" y="1324.53" width="12.03" height="50.39" fill="#7cabd0"/>
<rect x="322.23" y="1324.53" width="12.03" height="50.39" fill="#81afd3"/>
<rect x="333.96" y="1324.53" width="12.03" height="50.39" fill="#93c1dc"/>
<rect x="345.68" y="1324.53" width="12.03" height="50.39" fill="#8ab8d7"/>
<rect x="357.41" y="1324.53" width="12.03" height="50.39" fill="#98c4de"/>
<rect x="369.13" y="1324.53" width="12.03" height="50.39" fill="#8fbdda"/>
<rect x="380.86" y="1324.53" width="12.03" height="50.39" fill="#6e9dc9"/>
<rect x="392.58" y="1324.53" width="12.03" height="50.39" fill="#93c1dc"/>
<rect x="404.31" y="1324.53" width="12.03" height="50.39" fill="#7cabd0"/>
<rect x="416.04" y="1324.53" width="23.75" height="50.39" fill="#93c1dc"/>
<rect x="439.49" y="1324.53" width="23.75" height="50.39" fill="#98c4de"/>
<rect x="462.94" y="1324.53" width="12.03" height="50.39" fill="#9dc7df"/>
<rect x="474.66" y="1324.53" width="12.03" height="50.39" fill="#7cabd0"/>
<rect x="486.39" y="1324.53" width="12.03" height="50.39" fill="#85b4d5"/>
<rect x="498.11" y="1324.53" width="12.03" height="50.39" fill="#8ab8d7"/>
<rect x="509.84" y="1324.53" width="12.03" height="50.39" fill="#81afd3"/>
<rect x="521.56" y="1324.53" width="12.03" height="50.39" fill="#8ab8d7"/>
<rect x="533.29" y="1324.53" width="12.03" height="50.39" fill="#7cabd0"/>
<rect x="545.02" y="1324.53" width="12.03" height="50.39" fill="#81afd3"/>
<rect x="556.74" y="1324.53" width="23.75" height="50.39" fill="#98c4de"/>
<rect x="580.19" y="1324.53" width="12.03" height="50.39" fill="#9dc7df"/>
<rect x="591.92" y="1324.53" width="12.03" height="50.39" fill="#98c4de"/>
<rect x="603.64" y="1324.53" width="12.03" height="50.39" fill="#8fbdda"/>
<rect x="615.37" y="1324.53" width="12.03" height="50.39" fill="#93c1dc"/>
<rect x="627.09" y="1324.53" width="12.03" height="50.39" fill="#8ab8d7"/>
<rect x="638.82" y="1324.53" width="12.03" height="50.39" fill="#7cabd0"/>
<rect x="650.54" y="1324.53" width="12.03" height="50.39" fill="#98c4de"/>
<rect x="662.27" y="1324.53" width="12.03" height="50.39" fill="#81afd3"/>
<rect x="673.99" y="1324.53" width="12.03" height="50.39" fill="#85b4d5"/>
<rect x="685.72" y="1324.53" width="23.75" height="50.39" fill="#7cabd0"/>
<rect x="709.17" y="1324.53" width="12.03" height="50.39" fill="#8ab8d7"/>
<rect x="720.9" y="1324.53" width="12.03" height="50.39" fill="#6e9dc9"/>
<rect x="732.62" y="1324.53" width="12.03" height="50.39" fill="#7cabd0"/>
<rect x="744.35" y="1324.53" width="12.03" height="50.39" fill="#b0d3e6"/>
<rect x="756.07" y="1324.53" width="23.75" height="50.39" fill="#a7cde3"/>
<rect x="779.52" y="1324.53" width="12.03" height="50.39" fill="#7cabd0"/>
<rect x="791.25" y="1324.53" width="12.03" height="50.39" fill="#9dc7df"/>
<rect x="802.97" y="1324.53" width="12.03" height="50.39" fill="#8fbdda"/>
<rect x="814.7" y="1324.53" width="12.03" height="50.39" fill="#85b4d5"/>
<rect x="826.43" y="1324.53" width="12.03" height="50.39" fill="#8ab8d7"/>
<rect x="838.15" y="1324.53" width="12.03" height="50.39" fill="#8fbdda"/>
<rect x="849.88" y="1324.53" width="23.75" height="50.39" fill="#98c4de"/>
<rect x="873.33" y="1324.53" width="12.03" height="50.39" fill="#7cabd0"/>
<rect x="885.05" y="1324.53" width="12.03" height="50.39" fill="#6e9dc9"/>
<rect x="896.78" y="1324.53" width="12.03" height="50.39" fill="#7cabd0"/>
<rect x="908.5" y="1324.53" width="12.03" height="50.39" fill="#78a6ce"/>
<rect x="920.23" y="1324.53" width="12.03" height="50.39" fill="#6594c5"/>
<rect x="931.95" y="1324.53" width="12.03" height="50.39" fill="#98c4de"/>
<rect x="943.68" y="1324.53" width="12.03" height="50.39" fill="#73a2cc"/>
<rect x="955.41" y="1324.53" width="12.03" height="50.39" fill="#7cabd0"/>
<rect x="967.13" y="1324.53" width="23.75" height="50.39" fill="#8fbdda"/>
<rect x="990.58" y="1324.53" width="23.75" height="50.39" fill="#7cabd0"/>
<rect x="1014.03" y="1324.53" width="23.75" height="50.39" fill="#8ab8d7"/>
<rect x="1037.48" y="1324.53" width="12.03" height="50.39" fill="#85b4d5"/>
<rect x="1049.21" y="1324.53" width="12.03" height="50.39" fill="#78a6ce"/>
<rect x="1060.93" y="1324.53" width="12.03" height="50.39" fill="#81afd3"/>
<rect x="1072.66" y="1324.53" width="12.03" height="50.39" fill="#93c1dc"/>
<rect x="1084.38" y="1324.53" width="12.03" height="50.39" fill="#98c4de"/>
<rect x="1096.11" y="1324.53" width="12.03" height="50.39" fill="#93c1dc"/>
<rect x="1107.84" y="1324.53" width="12.03" height="50.39" fill="#85b4d5"/>
<rect x="1119.56" y="1324.53" width="12.03" height="50.39" fill="#8fbdda"/>
<rect x="1131.29" y="1324.53" width="12.03" height="50.39" fill="#93c1dc"/>
<rect x="1143.01" y="1324.53" width="12.03" height="50.39" fill="#98c4de"/>
<rect x="1154.74" y="1324.53" width="23.75" height="50.39" fill="#93c1dc"/>
<rect x="1178.19" y="1324.53" width="12.03" height="50.39" fill="#8fbdda"/>
<rect x="1189.91" y="1324.53" width="12.03" height="50.39" fill="#8ab8d7"/>
<rect x="1201.64" y="1324.53" width="12.03" height="50.39" fill="#93c1dc"/>
<rect x="1213.36" y="1324.53" width="12.03" height="50.39" fill="#8ab8d7"/>
<rect x="1225.09" y="1324.53" width="12.03" height="50.39" fill="#7cabd0"/>
<rect x="1236.82" y="1324.53" width="12.03" height="50.39" fill="#98c4de"/>
<rect x="1248.54" y="1324.53" width="23.75" height="50.39" fill="#7cabd0"/>
<rect x="1271.99" y="1324.53" width="12.03" height="50.39" fill="#81afd3"/>
<rect x="1283.72" y="1324.53" width="12.03" height="50.39" fill="#8fbdda"/>
<rect x="1295.44" y="1324.53" width="12.03" height="50.39" fill="#9dc7df"/>
<rect x="1307.17" y="1324.53" width="12.03" height="50.39" fill="#81afd3"/>
<rect x="1318.89" y="1324.53" width="12.03" height="50.39" fill="#7cabd0"/>
<rect x="1330.62" y="1324.53" width="12.03" height="50.39" fill="#5c8bc0"/>
<rect x="1342.34" y="1324.53" width="12.03" height="50.39" fill="#78a6ce"/>
<rect x="1354.07" y="1324.53" width="12.03" height="50.39" fill="#7cabd0"/>
<rect x="1365.79" y="1324.53" width="12.03" height="50.39" fill="#6e9dc9"/>
<rect x="1377.52" y="1324.53" width="12.03" height="50.39" fill="#8ab8d7"/>
<rect x="1389.25" y="1324.53" width="12.03" height="50.39" fill="#7cabd0"/>
<rect x="1400.97" y="1324.53" width="12.03" height="50.39" fill="#8ab8d7"/>
<rect x="1412.7" y="1324.53" width="12.03" height="50.39" fill="#93c1dc"/>
<rect x="1424.42" y="1324.53" width="23.75" height="50.39" fill="#7cabd0"/>
<rect x="1447.87" y="1324.53" width="12.03" height="50.39" fill="#4a79b6"/>
<rect x="1459.6" y="1324.53" width="12.03" height="50.39" fill="#8ab8d7"/>
<rect x="1471.32" y="1324.53" width="12.03" height="50.39" fill="#73a2cc"/>
<rect x="1483.05" y="1324.53" width="12.03" height="50.39" fill="#8ab8d7"/>
<rect x="1494.77" y="1324.53" width="12.03" height="50.39" fill="#7cabd0"/>
<rect x="122.9" y="1374.62" width="12.03" height="50.39" fill="#cde6f1"/>
<rect x="134.63" y="1374.62" width="12.03" height="50.39" fill="#dbf0f6"/>
<rect x="146.35" y="1374.62" width="12.03" height="50.39" fill="#c3e0ed"/>
<rect x="158.08" y="1374.62" width="12.03" height="50.39" fill="#dbf0f6"/>
<rect x="169.8" y="1374.62" width="12.03" height="50.39" fill="#cde6f1"/>
<rect x="181.53" y="1374.62" width="12.03" height="50.39" fill="#d2eaf3"/>
<rect x="193.25" y="1374.62" width="12.03" height="50.39" fill="#e9f7e7"/>
<rect x="204.98" y="1374.62" width="23.75" height="50.39" fill="#dbf0f6"/>
<rect x="228.43" y="1374.62" width="12.03" height="50.39" fill="#e2f4f5"/>
<rect x="240.15" y="1374.62" width="12.03" height="50.39" fill="#e0f3f8"/>
<rect x="251.88" y="1374.62" width="12.03" height="50.39" fill="#d2eaf3"/>
<rect x="263.61" y="1374.62" width="12.03" height="50.39" fill="#d6edf4"/>
<rect x="275.33" y="1374.62" width="12.03" height="50.39" fill="#c3e0ed"/>
<rect x="287.06" y="1374.62" width="12.03" height="50.39" fill="#e4f4f1"/>
<rect x="298.78" y="1374.62" width="12.03" height="50.39" fill="#badaea"/>
<rect x="310.51" y="1374.62" width="12.03" height="50.39" fill="#dbf0f6"/>
<rect x="322.23" y="1374.62" width="12.03" height="50.39" fill="#d6edf4"/>
<rect x="333.96" y="1374.62" width="12.03" height="50.39" fill="#d2eaf3"/>
<rect x="345.68" y="1374.62" width="23.75" height="50.39" fill="#e2f4f5"/>
<rect x="369.13" y="1374.62" width="12.03" height="50.39" fill="#d6edf4"/>
<rect x="380.86" y="1374.62" width="12.03" height="50.39" fill="#e0f3f8"/>
<rect x="392.58" y="1374.62" width="12.03" height="50.39" fill="#badaea"/>
<rect x="404.31" y="1374.62" width="12.03" height="50.39" fill="#d2eaf3"/>
<rect x="416.04" y="1374.62" width="12.03" height="50.39" fill="#e4f4f1"/>
<rect x="427.76" y="1374.62" width="35.48" height="50.39" fill="#d2eaf3"/>
<rect x="462.94" y="1374.62" width="12.03" height="50.39" fill="#cde6f1"/>
<rect x="474.66" y="1374.62" width="12.03" height="50.39" fill="#e0f3f8"/>
<rect x="486.39" y="1374.62" width="47.2" height="50.39" fill="#dbf0f6"/>
<rect x="533.29" y="1374.62" width="23.75" height="50.39" fill="#d2eaf3"/>
<rect x="556.74" y="1374.62" width="12.03" height="50.39" fill="#e2f4f5"/>
<rect x="568.47" y="1374.62" width="23.75" height="50.39" fill="#d6edf4"/>
<rect x="591.92" y="1374.62" width="12.03" height="50.39" fill="#d2eaf3"/>
<rect x="603.64" y="1374.62" width="12.03" height="50.39" fill="#e0f3f8"/>
<rect x="615.37" y="1374.62" width="12.03" height="50.39" fill="#e6f5ee"/>
<rect x="627.09" y="1374.62" width="12.03" height="50.39" fill="#dbf0f6"/>
<rect x="638.82" y="1374.62" width="12.03" height="50.39" fill="#e6f5ee"/>
<rect x="650.54" y="1374.62" width="12.03" height="50.39" fill="#e2f4f5"/>
<rect x="662.27" y="1374.62" width="12.03" height="50.39" fill="#e4f4f1"/>
<rect x="673.99" y="1374.62" width="12.03" height="50.39" fill="#e6f5ee"/>
<rect x="685.72" y="1374.62" width="12.03" height="50.39" fill="#e9f7e7"/>
<rect x="697.45" y="1374.62" width="12.03" height="50.39" fill="#e6f5ee"/>
<rect x="709.17" y="1374.62" width="12.03" height="50.39" fill="#d6edf4"/>
<rect x="720.9" y="1374.62" width="12.03" height="50.39" fill="#e0f3f8"/>
<rect x="732.62" y="1374.62" width="12.03" height="50.39" fill="#e2f4f5"/>
<rect x="744.35" y="1374.62" width="12.03" height="50.39" fill="#e0f3f8"/>
<rect x="756.07" y="1374.62" width="23.75" height="50.39" fill="#dbf0f6"/>
<rect x="779.52" y="1374.62" width="12.03" height="50.39" fill="#e8f6ea"/>
<rect x="791.25" y="1374.62" width="12.03" height="50.39" fill="#e4f4f1"/>
<rect x="802.97" y="1374.62" width="23.75" height="50.39" fill="#e0f3f8"/>
<rect x="826.43" y="1374.62" width="12.03" height="50.39" fill="#e4f4f1"/>
<rect x="838.15" y="1374.62" width="12.03" height="50.39" fill="#d6edf4"/>
<rect x="849.88" y="1374.62" width="12.03" height="50.39" fill="#badaea"/>
<rect x="861.6" y="1374.62" width="12.03" height="50.39" fill="#d6edf4"/>
<rect x="873.33" y="1374.62" width="12.03" height="50.39" fill="#e6f5ee"/>
<rect x="885.05" y="1374.62" width="12.03" height="50.39" fill="#e2f4f5"/>
<rect x="896.78" y="1374.62" width="12.03" height="50.39" fill="#e4f4f1"/>
<rect x="908.5" y="1374.62" width="35.48" height="50.39" fill="#e8f6ea"/>
<rect x="943.68" y="1374.62" width="12.03" height="50.39" fill="#e4f4f1"/>
<rect x="955.41" y="1374.62" width="12.03" height="50.39" fill="#e6f5ee"/>
<rect x="967.13" y="1374.62" width="12.03" height="50.39" fill="#e8f6ea"/>
<rect x="978.86" y="1374.62" width="12.03" height="50.39" fill="#ebf7e3"/>
<rect x="990.58" y="1374.62" width="12.03" height="50.39" fill="#e4f4f1"/>
<rect x="1002.31" y="1374.62" width="12.03" height="50.39" fill="#e8f6ea"/>
<rect x="1014.03" y="1374.62" width="12.03" height="50.39" fill="#e2f4f5"/>
<rect x="1025.76" y="1374.62" width="12.03" height="50.39" fill="#badaea"/>
<rect x="1037.48" y="1374.62" width="12.03" height="50.39" fill="#d2eaf3"/>
<rect x="1049.21" y="1374.62" width="12.03" height="50.39" fill="#e2f4f5"/>
<rect x="1060.93" y="1374.62" width="12.03" height="50.39" fill="#c8e3ef"/>
<rect x="1072.66" y="1374.62" width="23.75" height="50.39" fill="#d2eaf3"/>
<rect x="1096.11" y="1374.62" width="12.03" height="50.39" fill="#e0f3f8"/>
<rect x="1107.84" y="1374.62" width="12.03" height="50.39" fill="#d2eaf3"/>
<rect x="1119.56" y="1374.62" width="12.03" height="50.39" fill="#e0f3f8"/>
<rect x="1131.29" y="1374.62" width="12.03" height="50.39" fill="#dbf0f6"/>
<rect x="1143.01" y="1374.62" width="12.03" height="50.39" fill="#e0f3f8"/>
<rect x="1154.74" y="1374.62" width="12.03" height="50.39" fill="#cde6f1"/>
<rect x="1166.46" y="1374.62" width="12.03" height="50.39" fill="#dbf0f6"/>
<rect x="1178.19" y="1374.62" width="12.03" height="50.39" fill="#e0f3f8"/>
<rect x="1189.91" y="1374.62" width="12.03" height="50.39" fill="#e6f5ee"/>
<rect x="1201.64" y="1374.62" width="35.48" height="50.39" fill="#e4f4f1"/>
<rect x="1236.82" y="1374.62" width="12.03" height="50.39" fill="#e8f6ea"/>
<rect x="1248.54" y="1374.62" width="23.75" height="50.39" fill="#e4f4f1"/>
<rect x="1271.99" y="1374.62" width="35.48" height="50.39" fill="#e0f3f8"/>
<rect x="1307.17" y="1374.62" width="12.03" height="50.39" fill="#f1fad9"/>
<rect x="1318.89" y="1374.62" width="23.75" height="50.39" fill="#e6f5ee"/>
<rect x="1342.34" y="1374.62" width="12.03" height="50.39" fill="#e0f3f8"/>
<rect x="1354.07" y="1374.62" width="12.03" height="50.39" fill="#e6f5ee"/>
<rect x="1365.79" y="1374.62" width="12.03" height="50.39" fill="#e0f3f8"/>
<rect x="1377.52" y="1374.62" width="12.03" height="50.39" fill="#b5d7e8"/>
<rect x="1389.25" y="1374.62" width="12.03" height="50.39" fill="#e8f6ea"/>
<rect x="1400.97" y="1374.62" width="12.03" height="50.39" fill="#e0f3f8"/>
<rect x="1412.7" y="1374.62" width="12.03" height="50.39" fill="#c8e3ef"/>
<rect x="1424.42" y="1374.62" width="12.03" height="50.39" fill="#e2f4f5"/>
<rect x="1436.15" y="1374.62" width="12.03" height="50.39" fill="#e8f6ea"/>
<rect x="1447.87" y="1374.62" width="12.03" height="50.39" fill="#ebf7e3"/>
<rect x="1459.6" y="1374.62" width="12.03" height="50.39" fill="#e2f4f5"/>
<rect x="1471.32" y="1374.62" width="12.03" height="50.39" fill="#e4f4f1"/>
<rect x="1483.05" y="1374.62" width="23.75" height="50.39" fill="#dbf0f6"/>
<rect x="122.9" y="1424.71" width="12.03" height="50.39" fill="#d2eaf3"/>
<rect x="134.63" y="1424.71" width="12.03" height="50.39" fill="#c8e3ef"/>
<rect x="146.35" y="1424.71" width="12.03" height="50.39" fill="#cde6f1"/>
<rect x="158.08" y="1424.71" width="12.03" height="50.39" fill="#d2eaf3"/>
<rect x="169.8" y="1424.71" width="12.03" height="50.39" fill="#cde6f1"/>
<rect x="181.53" y="1424.71" width="12.03" height="50.39" fill="#c8e3ef"/>
<rect x="193.25" y="1424.71" width="12.03" height="50.39" fill="#e0f3f8"/>
<rect x="204.98" y="1424.71" width="12.03" height="50.39" fill="#beddec"/>
<rect x="216.7" y="1424.71" width="12.03" height="50.39" fill="#cde6f1"/>
<rect x="228.43" y="1424.71" width="35.48" height="50.39" fill="#d2eaf3"/>
<rect x="263.61" y="1424.71" width="12.03" height="50.39" fill="#cde6f1"/>
<rect x="275.33" y="1424.71" width="12.03" height="50.39" fill="#d6edf4"/>
<rect x="287.06" y="1424.71" width="12.03" height="50.39" fill="#dbf0f6"/>
<rect x="298.78" y="1424.71" width="12.03" height="50.39" fill="#cde6f1"/>
<rect x="310.51" y="1424.71" width="12.03" height="50.39" fill="#c8e3ef"/>
<rect x="322.23" y="1424.71" width="12.03" height="50.39" fill="#d2eaf3"/>
<rect x="333.96" y="1424.71" width="23.75" height="50.39" fill="#cde6f1"/>
<rect x="357.41" y="1424.71" width="12.03" height="50.39" fill="#beddec"/>
<rect x="369.13" y="1424.71" width="12.03" height="50.39" fill="#d2eaf3"/>
<rect x="380.86" y="1424.71" width="12.03" height="50.39" fill="#d6edf4"/>
<rect x="392.58" y="1424.71" width="12.03" height="50.39" fill="#d2eaf3"/>
<rect x="404.31" y="1424.71" width="12.03" height="50.39" fill="#d6edf4"/>
<rect x="416.04" y="1424.71" width="47.2" height="50.39" fill="#d2eaf3"/>
<rect x="462.94" y="1424.71" width="23.75" height="50.39" fill="#d6edf4"/>
<rect x="486.39" y="1424.71" width="12.03" height="50.39" fill="#cde6f1"/>
<rect x="498.11" y="1424.71" width="23.75" height="50.39" fill="#d2eaf3"/>
<rect x="521.56" y="1424.71" width="12.03" height="50.39" fill="#cde6f1"/>
<rect x="533.29" y="1424.71" width="12.03" height="50.39" fill="#d2eaf3"/>
<rect x="545.02" y="1424.71" width="23.75" height="50.39" fill="#c8e3ef"/>
<rect x="568.47" y="1424.71" width="12.03" height="50.39" fill="#d2eaf3"/>
<rect x="580.19" y="1424.71" width="12.03" height="50.39" fill="#cde6f1"/>
<rect x="591.92" y="1424.71" width="12.03" height="50.39" fill="#d2eaf3"/>
<rect x="603.64" y="1424.71" width="12.03" height="50.39" fill="#c8e3ef"/>
<rect x="615.37" y="1424.71" width="23.75" height="50.39" fill="#dbf0f6"/>
<rect x="638.82" y="1424.71" width="12.03" height="50.39" fill="#beddec"/>
<rect x="650.54" y="1424.71" width="12.03" height="50.39" fill="#c3e0ed"/>
<rect x="662.27" y="1424.71" width="12.03" height="50.39" fill="#d2eaf3"/>
<rect x="673.99" y="1424.71" width="12.03" height="50.39" fill="#cde6f1"/>
<rect x="685.72" y="1424.71" width="23.75" height="50.39" fill="#d6edf4"/>
<rect x="709.17" y="1424.71" width="12.03" height="50.39" fill="#c8e3ef"/>
<rect x="720.9" y="1424.71" width="23.75" height="50.39" fill="#d2eaf3"/>
<rect x="744.35" y="1424.71" width="12.03" height="50.39" fill="#dbf0f6"/>
<rect x="756.07" y="1424.71" width="12.03" height="50.39" fill="#d6edf4"/>
<rect x="767.8" y="1424.71" width="12.03" height="50.39" fill="#cde6f1"/>
<rect x="779.52" y="1424.71" width="12.03" height="50.39" fill="#d2eaf3"/>
<rect x="791.25" y="1424.71" width="12.03" height="50.39" fill="#d6edf4"/>
<rect x="802.97" y="1424.71" width="12.03" height="50.39" fill="#dbf0f6"/>
<rect x="814.7" y="1424.71" width="12.03" height="50.39" fill="#cde6f1"/>
<rect x="826.43" y="1424.71" width="12.03" height="50.39" fill="#c8e3ef"/>
<rect x="838.15" y="1424.71" width="12.03" height="50.39" fill="#d6edf4"/>
<rect x="849.88" y="1424.71" width="12.03" height="50.39" fill="#dbf0f6"/>
<rect x="861.6" y="1424.71" width="12.03" height="50.39" fill="#cde6f1"/>
<rect x="873.33" y="1424.71" width="12.03" height="50.39" fill="#d2eaf3"/>
<rect x="885.05" y="1424.71" width="12.03" height="50.39" fill="#dbf0f6"/>
<rect x="896.78" y="1424.71" width="12.03" height="50.39" fill="#d2eaf3"/>
<rect x="908.5" y="1424.71" width="12.03" height="50.39" fill="#cde6f1"/>
<rect x="920.23" y="1424.71" width="12.03" height="50.39" fill="#d6edf4"/>
<rect x="931.95" y="1424.71" width="12.03" height="50.39" fill="#c8e3ef"/>
<rect x="943.68" y="1424.71" width="12.03" height="50.39" fill="#d6edf4"/>
<rect x="955.41" y="1424.71" width="35.48" height="50.39" fill="#d2eaf3"/>
<rect x="990.58" y="1424.71" width="12.03" height="50.39" fill="#d6edf4"/>
<rect x="1002.31" y="1424.71" width="12.03" height="50.39" fill="#d2eaf3"/>
<rect x="1014.03" y="1424.71" width="12.03" height="50.39" fill="#d6edf4"/>
<rect x="1025.76" y="1424.71" width="35.48" height="50.39" fill="#d2eaf3"/>
<rect x="1060.93" y="1424.71" width="12.03" height="50.39" fill="#c8e3ef"/>
<rect x="1072.66" y="1424.71" width="12.03" height="50.39" fill="#d2eaf3"/>
<rect x="1084.38" y="1424.71" width="12.03" height="50.39" fill="#cde6f1"/>
<rect x="1096.11" y="1424.71" width="12.03" height="50.39" fill="#c8e3ef"/>
<rect x="1107.84" y="1424.71" width="12.03" height="50.39" fill="#dbf0f6"/>
<rect x="1119.56" y="1424.71" width="23.75" height="50.39" fill="#cde6f1"/>
<rect x="1143.01" y="1424.71" width="12.03" height="50.39" fill="#d2eaf3"/>
<rect x="1154.74" y="1424.71" width="12.03" height="50.39" fill="#dbf0f6"/>
<rect x="1166.46" y="1424.71" width="12.03" height="50.39" fill="#d2eaf3"/>
<rect x="1178.19" y="1424.71" width="12.03" height="50.39" fill="#d6edf4"/>
<rect x="1189.91" y="1424.71" width="12.03" height="50.39" fill="#b5d7e8"/>
<rect x="1201.64" y="1424.71" width="12.03" height="50.39" fill="#d2eaf3"/>
<rect x="1213.36" y="1424.71" width="12.03" height="50.39" fill="#dbf0f6"/>
<rect x="1225.09" y="1424.71" width="12.03" height="50.39" fill="#d6edf4"/>
<rect x="1236.82" y="1424.71" width="12.03" height="50.39" fill="#d2eaf3"/>
<rect x="1248.54" y="1424.71" width="12.03" height="50.39" fill="#d6edf4"/>
<rect x="1260.27" y="1424.71" width="23.75" height="50.39" fill="#cde6f1"/>
<rect x="1283.72" y="1424.71" width="23.75" height="50.39" fill="#d2eaf3"/>
<rect x="1307.17" y="1424.71" width="12.03" height="50.39" fill="#e0f3f8"/>
<rect x="1318.89" y="1424.71" width="12.03" height="50.39" fill="#dbf0f6"/>
<rect x="1330.62" y="1424.71" width="12.03" height="50.39" fill="#d2eaf3"/>
<rect x="1342.34" y="1424.71" width="35.48" height="50.39" fill="#c8e3ef"/>
<rect x="1377.52" y="1424.71" width="23.75" height="50.39" fill="#dbf0f6"/>
<rect x="1400.97" y="1424.71" width="12.03" height="50.39" fill="#d2eaf3"/>
<rect x="1412.7" y="1424.71" width="23.75" height="50.39" fill="#dbf0f6"/>
<rect x="1436.15" y="1424.71" width="12.03" height="50.39" fill="#d2eaf3"/>
<rect x="1447.87" y="1424.71" width="12.03" height="50.39" fill="#dbf0f6"/>
<rect x="1459.6" y="1424.71" width="12.03" height="50.39" fill="#d2eaf3"/>
<rect x="1471.32" y="1424.71" width="12.03" height="50.39" fill="#beddec"/>
<rect x="1483.05" y="1424.71" width="12.03" height="50.39" fill="#c3e0ed"/>
<rect x="1494.77" y="1424.71" width="12.03" height="50.39" fill="#c8e3ef"/>
<rect x="122.9" y="1474.8" width="12.03" height="50.39" fill="#f5fbd2"/>
<rect x="134.63" y="1474.8" width="12.03" height="50.39" fill="#fcfec4"/>
<rect x="146.35" y="1474.8" width="12.03" height="50.39" fill="#f1fad9"/>
<rect x="158.08" y="1474.8" width="12.03" height="50.39" fill="#f3fad5"/>
<rect x="169.8" y="1474.8" width="12.03" height="50.39" fill="#f7fccf"/>
<rect x="181.53" y="1474.8" width="12.03" height="50.39" fill="#f1fad9"/>
<rect x="193.25" y="1474.8" width="12.03" height="50.39" fill="#fcfec4"/>
<rect x="204.98" y="1474.8" width="12.03" height="50.39" fill="#e6f5ee"/>
<rect x="216.7" y="1474.8" width="12.03" height="50.39" fill="#e4f4f1"/>
<rect x="228.43" y="1474.8" width="12.03" height="50.39" fill="#e6f5ee"/>
<rect x="240.15" y="1474.8" width="12.03" height="50.39" fill="#e9f7e7"/>
<rect x="251.88" y="1474.8" width="12.03" height="50.39" fill="#fafdc8"/>
<rect x="263.61" y="1474.8" width="23.75" height="50.39" fill="#f1fad9"/>
<rect x="287.06" y="1474.8" width="12.03" height="50.39" fill="#f3fad5"/>
<rect x="298.78" y="1474.8" width="12.03" height="50.39" fill="#f8fccb"/>
<rect x="310.51" y="1474.8" width="12.03" height="50.39" fill="#ebf7e3"/>
<rect x="322.23" y="1474.8" width="12.03" height="50.39" fill="#e4f4f1"/>
<rect x="333.96" y="1474.8" width="12.03" height="50.39" fill="#feffc1"/>
<rect x="345.68" y="1474.8" width="12.03" height="50.39" fill="#f1fad9"/>
<rect x="357.41" y="1474.8" width="12.03" height="50.39" fill="#f3fad5"/>
<rect x="369.13" y="1474.8" width="12.03" height="50.39" fill="#f1fad9"/>
<rect x="380.86" y="1474.8" width="23.75" height="50.39" fill="#eff9dc"/>
<rect x="404.31" y="1474.8" width="12.03" height="50.39" fill="#f1fad9"/>
<rect x="416.04" y="1474.8" width="12.03" height="50.39" fill="#eff9dc"/>
<rect x="427.76" y="1474.8" width="23.75" height="50.39" fill="#f1fad9"/>
<rect x="451.21" y="1474.8" width="23.75" height="50.39" fill="#ebf7e3"/>
<rect x="474.66" y="1474.8" width="12.03" height="50.39" fill="#eff9dc"/>
<rect x="486.39" y="1474.8" width="12.03" height="50.39" fill="#edf8e0"/>
<rect x="498.11" y="1474.8" width="12.03" height="50.39" fill="#eff9dc"/>
<rect x="509.84" y="1474.8" width="12.03" height="50.39" fill="#edf8e0"/>
<rect x="521.56" y="1474.8" width="12.03" height="50.39" fill="#eff9dc"/>
<rect x="533.29" y="1474.8" width="12.03" height="50.39" fill="#edf8e0"/>
<rect x="545.02" y="1474.8" width="12.03" height="50.39" fill="#f1fad9"/>
<rect x="556.74" y="1474.8" width="12.03" height="50.39" fill="#ebf7e3"/>
<rect x="568.47" y="1474.8" width="12.03" height="50.39" fill="#f1fad9"/>
<rect x="580.19" y="1474.8" width="12.03" height="50.39" fill="#fcfec4"/>
<rect x="591.92" y="1474.8" width="12.03" height="50.39" fill="#f1fad9"/>
<rect x="603.64" y="1474.8" width="12.03" height="50.39" fill="#f7fccf"/>
<rect x="615.37" y="1474.8" width="12.03" height="50.39" fill="#eff9dc"/>
<rect x="627.09" y="1474.8" width="12.03" height="50.39" fill="#fffebe"/>
<rect x="638.82" y="1474.8" width="12.03" height="50.39" fill="#edf8e0"/>
<rect x="650.54" y="1474.8" width="23.75" height="50.39" fill="#eff9dc"/>
<rect x="673.99" y="1474.8" width="12.03" height="50.39" fill="#edf8e0"/>
<rect x="685.72" y="1474.8" width="12.03" height="50.39" fill="#e9f7e7"/>
<rect x="697.45" y="1474.8" width="12.03" height="50.39" fill="#edf8e0"/>
<rect x="709.17" y="1474.8" width="12.03" height="50.39" fill="#f1fad9"/>
<rect x="720.9" y="1474.8" width="23.75" height="50.39" fill="#edf8e0"/>
<rect x="744.35" y="1474.8" width="12.03" height="50.39" fill="#f8fccb"/>
<rect x="756.07" y="1474.8" width="12.03" height="50.39" fill="#eff9dc"/>
<rect x="767.8" y="1474.8" width="12.03" height="50.39" fill="#f1fad9"/>
<rect x="779.52" y="1474.8" width="12.03" height="50.39" fill="#f7fccf"/>
<rect x="791.25" y="1474.8" width="12.03" height="50.39" fill="#edf8e0"/>
<rect x="802.97" y="1474.8" width="12.03" height="50.39" fill="#f8fccb"/>
<rect x="814.7" y="1474.8" width="12.03" height="50.39" fill="#f3fad5"/>
<rect x="826.43" y="1474.8" width="12.03" height="50.39" fill="#f1fad9"/>
<rect x="838.15" y="1474.8" width="12.03" height="50.39" fill="#f7fccf"/>
<rect x="849.88" y="1474.8" width="12.03" height="50.39" fill="#fafdc8"/>
<rect x="861.6" y="1474.8" width="12.03" height="50.39" fill="#f8fccb"/>
<rect x="873.33" y="1474.8" width="12.03" height="50.39" fill="#e9f7e7"/>
<rect x="885.05" y="1474.8" width="12.03" height="50.39" fill="#f5fbd2"/>
<rect x="896.78" y="1474.8" width="35.48" height="50.39" fill="#ebf7e3"/>
<rect x="931.95" y="1474.8" width="12.03" height="50.39" fill="#e2f4f5"/>
<rect x="943.68" y="1474.8" width="12.03" height="50.39" fill="#e9f7e7"/>
<rect x="955.41" y="1474.8" width="23.75" height="50.39" fill="#ebf7e3"/>
<rect x="978.86" y="1474.8" width="12.03" height="50.39" fill="#e9f7e7"/>
<rect x="990.58" y="1474.8" width="12.03" height="50.39" fill="#e8f6ea"/>
<rect x="1002.31" y="1474.8" width="23.75" height="50.39" fill="#edf8e0"/>
<rect x="1025.76" y="1474.8" width="12.03" height="50.39" fill="#ebf7e3"/>
<rect x="1037.48" y="1474.8" width="12.03" height="50.39" fill="#edf8e0"/>
<rect x="1049.21" y="1474.8" width="12.03" height="50.39" fill="#e4f4f1"/>
<rect x="1060.93" y="1474.8" width="12.03" height="50.39" fill="#f1fad9"/>
<rect x="1072.66" y="1474.8" width="23.75" height="50.39" fill="#ebf7e3"/>
<rect x="1096.11" y="1474.8" width="12.03" height="50.39" fill="#e9f7e7"/>
<rect x="1107.84" y="1474.8" width="12.03" height="50.39" fill="#edf8e0"/>
<rect x="1119.56" y="1474.8" width="12.03" height="50.39" fill="#ebf7e3"/>
<rect x="1131.29" y="1474.8" width="12.03" height="50.39" fill="#f1fad9"/>
<rect x="1143.01" y="1474.8" width="23.75" height="50.39" fill="#ebf7e3"/>
<rect x="1166.46" y="1474.8" width="12.03" height="50.39" fill="#edf8e0"/>
<rect x="1178.19" y="1474.8" width="12.03" height="50.39" fill="#eff9dc"/>
<rect x="1189.91" y="1474.8" width="12.03" height="50.39" fill="#e9f7e7"/>
<rect x="1201.64" y="1474.8" width="12.03" height="50.39" fill="#ebf7e3"/>
<rect x="1213.36" y="1474.8" width="12.03" height="50.39" fill="#edf8e0"/>
<rect x="1225.09" y="1474.8" width="12.03" height="50.39" fill="#e9f7e7"/>
<rect x="1236.82" y="1474.8" width="12.03" height="50.39" fill="#eff9dc"/>
<rect x="1248.54" y="1474.8" width="12.03" height="50.39" fill="#e9f7e7"/>
<rect x="1260.27" y="1474.8" width="12.03" height="50.39" fill="#e8f6ea"/>
<rect x="1271.99" y="1474.8" width="12.03" height="50.39" fill="#ebf7e3"/>
<rect x="1283.72" y="1474.8" width="12.03" height="50.39" fill="#e9f7e7"/>
<rect x="1295.44" y="1474.8" width="23.75" height="50.39" fill="#edf8e0"/>
<rect x="1318.89" y="1474.8" width="12.03" height="50.39" fill="#eff9dc"/>
<rect x="1330.62" y="1474.8" width="12.03" height="50.39" fill="#e6f5ee"/>
<rect x="1342.34" y="1474.8" width="12.03" height="50.39" fill="#edf8e0"/>
<rect x="1354.07" y="1474.8" width="12.03" height="50.39" fill="#e6f5ee"/>
<rect x="1365.79" y="1474.8" width="12.03" height="50.39" fill="#ebf7e3"/>
<rect x="1377.52" y="1474.8" width="23.75" height="50.39" fill="#e9f7e7"/>
<rect x="1400.97" y="1474.8" width="23.75" height="50.39" fill="#f7fccf"/>
<rect x="1424.42" y="1474.8" width="12.03" height="50.39" fill="#f8fccb"/>
<rect x="1436.15" y="1474.8" width="12.03" height="50.39" fill="#d6edf4"/>
<rect x="1447.87" y="1474.8" width="23.75" height="50.39" fill="#dbf0f6"/>
<rect x="1471.32" y="1474.8" width="12.03" height="50.39" fill="#f1fad9"/>
<rect x="1483.05" y="1474.8" width="12.03" height="50.39" fill="#eff9dc"/>
<rect x="1494.77" y="1474.8" width="12.03" height="50.39" fill="#e6f5ee"/>
<rect x="122.9" y="1524.89" width="12.03" height="50.39" fill="#dbf0f6"/>
<rect x="134.63" y="1524.89" width="12.03" height="50.39" fill="#e4f4f1"/>
<rect x="146.35" y="1524.89" width="12.03" height="50.39" fill="#eff9dc"/>
<rect x="158.08" y="1524.89" width="12.03" height="50.39" fill="#edf8e0"/>
<rect x="169.8" y="1524.89" width="12.03" height="50.39" fill="#eff9dc"/>
<rect x="181.53" y="1524.89" width="12.03" height="50.39" fill="#e8f6ea"/>
<rect x="193.25" y="1524.89" width="12.03" height="50.39" fill="#fafdc8"/>
<rect x="204.98" y="1524.89" width="12.03" height="50.39" fill="#f1fad9"/>
<rect x="216.7" y="1524.89" width="12.03" height="50.39" fill="#eff9dc"/>
<rect x="228.43" y="1524.89" width="12.03" height="50.39" fill="#edf8e0"/>
<rect x="240.15" y="1524.89" width="12.03" height="50.39" fill="#eff9dc"/>
<rect x="251.88" y="1524.89" width="12.03" height="50.39" fill="#e2f4f5"/>
<rect x="263.61" y="1524.89" width="12.03" height="50.39" fill="#eff9dc"/>
<rect x="275.33" y="1524.89" width="12.03" height="50.39" fill="#e4f4f1"/>
<rect x="287.06" y="1524.89" width="23.75" height="50.39" fill="#f5fbd2"/>
<rect x="310.51" y="1524.89" width="12.03" height="50.39" fill="#e8f6ea"/>
<rect x="322.23" y="1524.89" width="12.03" height="50.39" fill="#e4f4f1"/>
<rect x="333.96" y="1524.89" width="12.03" height="50.39" fill="#ebf7e3"/>
<rect x="345.68" y="1524.89" width="12.03" height="50.39" fill="#fafdc8"/>
<rect x="357.41" y="1524.89" width="12.03" height="50.39" fill="#f7fccf"/>
<rect x="369.13" y="1524.89" width="12.03" height="50.39" fill="#ebf7e3"/>
<rect x="380.86" y="1524.89" width="12.03" height="50.39" fill="#edf8e0"/>
<rect x="392.58" y="1524.89" width="12.03" height="50.39" fill="#f8fccb"/>
<rect x="404.31" y="1524.89" width="12.03" height="50.39" fill="#f1fad9"/>
<rect x="416.04" y="1524.89" width="12.03" height="50.39" fill="#e4f4f1"/>
<rect x="427.76" y="1524.89" width="12.03" height="50.39" fill="#eff9dc"/>
<rect x="439.49" y="1524.89" width="23.75" height="50.39" fill="#f1fad9"/>
<rect x="462.94" y="1524.89" width="12.03" height="50.39" fill="#e9f7e7"/>
<rect x="474.66" y="1524.89" width="12.03" height="50.39" fill="#f3fad5"/>
<rect x="486.39" y="1524.89" width="12.03" height="50.39" fill="#f1fad9"/>
<rect x="498.11" y="1524.89" width="12.03" height="50.39" fill="#edf8e0"/>
<rect x="509.84" y="1524.89" width="12.03" height="50.39" fill="#f7fccf"/>
<rect x="521.56" y="1524.89" width="12.03" height="50.39" fill="#eff9dc"/>
<rect x="533.29" y="1524.89" width="23.75" height="50.39" fill="#f1fad9"/>
<rect x="556.74" y="1524.89" width="12.03" height="50.39" fill="#edf8e0"/>
<rect x="568.47" y="1524.89" width="12.03" height="50.39" fill="#f1fad9"/>
<rect x="580.19" y="1524.89" width="12.03" height="50.39" fill="#eff9dc"/>
<rect x="591.92" y="1524.89" width="12.03" height="50.39" fill="#f1fad9"/>
<rect x="603.64" y="1524.89" width="12.03" height="50.39" fill="#f3fad5"/>
<rect x="615.37" y="1524.89" width="23.75" height="50.39" fill="#f1fad9"/>
<rect x="638.82" y="1524.89" width="12.03" height="50.39" fill="#e9f7e7"/>
<rect x="650.54" y="1524.89" width="12.03" height="50.39" fill="#eff9dc"/>
<rect x="662.27" y="1524.89" width="12.03" height="50.39" fill="#ebf7e3"/>
<rect x="673.99" y="1524.89" width="12.03" height="50.39" fill="#eff9dc"/>
<rect x="685.72" y="1524.89" width="12.03" height="50.39" fill="#f5fbd2"/>
<rect x="697.45" y="1524.89" width="12.03" height="50.39" fill="#fcfec4"/>
<rect x="709.17" y="1524.89" width="12.03" height="50.39" fill="#eff9dc"/>
<rect x="720.9" y="1524.89" width="12.03" height="50.39" fill="#ebf7e3"/>
<rect x="732.62" y="1524.89" width="12.03" height="50.39" fill="#eff9dc"/>
<rect x="744.35" y="1524.89" width="23.75" height="50.39" fill="#f1fad9"/>
<rect x="767.8" y="1524.89" width="12.03" height="50.39" fill="#eff9dc"/>
<rect x="779.52" y="1524.89" width="12.03" height="50.39" fill="#feffc1"/>
<rect x="791.25" y="1524.89" width="12.03" height="50.39" fill="#f3fad5"/>
<rect x="802.97" y="1524.89" width="12.03" height="50.39" fill="#f1fad9"/>
<rect x="814.7" y="1524.89" width="12.03" height="50.39" fill="#edf8e0"/>
<rect x="826.43" y="1524.89" width="12.03" height="50.39" fill="#e9f7e7"/>
<rect x="838.15" y="1524.89" width="23.75" height="50.39" fill="#f5fbd2"/>
<rect x="861.6" y="1524.89" width="12.03" height="50.39" fill="#edf8e0"/>
<rect x="873.33" y="1524.89" width="12.03" height="50.39" fill="#f7fccf"/>
<rect x="885.05" y="1524.89" width="23.75" height="50.39" fill="#eff9dc"/>
<rect x="908.5" y="1524.89" width="23.75" height="50.39" fill="#edf8e0"/>
<rect x="931.95" y="1524.89" width="23.75" height="50.39" fill="#eff9dc"/>
<rect x="955.41" y="1524.89" width="23.75" height="50.39" fill="#edf8e0"/>
<rect x="978.86" y="1524.89" width="12.03" height="50.39" fill="#f8fccb"/>
<rect x="990.58" y="1524.89" width="12.03" height="50.39" fill="#eff9dc"/>
<rect x="1002.31" y="1524.89" width="12.03" height="50.39" fill="#f7fccf"/>
<rect x="1014.03" y="1524.89" width="12.03" height="50.39" fill="#eff9dc"/>
<rect x="1025.76" y="1524.89" width="23.75" height="50.39" fill="#e9f7e7"/>
<rect x="1049.21" y="1524.89" width="12.03" height="50.39" fill="#eff9dc"/>
<rect x="1060.93" y="1524.89" width="12.03" height="50.39" fill="#e9f7e7"/>
<rect x="1072.66" y="1524.89" width="12.03" height="50.39" fill="#ebf7e3"/>
<rect x="1084.38" y="1524.89" width="12.03" height="50.39" fill="#e9f7e7"/>
<rect x="1096.11" y="1524.89" width="12.03" height="50.39" fill="#eff9dc"/>
<rect x="1107.84" y="1524.89" width="12.03" height="50.39" fill="#ebf7e3"/>
<rect x="1119.56" y="1524.89" width="12.03" height="50.39" fill="#edf8e0"/>
<rect x="1131.29" y="1524.89" width="12.03" height="50.39" fill="#f1fad9"/>
<rect x="1143.01" y="1524.89" width="12.03" height="50.39" fill="#f3fad5"/>
<rect x="1154.74" y="1524.89" width="23.75" height="50.39" fill="#f1fad9"/>
<rect x="1178.19" y="1524.89" width="12.03" height="50.39" fill="#ebf7e3"/>
<rect x="1189.91" y="1524.89" width="12.03" height="50.39" fill="#f5fbd2"/>
<rect x="1201.64" y="1524.89" width="12.03" height="50.39" fill="#edf8e0"/>
<rect x="1213.36" y="1524.89" width="12.03" height="50.39" fill="#f1fad9"/>
<rect x="1225.09" y="1524.89" width="23.75" height="50.39" fill="#f3fad5"/>
<rect x="1248.54" y="1524.89" width="12.03" height="50.39" fill="#e9f7e7"/>
<rect x="1260.27" y="1524.89" width="23.75" height="50.39" fill="#ebf7e3"/>
<rect x="1283.72" y="1524.89" width="12.03" height="50.39" fill="#edf8e0"/>
<rect x="1295.44" y="1524.89" width="12.03" height="50.39" fill="#f1fad9"/>
<rect x="1307.17" y="1524.89" width="12.03" height="50.39" fill="#f7fccf"/>
<rect x="1318.89" y="1524.89" width="12.03" height="50.39" fill="#f8fccb"/>
<rect x="1330.62" y="1524.89" width="12.03" height="50.39" fill="#e8f6ea"/>
<rect x="1342.34" y="1524.89" width="12.03" height="50.39" fill="#edf8e0"/>
<rect x="1354.07" y="1524.89" width="23.75" height="50.39" fill="#eff9dc"/>
<rect x="1377.52" y="1524.89" width="12.03" height="50.39" fill="#ebf7e3"/>
<rect x="1389.25" y="1524.89" width="12.03" height="50.39" fill="#e8f6ea"/>
<rect x="1400.97" y="1524.89" width="12.03" height="50.39" fill="#edf8e0"/>
<rect x="1412.7" y="1524.89" width="12.03" height="50.39" fill="#ebf7e3"/>
<rect x="1424.42" y="1524.89" width="12.03" height="50.39" fill="#f1fad9"/>
<rect x="1436.15" y="1524.89" width="12.03" height="50.39" fill="#e8f6ea"/>
<rect x="1447.87" y="1524.89" width="23.75" height="50.39" fill="#ebf7e3"/>
<rect x="1471.32" y="1524.89" width="12.03" height="50.39" fill="#e8f6ea"/>
<rect x="1483.05" y="1524.89" width="12.03" height="50.39" fill="#e6f5ee"/>
<rect x="1494.77" y="1524.89" width="12.03" height="50.39" fill="#edf8e0"/>
<rect x="122.9" y="1574.98" width="12.03" height="50.39" fill="#e6f5ee"/>
<rect x="134.63" y="1574.98" width="12.03" height="50.39" fill="#e0f3f8"/>
<rect x="146.35" y="1574.98" width="12.03" height="50.39" fill="#e9f7e7"/>
<rect x="158.08" y="1574.98" width="23.75" height="50.39" fill="#e8f6ea"/>
<rect x="181.53" y="1574.98" width="23.75" height="50.39" fill="#e9f7e7"/>
<rect x="204.98" y="1574.98" width="23.75" height="50.39" fill="#e8f6ea"/>
<rect x="228.43" y="1574.98" width="23.75" height="50.39" fill="#e9f7e7"/>
<rect x="251.88" y="1574.98" width="12.03" height="50.39" fill="#e8f6ea"/>
<rect x="263.61" y="1574.98" width="23.75" height="50.39" fill="#e9f7e7"/>
<rect x="287.06" y="1574.98" width="12.03" height="50.39" fill="#ebf7e3"/>
<rect x="298.78" y="1574.98" width="12.03" height="50.39" fill="#e9f7e7"/>
<rect x="310.51" y="1574.98" width="12.03" height="50.39" fill="#e8f6ea"/>
<rect x="322.23" y="1574.98" width="12.03" height="50.39" fill="#e9f7e7"/>
<rect x="333.96" y="1574.98" width="12.03" height="50.39" fill="#ebf7e3"/>
<rect x="345.68" y="1574.98" width="12.03" height="50.39" fill="#e6f5ee"/>
<rect x="357.41" y="1574.98" width="12.03" height="50.39" fill="#e9f7e7"/>
<rect x="369.13" y="1574.98" width="12.03" height="50.39" fill="#f1fad9"/>
<rect x="380.86" y="1574.98" width="12.03" height="50.39" fill="#e9f7e7"/>
<rect x="392.58" y="1574.98" width="12.03" height="50.39" fill="#ebf7e3"/>
<rect x="404.31" y="1574.98" width="12.03" height="50.39" fill="#e9f7e7"/>
<rect x="416.04" y="1574.98" width="12.03" height="50.39" fill="#edf8e0"/>
<rect x="427.76" y="1574.98" width="12.03" height="50.39" fill="#e9f7e7"/>
<rect x="439.49" y="1574.98" width="12.03" height="50.39" fill="#e4f4f1"/>
<rect x="451.21" y="1574.98" width="12.03" height="50.39" fill="#ebf7e3"/>
<rect x="462.94" y="1574.98" width="23.75" height="50.39" fill="#e8f6ea"/>
<rect x="486.39" y="1574.98" width="12.03" height="50.39" fill="#e6f5ee"/>
<rect x="498.11" y="1574.98" width="12.03" height="50.39" fill="#e9f7e7"/>
<rect x="509.84" y="1574.98" width="23.75" height="50.39" fill="#e8f6ea"/>
<rect x="533.29" y="1574.98" width="12.03" height="50.39" fill="#e6f5ee"/>
<rect x="545.02" y="1574.98" width="12.03" height="50.39" fill="#e8f6ea"/>
<rect x="556.74" y="1574.98" width="12.03" height="50.39" fill="#e9f7e7"/>
<rect x="568.47" y="1574.98" width="12.03" height="50.39" fill="#e8f6ea"/>
<rect x="580.19" y="1574.98" width="23.75" height="50.39" fill="#e9f7e7"/>
<rect x="603.64" y="1574.98" width="23.75" height="50.39" fill="#ebf7e3"/>
<rect x="627.09" y="1574.98" width="12.03" height="50.39" fill="#e9f7e7"/>
<rect x="638.82" y="1574.98" width="12.03" height="50.39" fill="#e2f4f5"/>
<rect x="650.54" y="1574.98" width="12.03" height="50.39" fill="#e9f7e7"/>
<rect x="662.27" y="1574.98" width="12.03" height="50.39" fill="#ebf7e3"/>
<rect x="673.99" y="1574.98" width="12.03" height="50.39" fill="#edf8e0"/>
<rect x="685.72" y="1574.98" width="35.48" height="50.39" fill="#ebf7e3"/>
<rect x="720.9" y="1574.98" width="12.03" height="50.39" fill="#e0f3f8"/>
<rect x="732.62" y="1574.98" width="12.03" height="50.39" fill="#e9f7e7"/>
<rect x="744.35" y="1574.98" width="12.03" height="50.39" fill="#edf8e0"/>
<rect x="756.07" y="1574.98" width="12.03" height="50.39" fill="#ebf7e3"/>
<rect x="767.8" y="1574.98" width="12.03" height="50.39" fill="#e9f7e7"/>
<rect x="779.52" y="1574.98" width="12.03" height="50.39" fill="#ebf7e3"/>
<rect x="791.25" y="1574.98" width="12.03" height="50.39" fill="#edf8e0"/>
<rect x="802.97" y="1574.98" width="23.75" height="50.39" fill="#e9f7e7"/>
<rect x="826.43" y="1574.98" width="12.03" height="50.39" fill="#e8f6ea"/>
<rect x="838.15" y="1574.98" width="12.03" height="50.39" fill="#edf8e0"/>
<rect x="849.88" y="1574.98" width="12.03" height="50.39" fill="#e9f7e7"/>
<rect x="861.6" y="1574.98" width="12.03" height="50.39" fill="#ebf7e3"/>
<rect x="873.33" y="1574.98" width="12.03" height="50.39" fill="#edf8e0"/>
<rect x="885.05" y="1574.98" width="12.03" height="50.39" fill="#ebf7e3"/>
<rect x="896.78" y="1574.98" width="23.75" height="50.39" fill="#e9f7e7"/>
<rect x="920.23" y="1574.98" width="12.03" height="50.39" fill="#ebf7e3"/>
<rect x="931.95" y="1574.98" width="23.75" height="50.39" fill="#e9f7e7"/>
<rect x="955.41" y="1574.98" width="12.03" height="50.39" fill="#e8f6ea"/>
<rect x="967.13" y="1574.98" width="12.03" height="50.39" fill="#e9f7e7"/>
<rect x="978.86" y="1574.98" width="12.03" height="50.39" fill="#ebf7e3"/>
<rect x="990.58" y="1574.98" width="23.75" height="50.39" fill="#e9f7e7"/>
<rect x="1014.03" y="1574.98" width="12.03" height="50.39" fill="#e8f6ea"/>
<rect x="1025.76" y="1574.98" width="23.75" height="50.39" fill="#e9f7e7"/>
<rect x="1049.21" y="1574.98" width="12.03" height="50.39" fill="#ebf7e3"/>
<rect x="1060.93" y="1574.98" width="12.03" height="50.39" fill="#f5fbd2"/>
<rect x="1072.66" y="1574.98" width="12.03" height="50.39" fill="#edf8e0"/>
<rect x="1084.38" y="1574.98" width="12.03" height="50.39" fill="#e4f4f1"/>
<rect x="1096.11" y="1574.98" width="12.03" height="50.39" fill="#e9f7e7"/>
<rect x="1107.84" y="1574.98" width="12.03" height="50.39" fill="#ebf7e3"/>
<rect x="1119.56" y="1574.98" width="12.03" height="50.39" fill="#e9f7e7"/>
<rect x="1131.29" y="1574.98" width="12.03" height="50.39" fill="#ebf7e3"/>
<rect x="1143.01" y="1574.98" width="12.03" height="50.39" fill="#e9f7e7"/>
<rect x="1154.74" y="1574.98" width="23.75" height="50.39" fill="#ebf7e3"/>
<rect x="1178.19" y="1574.98" width="12.03" height="50.39" fill="#e9f7e7"/>
<rect x="1189.91" y="1574.98" width="12.03" height="50.39" fill="#e8f6ea"/>
<rect x="1201.64" y="1574.98" width="12.03" height="50.39" fill="#ebf7e3"/>
<rect x="1213.36" y="1574.98" width="23.75" height="50.39" fill="#e9f7e7"/>
<rect x="1236.82" y="1574.98" width="12.03" height="50.39" fill="#e8f6ea"/>
<rect x="1248.54" y="1574.98" width="23.75" height="50.39" fill="#e9f7e7"/>
<rect x="1271.99" y="1574.98" width="12.03" height="50.39" fill="#e8f6ea"/>
<rect x="1283.72" y="1574.98" width="12.03" height="50.39" fill="#e9f7e7"/>
<rect x="1295.44" y="1574.98" width="12.03" height="50.39" fill="#e8f6ea"/>
<rect x="1307.17" y="1574.98" width="23.75" height="50.39" fill="#e9f7e7"/>
<rect x="1330.62" y="1574.98" width="12.03" height="50.39" fill="#e8f6ea"/>
<rect x="1342.34" y="1574.98" width="12.03" height="50.39" fill="#e9f7e7"/>
<rect x="1354.07" y="1574.98" width="12.03" height="50.39" fill="#e8f6ea"/>
<rect x="1365.79" y="1574.98" width="12.03" height="50.39" fill="#e6f5ee"/>
<rect x="1377.52" y="1574.98" width="12.03" height="50.39" fill="#e9f7e7"/>
<rect x="1389.25" y="1574.98" width="23.75" height="50.39" fill="#ebf7e3"/>
<rect x="1412.7" y="1574.98" width="12.03" height="50.39" fill="#e9f7e7"/>
<rect x="1424.42" y="1574.98" width="12.03" height="50.39" fill="#ebf7e3"/>
<rect x="1436.15" y="1574.98" width="12.03" height="50.39" fill="#e9f7e7"/>
<rect x="1447.87" y="1574.98" width="12.03" height="50.39" fill="#ebf7e3"/>
<rect x="1459.6" y="1574.98" width="12.03" height="50.39" fill="#e9f7e7"/>
<rect x="1471.32" y="1574.98" width="23.75" height="50.39" fill="#e2f4f5"/>
<rect x="1494.77" y="1574.98" width="12.03" height="50.39" fill="#e6f5ee"/>
<rect x="122.9" y="1625.07" width="12.03" height="50.39" fill="#dbf0f6"/>
<rect x="134.63" y="1625.07" width="12.03" height="50.39" fill="#f1fad9"/>
<rect x="146.35" y="1625.07" width="12.03" height="50.39" fill="#a2cae1"/>
<rect x="158.08" y="1625.07" width="12.03" height="50.39" fill="#a7cde3"/>
<rect x="169.8" y="1625.07" width="23.75" height="50.39" fill="#cde6f1"/>
<rect x="193.25" y="1625.07" width="12.03" height="50.39" fill="#6e9dc9"/>
<rect x="204.98" y="1625.07" width="12.03" height="50.39" fill="#a2cae1"/>
<rect x="216.7" y="1625.07" width="12.03" height="50.39" fill="#dbf0f6"/>
<rect x="228.43" y="1625.07" width="12.03" height="50.39" fill="#cde6f1"/>
<rect x="240.15" y="1625.07" width="12.03" height="50.39" fill="#b0d3e6"/>
<rect x="251.88" y="1625.07" width="12.03" height="50.39" fill="#abd0e5"/>
<rect x="263.61" y="1625.07" width="12.03" height="50.39" fill="#a2cae1"/>
<rect x="275.33" y="1625.07" width="23.75" height="50.39" fill="#b0d3e6"/>
<rect x="298.78" y="1625.07" width="12.03" height="50.39" fill="#beddec"/>
<rect x="310.51" y="1625.07" width="12.03" height="50.39" fill="#a2cae1"/>
<rect x="322.23" y="1625.07" width="12.03" height="50.39" fill="#b5d7e8"/>
<rect x="333.96" y="1625.07" width="12.03" height="50.39" fill="#abd0e5"/>
<rect x="345.68" y="1625.07" width="12.03" height="50.39" fill="#93c1dc"/>
<rect x="357.41" y="1625.07" width="12.03" height="50.39" fill="#9dc7df"/>
<rect x="369.13" y="1625.07" width="12.03" height="50.39" fill="#a2cae1"/>
<rect x="380.86" y="1625.07" width="12.03" height="50.39" fill="#6a99c7"/>
<rect x="392.58" y="1625.07" width="12.03" height="50.39" fill="#93c1dc"/>
<rect x="404.31" y="1625.07" width="12.03" height="50.39" fill="#a7cde3"/>
<rect x="416.04" y="1625.07" width="12.03" height="50.39" fill="#b0d3e6"/>
<rect x="427.76" y="1625.07" width="12.03" height="50.39" fill="#78a6ce"/>
<rect x="439.49" y="1625.07" width="12.03" height="50.39" fill="#8ab8d7"/>
<rect x="451.21" y="1625.07" width="12.03" height="50.39" fill="#8fbdda"/>
<rect x="462.94" y="1625.07" width="12.03" height="50.39" fill="#85b4d5"/>
<rect x="474.66" y="1625.07" width="12.03" height="50.39" fill="#abd0e5"/>
<rect x="486.39" y="1625.07" width="12.03" height="50.39" fill="#a7cde3"/>
<rect x="498.11" y="1625.07" width="12.03" height="50.39" fill="#abd0e5"/>
<rect x="509.84" y="1625.07" width="23.75" height="50.39" fill="#93c1dc"/>
<rect x="533.29" y="1625.07" width="12.03" height="50.39" fill="#a7cde3"/>
<rect x="545.02" y="1625.07" width="12.03" height="50.39" fill="#8fbdda"/>
<rect x="556.74" y="1625.07" width="12.03" height="50.39" fill="#a2cae1"/>
<rect x="568.47" y="1625.07" width="12.03" height="50.39" fill="#6e9dc9"/>
<rect x="580.19" y="1625.07" width="23.75" height="50.39" fill="#9dc7df"/>
<rect x="603.64" y="1625.07" width="12.03" height="50.39" fill="#b5d7e8"/>
<rect x="615.37" y="1625.07" width="12.03" height="50.39" fill="#b0d3e6"/>
<rect x="627.09" y="1625.07" width="12.03" height="50.39" fill="#b5d7e8"/>
<rect x="638.82" y="1625.07" width="12.03" height="50.39" fill="#e0f3f8"/>
<rect x="650.54" y="1625.07" width="12.03" height="50.39" fill="#abd0e5"/>
<rect x="662.27" y="1625.07" width="12.03" height="50.39" fill="#dbf0f6"/>
<rect x="673.99" y="1625.07" width="12.03" height="50.39" fill="#b5d7e8"/>
<rect x="685.72" y="1625.07" width="12.03" height="50.39" fill="#b0d3e6"/>
<rect x="697.45" y="1625.07" width="12.03" height="50.39" fill="#93c1dc"/>
<rect x="709.17" y="1625.07" width="12.03" height="50.39" fill="#d6edf4"/>
<rect x="720.9" y="1625.07" width="12.03" height="50.39" fill="#b5d7e8"/>
<rect x="732.62" y="1625.07" width="12.03" height="50.39" fill="#c3e0ed"/>
<rect x="744.35" y="1625.07" width="12.03" height="50.39" fill="#b5d7e8"/>
<rect x="756.07" y="1625.07" width="12.03" height="50.39" fill="#b0d3e6"/>
<rect x="767.8" y="1625.07" width="12.03" height="50.39" fill="#d6edf4"/>
<rect x="779.52" y="1625.07" width="12.03" height="50.39" fill="#e9f7e7"/>
<rect x="791.25" y="1625.07" width="12.03" height="50.39" fill="#c3e0ed"/>
<rect x="802.97" y="1625.07" width="12.03" height="50.39" fill="#d2eaf3"/>
<rect x="814.7" y="1625.07" width="12.03" height="50.39" fill="#a2cae1"/>
<rect x="826.43" y="1625.07" width="12.03" height="50.39" fill="#c8e3ef"/>
<rect x="838.15" y="1625.07" width="12.03" height="50.39" fill="#b5d7e8"/>
<rect x="849.88" y="1625.07" width="12.03" height="50.39" fill="#dbf0f6"/>
<rect x="861.6" y="1625.07" width="12.03" height="50.39" fill="#beddec"/>
<rect x="873.33" y="1625.07" width="12.03" height="50.39" fill="#cde6f1"/>
<rect x="885.05" y="1625.07" width="12.03" height="50.39" fill="#d6edf4"/>
<rect x="896.78" y="1625.07" width="12.03" height="50.39" fill="#d2eaf3"/>
<rect x="908.5" y="1625.07" width="12.03" height="50.39" fill="#cde6f1"/>
<rect x="920.23" y="1625.07" width="12.03" height="50.39" fill="#d6edf4"/>
<rect x="931.95" y="1625.07" width="12.03" height="50.39" fill="#e0f3f8"/>
<rect x="943.68" y="1625.07" width="12.03" height="50.39" fill="#e6f5ee"/>
<rect x="955.41" y="1625.07" width="12.03" height="50.39" fill="#f1fad9"/>
<rect x="967.13" y="1625.07" width="12.03" height="50.39" fill="#ebf7e3"/>
<rect x="978.86" y="1625.07" width="12.03" height="50.39" fill="#b5d7e8"/>
<rect x="990.58" y="1625.07" width="12.03" height="50.39" fill="#c8e3ef"/>
<rect x="1002.31" y="1625.07" width="12.03" height="50.39" fill="#e0f3f8"/>
<rect x="1014.03" y="1625.07" width="12.03" height="50.39" fill="#b0d3e6"/>
<rect x="1025.76" y="1625.07" width="12.03" height="50.39" fill="#f5fbd2"/>
<rect x="1037.48" y="1625.07" width="12.03" height="50.39" fill="#dbf0f6"/>
<rect x="1049.21" y="1625.07" width="23.75" height="50.39" fill="#cde6f1"/>
<rect x="1072.66" y="1625.07" width="12.03" height="50.39" fill="#badaea"/>
<rect x="1084.38" y="1625.07" width="12.03" height="50.39" fill="#dbf0f6"/>
<rect x="1096.11" y="1625.07" width="12.03" height="50.39" fill="#cde6f1"/>
<rect x="1107.84" y="1625.07" width="12.03" height="50.39" fill="#beddec"/>
<rect x="1119.56" y="1625.07" width="12.03" height="50.39" fill="#d6edf4"/>
<rect x="1131.29" y="1625.07" width="12.03" height="50.39" fill="#e0f3f8"/>
<rect x="1143.01" y="1625.07" width="12.03" height="50.39" fill="#dbf0f6"/>
<rect x="1154.74" y="1625.07" width="12.03" height="50.39" fill="#cde6f1"/>
<rect x="1166.46" y="1625.07" width="12.03" height="50.39" fill="#d2eaf3"/>
<rect x="1178.19" y="1625.07" width="12.03" height="50.39" fill="#cde6f1"/>
<rect x="1189.91" y="1625.07" width="12.03" height="50.39" fill="#d6edf4"/>
<rect x="1201.64" y="1625.07" width="12.03" height="50.39" fill="#dbf0f6"/>
<rect x="1213.36" y="1625.07" width="12.03" height="50.39" fill="#badaea"/>
<rect x="1225.09" y="1625.07" width="12.03" height="50.39" fill="#cde6f1"/>
<rect x="1236.82" y="1625.07" width="12.03" height="50.39" fill="#c3e0ed"/>
<rect x="1248.54" y="1625.07" width="12.03" height="50.39" fill="#d6edf4"/>
<rect x="1260.27" y="1625.07" width="12.03" height="50.39" fill="#e6f5ee"/>
<rect x="1271.99" y="1625.07" width="12.03" height="50.39" fill="#e0f3f8"/>
<rect x="1283.72" y="1625.07" width="12.03" height="50.39" fill="#e9f7e7"/>
<rect x="1295.44" y="1625.07" width="12.03" height="50.39" fill="#d6edf4"/>
<rect x="1307.17" y="1625.07" width="12.03" height="50.39" fill="#cde6f1"/>
<rect x="1318.89" y="1625.07" width="12.03" height="50.39" fill="#beddec"/>
<rect x="1330.62" y="1625.07" width="12.03" height="50.39" fill="#c8e3ef"/>
<rect x="1342.34" y="1625.07" width="12.03" height="50.39" fill="#8fbdda"/>
<rect x="1354.07" y="1625.07" width="12.03" height="50.39" fill="#b5d7e8"/>
<rect x="1365.79" y="1625.07" width="12.03" height="50.39" fill="#cde6f1"/>
<rect x="1377.52" y="1625.07" width="12.03" height="50.39" fill="#abd0e5"/>
<rect x="1389.25" y="1625.07" width="12.03" height="50.39" fill="#a2cae1"/>
<rect x="1400.97" y="1625.07" width="12.03" height="50.39" fill="#badaea"/>
<rect x="1412.7" y="1625.07" width="12.03" height="50.39" fill="#c3e0ed"/>
<rect x="1424.42" y="1625.07" width="12.03" height="50.39" fill="#c8e3ef"/>
<rect x="1436.15" y="1625.07" width="12.03" height="50.39" fill="#5787bd"/>
<rect x="1447.87" y="1625.07" width="12.03" height="50.39" fill="#93c1dc"/>
<rect x="1459.6" y="1625.07" width="12.03" height="50.39" fill="#73a2cc"/>
<rect x="1471.32" y="1625.07" width="12.03" height="50.39" fill="#81afd3"/>
<rect x="1483.05" y="1625.07" width="12.03" height="50.39" fill="#78a6ce"/>
<rect x="1494.77" y="1625.07" width="12.03" height="50.39" fill="#8ab8d7"/>
<rect x="122.9" y="1675.16" width="12.03" height="50.39" fill="#badaea"/>
<rect x="134.63" y="1675.16" width="12.03" height="50.39" fill="#beddec"/>
<rect x="146.35" y="1675.16" width="12.03" height="50.39" fill="#d6edf4"/>
<rect x="158.08" y="1675.16" width="12.03" height="50.39" fill="#cde6f1"/>
<rect x="169.8" y="1675.16" width="12.03" height="50.39" fill="#d2eaf3"/>
<rect x="181.53" y="1675.16" width="12.03" height="50.39" fill="#cde6f1"/>
<rect x="193.25" y="1675.16" width="12.03" height="50.39" fill="#beddec"/>
<rect x="204.98" y="1675.16" width="23.75" height="50.39" fill="#b0d3e6"/>
<rect x="228.43" y="1675.16" width="12.03" height="50.39" fill="#abd0e5"/>
<rect x="240.15" y="1675.16" width="12.03" height="50.39" fill="#d2eaf3"/>
<rect x="251.88" y="1675.16" width="12.03" height="50.39" fill="#93c1dc"/>
<rect x="263.61" y="1675.16" width="12.03" height="50.39" fill="#abd0e5"/>
<rect x="275.33" y="1675.16" width="12.03" height="50.39" fill="#b0d3e6"/>
<rect x="287.06" y="1675.16" width="12.03" height="50.39" fill="#cde6f1"/>
<rect x="298.78" y="1675.16" width="12.03" height="50.39" fill="#d6edf4"/>
<rect x="310.51" y="1675.16" width="12.03" height="50.39" fill="#a7cde3"/>
<rect x="322.23" y="1675.16" width="12.03" height="50.39" fill="#cde6f1"/>
<rect x="333.96" y="1675.16" width="12.03" height="50.39" fill="#beddec"/>
<rect x="345.68" y="1675.16" width="12.03" height="50.39" fill="#cde6f1"/>
<rect x="357.41" y="1675.16" width="23.75" height="50.39" fill="#d2eaf3"/>
<rect x="380.86" y="1675.16" width="12.03" height="50.39" fill="#abd0e5"/>
<rect x="392.58" y="1675.16" width="23.75" height="50.39" fill="#d2eaf3"/>
<rect x="416.04" y="1675.16" width="12.03" height="50.39" fill="#e6f5ee"/>
<rect x="427.76" y="1675.16" width="35.48" height="50.39" fill="#c3e0ed"/>
<rect x="462.94" y="1675.16" width="12.03" height="50.39" fill="#e8f6ea"/>
<rect x="474.66" y="1675.16" width="12.03" height="50.39" fill="#c3e0ed"/>
<rect x="486.39" y="1675.16" width="12.03" height="50.39" fill="#c8e3ef"/>
<rect x="498.11" y="1675.16" width="23.75" height="50.39" fill="#cde6f1"/>
<rect x="521.56" y="1675.16" width="12.03" height="50.39" fill="#badaea"/>
<rect x="533.29" y="1675.16" width="12.03" height="50.39" fill="#beddec"/>
<rect x="545.02" y="1675.16" width="12.03" height="50.39" fill="#b5d7e8"/>
<rect x="556.74" y="1675.16" width="12.03" height="50.39" fill="#beddec"/>
<rect x="568.47" y="1675.16" width="23.75" height="50.39" fill="#cde6f1"/>
<rect x="591.92" y="1675.16" width="12.03" height="50.39" fill="#e0f3f8"/>
<rect x="603.64" y="1675.16" width="12.03" height="50.39" fill="#d6edf4"/>
<rect x="615.37" y="1675.16" width="12.03" height="50.39" fill="#cde6f1"/>
<rect x="627.09" y="1675.16" width="12.03" height="50.39" fill="#e0f3f8"/>
<rect x="638.82" y="1675.16" width="12.03" height="50.39" fill="#8fbdda"/>
<rect x="650.54" y="1675.16" width="12.03" height="50.39" fill="#98c4de"/>
<rect x="662.27" y="1675.16" width="12.03" height="50.39" fill="#a7cde3"/>
<rect x="673.99" y="1675.16" width="12.03" height="50.39" fill="#beddec"/>
<rect x="685.72" y="1675.16" width="12.03" height="50.39" fill="#b0d3e6"/>
<rect x="697.45" y="1675.16" width="12.03" height="50.39" fill="#d2eaf3"/>
<rect x="709.17" y="1675.16" width="12.03" height="50.39" fill="#c8e3ef"/>
<rect x="720.9" y="1675.16" width="12.03" height="50.39" fill="#d2eaf3"/>
<rect x="732.62" y="1675.16" width="12.03" height="50.39" fill="#e0f3f8"/>
<rect x="744.35" y="1675.16" width="12.03" height="50.39" fill="#e2f4f5"/>
<rect x="756.07" y="1675.16" width="12.03" height="50.39" fill="#d6edf4"/>
<rect x="767.8" y="1675.16" width="12.03" height="50.39" fill="#e2f4f5"/>
<rect x="779.52" y="1675.16" width="12.03" height="50.39" fill="#d6edf4"/>
<rect x="791.25" y="1675.16" width="12.03" height="50.39" fill="#e2f4f5"/>
<rect x="802.97" y="1675.16" width="12.03" height="50.39" fill="#d2eaf3"/>
<rect x="814.7" y="1675.16" width="12.03" height="50.39" fill="#e6f5ee"/>
<rect x="826.43" y="1675.16" width="12.03" height="50.39" fill="#c8e3ef"/>
<rect x="838.15" y="1675.16" width="12.03" height="50.39" fill="#d6edf4"/>
<rect x="849.88" y="1675.16" width="12.03" height="50.39" fill="#d2eaf3"/>
<rect x="861.6" y="1675.16" width="12.03" height="50.39" fill="#e9f7e7"/>
<rect x="873.33" y="1675.16" width="12.03" height="50.39" fill="#d6edf4"/>
<rect x="885.05" y="1675.16" width="12.03" height="50.39" fill="#cde6f1"/>
<rect x="896.78" y="1675.16" width="12.03" height="50.39" fill="#c3e0ed"/>
<rect x="908.5" y="1675.16" width="12.03" height="50.39" fill="#beddec"/>
<rect x="920.23" y="1675.16" width="12.03" height="50.39" fill="#b0d3e6"/>
<rect x="931.95" y="1675.16" width="12.03" height="50.39" fill="#d6edf4"/>
<rect x="943.68" y="1675.16" width="12.03" height="50.39" fill="#d2eaf3"/>
<rect x="955.41" y="1675.16" width="12.03" height="50.39" fill="#d6edf4"/>
<rect x="967.13" y="1675.16" width="12.03" height="50.39" fill="#d2eaf3"/>
<rect x="978.86" y="1675.16" width="12.03" height="50.39" fill="#cde6f1"/>
<rect x="990.58" y="1675.16" width="12.03" height="50.39" fill="#beddec"/>
<rect x="1002.31" y="1675.16" width="12.03" height="50.39" fill="#c3e0ed"/>
<rect x="1014.03" y="1675.16" width="23.75" height="50.39" fill="#beddec"/>
<rect x="1037.48" y="1675.16" width="12.03" height="50.39" fill="#c8e3ef"/>
<rect x="1049.21" y="1675.16" width="35.48" height="50.39" fill="#cde6f1"/>
<rect x="1084.38" y="1675.16" width="12.03" height="50.39" fill="#d2eaf3"/>
<rect x="1096.11" y="1675.16" width="12.03" height="50.39" fill="#c8e3ef"/>
<rect x="1107.84" y="1675.16" width="12.03" height="50.39" fill="#e4f4f1"/>
<rect x="1119.56" y="1675.16" width="12.03" height="50.39" fill="#c8e3ef"/>
<rect x="1131.29" y="1675.16" width="12.03" height="50.39" fill="#d6edf4"/>
<rect x="1143.01" y="1675.16" width="12.03" height="50.39" fill="#d2eaf3"/>
<rect x="1154.74" y="1675.16" width="12.03" height="50.39" fill="#cde6f1"/>
<rect x="1166.46" y="1675.16" width="23.75" height="50.39" fill="#d2eaf3"/>
<rect x="1189.91" y="1675.16" width="12.03" height="50.39" fill="#dbf0f6"/>
<rect x="1201.64" y="1675.16" width="12.03" height="50.39" fill="#d2eaf3"/>
<rect x="1213.36" y="1675.16" width="12.03" height="50.39" fill="#beddec"/>
<rect x="1225.09" y="1675.16" width="12.03" height="50.39" fill="#d2eaf3"/>
<rect x="1236.82" y="1675.16" width="12.03" height="50.39" fill="#d6edf4"/>
<rect x="1248.54" y="1675.16" width="23.75" height="50.39" fill="#d2eaf3"/>
<rect x="1271.99" y="1675.16" width="12.03" height="50.39" fill="#c8e3ef"/>
<rect x="1283.72" y="1675.16" width="12.03" height="50.39" fill="#d2eaf3"/>
<rect x="1295.44" y="1675.16" width="12.03" height="50.39" fill="#dbf0f6"/>
<rect x="1307.17" y="1675.16" width="12.03" height="50.39" fill="#cde6f1"/>
<rect x="1318.89" y="1675.16" width="12.03" height="50.39" fill="#d6edf4"/>
<rect x="1330.62" y="1675.16" width="12.03" height="50.39" fill="#c3e0ed"/>
<rect x="1342.34" y="1675.16" width="12.03" height="50.39" fill="#b5d7e8"/>
<rect x="1354.07" y="1675.16" width="12.03" height="50.39" fill="#beddec"/>
<rect x="1365.79" y="1675.16" width="23.75" height="50.39" fill="#c3e0ed"/>
<rect x="1389.25" y="1675.16" width="23.75" height="50.39" fill="#c8e3ef"/>
<rect x="1412.7" y="1675.16" width="23.75" height="50.39" fill="#cde6f1"/>
<rect x="1436.15" y="1675.16" width="12.03" height="50.39" fill="#e2f4f5"/>
<rect x="1447.87" y="1675.16" width="12.03" height="50.39" fill="#8ab8d7"/>
<rect x="1459.6" y="1675.16" width="12.03" height="50.39" fill="#6e9dc9"/>
<rect x="1471.32" y="1675.16" width="12.03" height="50.39" fill="#6594c5"/>
<rect x="1483.05" y="1675.16" width="12.03" height="50.39" fill="#8ab8d7"/>
<rect x="1494.77" y="1675.16" width="12.03" height="50.39" fill="#7cabd0"/>
<rect x="122.9" y="1725.24" width="12.03" height="50.39" fill="#b5d7e8"/>
<rect x="134.63" y="1725.24" width="12.03" height="50.39" fill="#abd0e5"/>
<rect x="146.35" y="1725.24" width="12.03" height="50.39" fill="#b5d7e8"/>
<rect x="158.08" y="1725.24" width="12.03" height="50.39" fill="#beddec"/>
<rect x="169.8" y="1725.24" width="12.03" height="50.39" fill="#abd0e5"/>
<rect x="181.53" y="1725.24" width="12.03" height="50.39" fill="#c3e0ed"/>
<rect x="193.25" y="1725.24" width="12.03" height="50.39" fill="#c8e3ef"/>
<rect x="204.98" y="1725.24" width="12.03" height="50.39" fill="#a2cae1"/>
<rect x="216.7" y="1725.24" width="12.03" height="50.39" fill="#b0d3e6"/>
<rect x="228.43" y="1725.24" width="12.03" height="50.39" fill="#9dc7df"/>
<rect x="240.15" y="1725.24" width="12.03" height="50.39" fill="#b0d3e6"/>
<rect x="251.88" y="1725.24" width="12.03" height="50.39" fill="#9dc7df"/>
<rect x="263.61" y="1725.24" width="12.03" height="50.39" fill="#b5d7e8"/>
<rect x="275.33" y="1725.24" width="12.03" height="50.39" fill="#a2cae1"/>
<rect x="287.06" y="1725.24" width="12.03" height="50.39" fill="#c8e3ef"/>
<rect x="298.78" y="1725.24" width="12.03" height="50.39" fill="#b0d3e6"/>
<rect x="310.51" y="1725.24" width="12.03" height="50.39" fill="#93c1dc"/>
<rect x="322.23" y="1725.24" width="12.03" height="50.39" fill="#badaea"/>
<rect x="333.96" y="1725.24" width="12.03" height="50.39" fill="#b5d7e8"/>
<rect x="345.68" y="1725.24" width="12.03" height="50.39" fill="#cde6f1"/>
<rect x="357.41" y="1725.24" width="12.03" height="50.39" fill="#beddec"/>
<rect x="369.13" y="1725.24" width="12.03" height="50.39" fill="#c3e0ed"/>
<rect x="380.86" y="1725.24" width="12.03" height="50.39" fill="#a2cae1"/>
<rect x="392.58" y="1725.24" width="12.03" height="50.39" fill="#beddec"/>
<rect x="404.31" y="1725.24" width="12.03" height="50.39" fill="#c8e3ef"/>
<rect x="416.04" y="1725.24" width="12.03" height="50.39" fill="#c3e0ed"/>
<rect x="427.76" y="1725.24" width="12.03" height="50.39" fill="#a7cde3"/>
<rect x="439.49" y="1725.24" width="12.03" height="50.39" fill="#9dc7df"/>
<rect x="451.21" y="1725.24" width="12.03" height="50.39" fill="#a7cde3"/>
<rect x="462.94" y="1725.24" width="12.03" height="50.39" fill="#b0d3e6"/>
<rect x="474.66" y="1725.24" width="12.03" height="50.39" fill="#badaea"/>
<rect x="486.39" y="1725.24" width="12.03" height="50.39" fill="#b5d7e8"/>
<rect x="498.11" y="1725.24" width="12.03" height="50.39" fill="#badaea"/>
<rect x="509.84" y="1725.24" width="12.03" height="50.39" fill="#b5d7e8"/>
<rect x="521.56" y="1725.24" width="12.03" height="50.39" fill="#abd0e5"/>
<rect x="533.29" y="1725.24" width="12.03" height="50.39" fill="#beddec"/>
<rect x="545.02" y="1725.24" width="12.03" height="50.39" fill="#b0d3e6"/>
<rect x="556.74" y="1725.24" width="12.03" height="50.39" fill="#badaea"/>
<rect x="568.47" y="1725.24" width="12.03" height="50.39" fill="#beddec"/>
<rect x="580.19" y="1725.24" width="12.03" height="50.39" fill="#b5d7e8"/>
<rect x="591.92" y="1725.24" width="12.03" height="50.39" fill="#b0d3e6"/>
<rect x="603.64" y="1725.24" width="12.03" height="50.39" fill="#c3e0ed"/>
<rect x="615.37" y="1725.24" width="12.03" height="50.39" fill="#c8e3ef"/>
<rect x="627.09" y="1725.24" width="12.03" height="50.39" fill="#beddec"/>
<rect x="638.82" y="1725.24" width="12.03" height="50.39" fill="#5c8bc0"/>
<rect x="650.54" y="1725.24" width="12.03" height="50.39" fill="#81afd3"/>
<rect x="662.27" y="1725.24" width="12.03" height="50.39" fill="#93c1dc"/>
<rect x="673.99" y="1725.24" width="12.03" height="50.39" fill="#98c4de"/>
<rect x="685.72" y="1725.24" width="12.03" height="50.39" fill="#e0f3f8"/>
<rect x="697.45" y="1725.24" width="12.03" height="50.39" fill="#e6f5ee"/>
<rect x="709.17" y="1725.24" width="12.03" height="50.39" fill="#badaea"/>
<rect x="720.9" y="1725.24" width="12.03" height="50.39" fill="#c8e3ef"/>
<rect x="732.62" y="1725.24" width="12.03" height="50.39" fill="#cde6f1"/>
<rect x="744.35" y="1725.24" width="12.03" height="50.39" fill="#c8e3ef"/>
<rect x="756.07" y="1725.24" width="12.03" height="50.39" fill="#cde6f1"/>
<rect x="767.8" y="1725.24" width="12.03" height="50.39" fill="#c3e0ed"/>
<rect x="779.52" y="1725.24" width="12.03" height="50.39" fill="#d6edf4"/>
<rect x="791.25" y="1725.24" width="12.03" height="50.39" fill="#c8e3ef"/>
<rect x="802.97" y="1725.24" width="12.03" height="50.39" fill="#cde6f1"/>
<rect x="814.7" y="1725.24" width="12.03" height="50.39" fill="#d2eaf3"/>
<rect x="826.43" y="1725.24" width="23.75" height="50.39" fill="#beddec"/>
<rect x="849.88" y="1725.24" width="12.03" height="50.39" fill="#abd0e5"/>
<rect x="861.6" y="1725.24" width="12.03" height="50.39" fill="#beddec"/>
<rect x="873.33" y="1725.24" width="12.03" height="50.39" fill="#dbf0f6"/>
<rect x="885.05" y="1725.24" width="12.03" height="50.39" fill="#b0d3e6"/>
<rect x="896.78" y="1725.24" width="12.03" height="50.39" fill="#abd0e5"/>
<rect x="908.5" y="1725.24" width="12.03" height="50.39" fill="#badaea"/>
<rect x="920.23" y="1725.24" width="12.03" height="50.39" fill="#9dc7df"/>
<rect x="931.95" y="1725.24" width="12.03" height="50.39" fill="#beddec"/>
<rect x="943.68" y="1725.24" width="12.03" height="50.39" fill="#c8e3ef"/>
<rect x="955.41" y="1725.24" width="12.03" height="50.39" fill="#badaea"/>
<rect x="967.13" y="1725.24" width="12.03" height="50.39" fill="#c3e0ed"/>
<rect x="978.86" y="1725.24" width="12.03" height="50.39" fill="#b0d3e6"/>
<rect x="990.58" y="1725.24" width="12.03" height="50.39" fill="#c8e3ef"/>
<rect x="1002.31" y="1725.24" width="12.03" height="50.39" fill="#cde6f1"/>
<rect x="1014.03" y="1725.24" width="12.03" height="50.39" fill="#beddec"/>
<rect x="1025.76" y="1725.24" width="12.03" height="50.39" fill="#b5d7e8"/>
<rect x="1037.48" y="1725.24" width="12.03" height="50.39" fill="#a7cde3"/>
<rect x="1049.21" y="1725.24" width="12.03" height="50.39" fill="#badaea"/>
<rect x="1060.93" y="1725.24" width="12.03" height="50.39" fill="#b0d3e6"/>
<rect x="1072.66" y="1725.24" width="12.03" height="50.39" fill="#abd0e5"/>
<rect x="1084.38" y="1725.24" width="23.75" height="50.39" fill="#b0d3e6"/>
<rect x="1107.84" y="1725.24" width="12.03" height="50.39" fill="#badaea"/>
<rect x="1119.56" y="1725.24" width="12.03" height="50.39" fill="#b5d7e8"/>
<rect x="1131.29" y="1725.24" width="12.03" height="50.39" fill="#c8e3ef"/>
<rect x="1143.01" y="1725.24" width="12.03" height="50.39" fill="#b0d3e6"/>
<rect x="1154.74" y="1725.24" width="12.03" height="50.39" fill="#b5d7e8"/>
<rect x="1166.46" y="1725.24" width="12.03" height="50.39" fill="#beddec"/>
<rect x="1178.19" y="1725.24" width="12.03" height="50.39" fill="#c8e3ef"/>
<rect x="1189.91" y="1725.24" width="12.03" height="50.39" fill="#b5d7e8"/>
<rect x="1201.64" y="1725.24" width="12.03" height="50.39" fill="#c8e3ef"/>
<rect x="1213.36" y="1725.24" width="23.75" height="50.39" fill="#beddec"/>
<rect x="1236.82" y="1725.24" width="12.03" height="50.39" fill="#c3e0ed"/>
<rect x="1248.54" y="1725.24" width="12.03" height="50.39" fill="#badaea"/>
<rect x="1260.27" y="1725.24" width="12.03" height="50.39" fill="#c3e0ed"/>
<rect x="1271.99" y="1725.24" width="12.03" height="50.39" fill="#c8e3ef"/>
<rect x="1283.72" y="1725.24" width="12.03" height="50.39" fill="#badaea"/>
<rect x="1295.44" y="1725.24" width="12.03" height="50.39" fill="#cde6f1"/>
<rect x="1307.17" y="1725.24" width="12.03" height="50.39" fill="#d2eaf3"/>
<rect x="1318.89" y="1725.24" width="12.03" height="50.39" fill="#c8e3ef"/>
<rect x="1330.62" y="1725.24" width="12.03" height="50.39" fill="#abd0e5"/>
<rect x="1342.34" y="1725.24" width="12.03" height="50.39" fill="#badaea"/>
<rect x="1354.07" y="1725.24" width="12.03" height="50.39" fill="#b0d3e6"/>
<rect x="1365.79" y="1725.24" width="12.03" height="50.39" fill="#b5d7e8"/>
<rect x="1377.52" y="1725.24" width="12.03" height="50.39" fill="#b0d3e6"/>
<rect x="1389.25" y="1725.24" width="12.03" height="50.39" fill="#b5d7e8"/>
<rect x="1400.97" y="1725.24" width="23.75" height="50.39" fill="#badaea"/>
<rect x="1424.42" y="1725.24" width="12.03" height="50.39" fill="#b0d3e6"/>
<rect x="1436.15" y="1725.24" width="12.03" height="50.39" fill="#c3e0ed"/>
<rect x="1447.87" y="1725.24" width="12.03" height="50.39" fill="#8fbdda"/>
<rect x="1459.6" y="1725.24" width="12.03" height="50.39" fill="#73a2cc"/>
<rect x="1471.32" y="1725.24" width="12.03" height="50.39" fill="#5787bd"/>
<rect x="1483.05" y="1725.24" width="12.03" height="50.39" fill="#8ab8d7"/>
<rect x="1494.77" y="1725.24" width="12.03" height="50.39" fill="#81afd3"/>
<rect x="122.9" y="1775.33" width="12.03" height="50.39" fill="#9dc7df"/>
<rect x="134.63" y="1775.33" width="12.03" height="50.39" fill="#98c4de"/>
<rect x="146.35" y="1775.33" width="12.03" height="50.39" fill="#d2eaf3"/>
<rect x="158.08" y="1775.33" width="12.03" height="50.39" fill="#d6edf4"/>
<rect x="169.8" y="1775.33" width="23.75" height="50.39" fill="#d2eaf3"/>
<rect x="193.25" y="1775.33" width="12.03" height="50.39" fill="#beddec"/>
<rect x="204.98" y="1775.33" width="12.03" height="50.39" fill="#abd0e5"/>
<rect x="216.7" y="1775.33" width="12.03" height="50.39" fill="#b5d7e8"/>
<rect x="228.43" y="1775.33" width="12.03" height="50.39" fill="#93c1dc"/>
<rect x="240.15" y="1775.33" width="12.03" height="50.39" fill="#e4f4f1"/>
<rect x="251.88" y="1775.33" width="12.03" height="50.39" fill="#abd0e5"/>
<rect x="263.61" y="1775.33" width="12.03" height="50.39" fill="#cde6f1"/>
<rect x="275.33" y="1775.33" width="12.03" height="50.39" fill="#b0d3e6"/>
<rect x="287.06" y="1775.33" width="12.03" height="50.39" fill="#c8e3ef"/>
<rect x="298.78" y="1775.33" width="12.03" height="50.39" fill="#e0f3f8"/>
<rect x="310.51" y="1775.33" width="12.03" height="50.39" fill="#beddec"/>
<rect x="322.23" y="1775.33" width="23.75" height="50.39" fill="#b0d3e6"/>
<rect x="345.68" y="1775.33" width="12.03" height="50.39" fill="#dbf0f6"/>
<rect x="357.41" y="1775.33" width="12.03" height="50.39" fill="#cde6f1"/>
<rect x="369.13" y="1775.33" width="12.03" height="50.39" fill="#e0f3f8"/>
<rect x="380.86" y="1775.33" width="12.03" height="50.39" fill="#d6edf4"/>
<rect x="392.58" y="1775.33" width="12.03" height="50.39" fill="#cde6f1"/>
<rect x="404.31" y="1775.33" width="12.03" height="50.39" fill="#dbf0f6"/>
<rect x="416.04" y="1775.33" width="12.03" height="50.39" fill="#f1fad9"/>
<rect x="427.76" y="1775.33" width="12.03" height="50.39" fill="#beddec"/>
<rect x="439.49" y="1775.33" width="12.03" height="50.39" fill="#d2eaf3"/>
<rect x="451.21" y="1775.33" width="12.03" height="50.39" fill="#c3e0ed"/>
<rect x="462.94" y="1775.33" width="12.03" height="50.39" fill="#cde6f1"/>
<rect x="474.66" y="1775.33" width="12.03" height="50.39" fill="#dbf0f6"/>
<rect x="486.39" y="1775.33" width="12.03" height="50.39" fill="#d2eaf3"/>
<rect x="498.11" y="1775.33" width="12.03" height="50.39" fill="#c8e3ef"/>
<rect x="509.84" y="1775.33" width="12.03" height="50.39" fill="#beddec"/>
<rect x="521.56" y="1775.33" width="12.03" height="50.39" fill="#cde6f1"/>
<rect x="533.29" y="1775.33" width="12.03" height="50.39" fill="#d6edf4"/>
<rect x="545.02" y="1775.33" width="23.75" height="50.39" fill="#cde6f1"/>
<rect x="568.47" y="1775.33" width="12.03" height="50.39" fill="#d2eaf3"/>
<rect x="580.19" y="1775.33" width="12.03" height="50.39" fill="#c8e3ef"/>
<rect x="591.92" y="1775.33" width="12.03" height="50.39" fill="#d2eaf3"/>
<rect x="603.64" y="1775.33" width="12.03" height="50.39" fill="#dbf0f6"/>
<rect x="615.37" y="1775.33" width="12.03" height="50.39" fill="#d2eaf3"/>
<rect x="627.09" y="1775.33" width="12.03" height="50.39" fill="#d6edf4"/>
<rect x="638.82" y="1775.33" width="12.03" height="50.39" fill="#abd0e5"/>
<rect x="650.54" y="1775.33" width="12.03" height="50.39" fill="#e9f7e7"/>
<rect x="662.27" y="1775.33" width="12.03" height="50.39" fill="#beddec"/>
<rect x="673.99" y="1775.33" width="12.03" height="50.39" fill="#d2eaf3"/>
<rect x="685.72" y="1775.33" width="12.03" height="50.39" fill="#beddec"/>
<rect x="697.45" y="1775.33" width="12.03" height="50.39" fill="#b0d3e6"/>
<rect x="709.17" y="1775.33" width="12.03" height="50.39" fill="#e6f5ee"/>
<rect x="720.9" y="1775.33" width="12.03" height="50.39" fill="#e4f4f1"/>
<rect x="732.62" y="1775.33" width="35.48" height="50.39" fill="#d2eaf3"/>
<rect x="767.8" y="1775.33" width="23.75" height="50.39" fill="#dbf0f6"/>
<rect x="791.25" y="1775.33" width="12.03" height="50.39" fill="#cde6f1"/>
<rect x="802.97" y="1775.33" width="12.03" height="50.39" fill="#e4f4f1"/>
<rect x="814.7" y="1775.33" width="12.03" height="50.39" fill="#e9f7e7"/>
<rect x="826.43" y="1775.33" width="23.75" height="50.39" fill="#c3e0ed"/>
<rect x="849.88" y="1775.33" width="12.03" height="50.39" fill="#cde6f1"/>
<rect x="861.6" y="1775.33" width="12.03" height="50.39" fill="#d6edf4"/>
<rect x="873.33" y="1775.33" width="12.03" height="50.39" fill="#d2eaf3"/>
<rect x="885.05" y="1775.33" width="12.03" height="50.39" fill="#d6edf4"/>
<rect x="896.78" y="1775.33" width="12.03" height="50.39" fill="#cde6f1"/>
<rect x="908.5" y="1775.33" width="12.03" height="50.39" fill="#98c4de"/>
<rect x="920.23" y="1775.33" width="12.03" height="50.39" fill="#93c1dc"/>
<rect x="931.95" y="1775.33" width="12.03" height="50.39" fill="#b0d3e6"/>
<rect x="943.68" y="1775.33" width="12.03" height="50.39" fill="#abd0e5"/>
<rect x="955.41" y="1775.33" width="12.03" height="50.39" fill="#c3e0ed"/>
<rect x="967.13" y="1775.33" width="12.03" height="50.39" fill="#c8e3ef"/>
<rect x="978.86" y="1775.33" width="12.03" height="50.39" fill="#cde6f1"/>
<rect x="990.58" y="1775.33" width="12.03" height="50.39" fill="#abd0e5"/>
<rect x="1002.31" y="1775.33" width="12.03" height="50.39" fill="#b0d3e6"/>
<rect x="1014.03" y="1775.33" width="12.03" height="50.39" fill="#8fbdda"/>
<rect x="1025.76" y="1775.33" width="12.03" height="50.39" fill="#a7cde3"/>
<rect x="1037.48" y="1775.33" width="12.03" height="50.39" fill="#b0d3e6"/>
<rect x="1049.21" y="1775.33" width="12.03" height="50.39" fill="#b5d7e8"/>
<rect x="1060.93" y="1775.33" width="12.03" height="50.39" fill="#b0d3e6"/>
<rect x="1072.66" y="1775.33" width="12.03" height="50.39" fill="#98c4de"/>
<rect x="1084.38" y="1775.33" width="12.03" height="50.39" fill="#abd0e5"/>
<rect x="1096.11" y="1775.33" width="12.03" height="50.39" fill="#9dc7df"/>
<rect x="1107.84" y="1775.33" width="12.03" height="50.39" fill="#d6edf4"/>
<rect x="1119.56" y="1775.33" width="12.03" height="50.39" fill="#b5d7e8"/>
<rect x="1131.29" y="1775.33" width="23.75" height="50.39" fill="#c3e0ed"/>
<rect x="1154.74" y="1775.33" width="12.03" height="50.39" fill="#b0d3e6"/>
<rect x="1166.46" y="1775.33" width="12.03" height="50.39" fill="#b5d7e8"/>
<rect x="1178.19" y="1775.33" width="12.03" height="50.39" fill="#a7cde3"/>
<rect x="1189.91" y="1775.33" width="12.03" height="50.39" fill="#d2eaf3"/>
<rect x="1201.64" y="1775.33" width="12.03" height="50.39" fill="#c3e0ed"/>
<rect x="1213.36" y="1775.33" width="12.03" height="50.39" fill="#98c4de"/>
<rect x="1225.09" y="1775.33" width="12.03" height="50.39" fill="#b0d3e6"/>
<rect x="1236.82" y="1775.33" width="12.03" height="50.39" fill="#b5d7e8"/>
<rect x="1248.54" y="1775.33" width="12.03" height="50.39" fill="#abd0e5"/>
<rect x="1260.27" y="1775.33" width="23.75" height="50.39" fill="#b5d7e8"/>
<rect x="1283.72" y="1775.33" width="12.03" height="50.39" fill="#98c4de"/>
<rect x="1295.44" y="1775.33" width="12.03" height="50.39" fill="#c8e3ef"/>
<rect x="1307.17" y="1775.33" width="12.03" height="50.39" fill="#abd0e5"/>
<rect x="1318.89" y="1775.33" width="12.03" height="50.39" fill="#a7cde3"/>
<rect x="1330.62" y="1775.33" width="12.03" height="50.39" fill="#c8e3ef"/>
<rect x="1342.34" y="1775.33" width="12.03" height="50.39" fill="#c3e0ed"/>
<rect x="1354.07" y="1775.33" width="12.03" height="50.39" fill="#a2cae1"/>
<rect x="1365.79" y="1775.33" width="12.03" height="50.39" fill="#b0d3e6"/>
<rect x="1377.52" y="1775.33" width="12.03" height="50.39" fill="#a7cde3"/>
<rect x="1389.25" y="1775.33" width="12.03" height="50.39" fill="#c8e3ef"/>
<rect x="1400.97" y="1775.33" width="12.03" height="50.39" fill="#a2cae1"/>
<rect x="1412.7" y="1775.33" width="12.03" height="50.39" fill="#a7cde3"/>
<rect x="1424.42" y="1775.33" width="12.03" height="50.39" fill="#d2eaf3"/>
<rect x="1436.15" y="1775.33" width="12.03" height="50.39" fill="#cde6f1"/>
<rect x="1447.87" y="1775.33" width="12.03" height="50.39" fill="#a2cae1"/>
<rect x="1459.6" y="1775.33" width="12.03" height="50.39" fill="#dbf0f6"/>
<rect x="1471.32" y="1775.33" width="12.03" height="50.39" fill="#e4f4f1"/>
<rect x="1483.05" y="1775.33" width="12.03" height="50.39" fill="#e2f4f5"/>
<rect x="1494.77" y="1775.33" width="12.03" height="50.39" fill="#dbf0f6"/>
<rect x="122.9" y="1825.42" width="12.03" height="50.39" fill="#cde6f1"/>
<rect x="134.63" y="1825.42" width="12.03" height="50.39" fill="#c3e0ed"/>
<rect x="146.35" y="1825.42" width="12.03" height="50.39" fill="#d6edf4"/>
<rect x="158.08" y="1825.42" width="12.03" height="50.39" fill="#c8e3ef"/>
<rect x="169.8" y="1825.42" width="12.03" height="50.39" fill="#e6f5ee"/>
<rect x="181.53" y="1825.42" width="12.03" height="50.39" fill="#d6edf4"/>
<rect x="193.25" y="1825.42" width="12.03" height="50.39" fill="#9dc7df"/>
<rect x="204.98" y="1825.42" width="12.03" height="50.39" fill="#b5d7e8"/>
<rect x="216.7" y="1825.42" width="12.03" height="50.39" fill="#abd0e5"/>
<rect x="228.43" y="1825.42" width="12.03" height="50.39" fill="#cde6f1"/>
<rect x="240.15" y="1825.42" width="12.03" height="50.39" fill="#d2eaf3"/>
<rect x="251.88" y="1825.42" width="12.03" height="50.39" fill="#9dc7df"/>
<rect x="263.61" y="1825.42" width="12.03" height="50.39" fill="#c8e3ef"/>
<rect x="275.33" y="1825.42" width="12.03" height="50.39" fill="#beddec"/>
<rect x="287.06" y="1825.42" width="12.03" height="50.39" fill="#dbf0f6"/>
<rect x="298.78" y="1825.42" width="12.03" height="50.39" fill="#d2eaf3"/>
<rect x="310.51" y="1825.42" width="12.03" height="50.39" fill="#cde6f1"/>
<rect x="322.23" y="1825.42" width="12.03" height="50.39" fill="#beddec"/>
<rect x="333.96" y="1825.42" width="12.03" height="50.39" fill="#b0d3e6"/>
<rect x="345.68" y="1825.42" width="12.03" height="50.39" fill="#e4f4f1"/>
<rect x="357.41" y="1825.42" width="12.03" height="50.39" fill="#dbf0f6"/>
<rect x="369.13" y="1825.42" width="12.03" height="50.39" fill="#d6edf4"/>
<rect x="380.86" y="1825.42" width="47.2" height="50.39" fill="#cde6f1"/>
<rect x="427.76" y="1825.42" width="12.03" height="50.39" fill="#badaea"/>
<rect x="439.49" y="1825.42" width="12.03" height="50.39" fill="#c8e3ef"/>
<rect x="451.21" y="1825.42" width="12.03" height="50.39" fill="#d2eaf3"/>
<rect x="462.94" y="1825.42" width="12.03" height="50.39" fill="#c3e0ed"/>
<rect x="474.66" y="1825.42" width="12.03" height="50.39" fill="#dbf0f6"/>
<rect x="486.39" y="1825.42" width="35.48" height="50.39" fill="#cde6f1"/>
<rect x="521.56" y="1825.42" width="12.03" height="50.39" fill="#d2eaf3"/>
<rect x="533.29" y="1825.42" width="12.03" height="50.39" fill="#c8e3ef"/>
<rect x="545.02" y="1825.42" width="23.75" height="50.39" fill="#cde6f1"/>
<rect x="568.47" y="1825.42" width="12.03" height="50.39" fill="#c8e3ef"/>
<rect x="580.19" y="1825.42" width="23.75" height="50.39" fill="#cde6f1"/>
<rect x="603.64" y="1825.42" width="12.03" height="50.39" fill="#d2eaf3"/>
<rect x="615.37" y="1825.42" width="12.03" height="50.39" fill="#dbf0f6"/>
<rect x="627.09" y="1825.42" width="23.75" height="50.39" fill="#d2eaf3"/>
<rect x="650.54" y="1825.42" width="12.03" height="50.39" fill="#c8e3ef"/>
<rect x="662.27" y="1825.42" width="47.2" height="50.39" fill="#d2eaf3"/>
<rect x="709.17" y="1825.42" width="23.75" height="50.39" fill="#cde6f1"/>
<rect x="732.62" y="1825.42" width="12.03" height="50.39" fill="#d2eaf3"/>
<rect x="744.35" y="1825.42" width="12.03" height="50.39" fill="#c8e3ef"/>
<rect x="756.07" y="1825.42" width="23.75" height="50.39" fill="#dbf0f6"/>
<rect x="779.52" y="1825.42" width="12.03" height="50.39" fill="#d6edf4"/>
<rect x="791.25" y="1825.42" width="12.03" height="50.39" fill="#cde6f1"/>
<rect x="802.97" y="1825.42" width="12.03" height="50.39" fill="#c8e3ef"/>
<rect x="814.7" y="1825.42" width="12.03" height="50.39" fill="#beddec"/>
<rect x="826.43" y="1825.42" width="12.03" height="50.39" fill="#cde6f1"/>
<rect x="838.15" y="1825.42" width="12.03" height="50.39" fill="#e0f3f8"/>
<rect x="849.88" y="1825.42" width="12.03" height="50.39" fill="#beddec"/>
<rect x="861.6" y="1825.42" width="12.03" height="50.39" fill="#c3e0ed"/>
<rect x="873.33" y="1825.42" width="12.03" height="50.39" fill="#d2eaf3"/>
<rect x="885.05" y="1825.42" width="23.75" height="50.39" fill="#cde6f1"/>
<rect x="908.5" y="1825.42" width="12.03" height="50.39" fill="#c8e3ef"/>
<rect x="920.23" y="1825.42" width="12.03" height="50.39" fill="#d2eaf3"/>
<rect x="931.95" y="1825.42" width="12.03" height="50.39" fill="#beddec"/>
<rect x="943.68" y="1825.42" width="12.03" height="50.39" fill="#b0d3e6"/>
<rect x="955.41" y="1825.42" width="12.03" height="50.39" fill="#dbf0f6"/>
<rect x="967.13" y="1825.42" width="12.03" height="50.39" fill="#cde6f1"/>
<rect x="978.86" y="1825.42" width="12.03" height="50.39" fill="#badaea"/>
<rect x="990.58" y="1825.42" width="12.03" height="50.39" fill="#b5d7e8"/>
<rect x="1002.31" y="1825.42" width="12.03" height="50.39" fill="#d2eaf3"/>
<rect x="1014.03" y="1825.42" width="12.03" height="50.39" fill="#d6edf4"/>
<rect x="1025.76" y="1825.42" width="12.03" height="50.39" fill="#cde6f1"/>
<rect x="1037.48" y="1825.42" width="12.03" height="50.39" fill="#c8e3ef"/>
<rect x="1049.21" y="1825.42" width="23.75" height="50.39" fill="#beddec"/>
<rect x="1072.66" y="1825.42" width="12.03" height="50.39" fill="#d2eaf3"/>
<rect x="1084.38" y="1825.42" width="12.03" height="50.39" fill="#beddec"/>
<rect x="1096.11" y="1825.42" width="12.03" height="50.39" fill="#d2eaf3"/>
<rect x="1107.84" y="1825.42" width="12.03" height="50.39" fill="#c8e3ef"/>
<rect x="1119.56" y="1825.42" width="12.03" height="50.39" fill="#c3e0ed"/>
<rect x="1131.29" y="1825.42" width="12.03" height="50.39" fill="#d2eaf3"/>
<rect x="1143.01" y="1825.42" width="12.03" height="50.39" fill="#cde6f1"/>
<rect x="1154.74" y="1825.42" width="12.03" height="50.39" fill="#c8e3ef"/>
<rect x="1166.46" y="1825.42" width="12.03" height="50.39" fill="#beddec"/>
<rect x="1178.19" y="1825.42" width="12.03" height="50.39" fill="#c8e3ef"/>
<rect x="1189.91" y="1825.42" width="12.03" height="50.39" fill="#cde6f1"/>
<rect x="1201.64" y="1825.42" width="12.03" height="50.39" fill="#c8e3ef"/>
<rect x="1213.36" y="1825.42" width="12.03" height="50.39" fill="#d2eaf3"/>
<rect x="1225.09" y="1825.42" width="12.03" height="50.39" fill="#beddec"/>
<rect x="1236.82" y="1825.42" width="12.03" height="50.39" fill="#dbf0f6"/>
<rect x="1248.54" y="1825.42" width="12.03" height="50.39" fill="#cde6f1"/>
<rect x="1260.27" y="1825.42" width="12.03" height="50.39" fill="#c3e0ed"/>
<rect x="1271.99" y="1825.42" width="12.03" height="50.39" fill="#beddec"/>
<rect x="1283.72" y="1825.42" width="12.03" height="50.39" fill="#c8e3ef"/>
<rect x="1295.44" y="1825.42" width="12.03" height="50.39" fill="#cde6f1"/>
<rect x="1307.17" y="1825.42" width="12.03" height="50.39" fill="#c3e0ed"/>
<rect x="1318.89" y="1825.42" width="12.03" height="50.39" fill="#cde6f1"/>
<rect x="1330.62" y="1825.42" width="12.03" height="50.39" fill="#beddec"/>
<rect x="1342.34" y="1825.42" width="12.03" height="50.39" fill="#cde6f1"/>
<rect x="1354.07" y="1825.42" width="12.03" height="50.39" fill="#beddec"/>
<rect x="1365.79" y="1825.42" width="12.03" height="50.39" fill="#badaea"/>
<rect x="1377.52" y="1825.42" width="12.03" height="50.39" fill="#c8e3ef"/>
<rect x="1389.25" y="1825.42" width="35.48" height="50.39" fill="#beddec"/>
<rect x="1424.42" y="1825.42" width="12.03" height="50.39" fill="#c3e0ed"/>
<rect x="1436.15" y="1825.42" width="12.03" height="50.39" fill="#9dc7df"/>
<rect x="1447.87" y="1825.42" width="12.03" height="50.39" fill="#abd0e5"/>
<rect x="1459.6" y="1825.42" width="12.03" height="50.39" fill="#9dc7df"/>
<rect x="1471.32" y="1825.42" width="23.75" height="50.39" fill="#d2eaf3"/>
<rect x="1494.77" y="1825.42" width="12.03" height="50.39" fill="#b5d7e8"/>
<rect x="122.9" y="1875.51" width="12.03" height="50.39" fill="#c8e3ef"/>
<rect x="134.63" y="1875.51" width="12.03" height="50.39" fill="#d2eaf3"/>
<rect x="146.35" y="1875.51" width="12.03" height="50.39" fill="#c8e3ef"/>
<rect x="158.08" y="1875.51" width="12.03" height="50.39" fill="#beddec"/>
<rect x="169.8" y="1875.51" width="12.03" height="50.39" fill="#c8e3ef"/>
<rect x="181.53" y="1875.51" width="12.03" height="50.39" fill="#dbf0f6"/>
<rect x="193.25" y="1875.51" width="12.03" height="50.39" fill="#badaea"/>
<rect x="204.98" y="1875.51" width="12.03" height="50.39" fill="#b0d3e6"/>
<rect x="216.7" y="1875.51" width="12.03" height="50.39" fill="#81afd3"/>
<rect x="228.43" y="1875.51" width="12.03" height="50.39" fill="#98c4de"/>
<rect x="240.15" y="1875.51" width="12.03" height="50.39" fill="#beddec"/>
<rect x="251.88" y="1875.51" width="12.03" height="50.39" fill="#b5d7e8"/>
<rect x="263.61" y="1875.51" width="12.03" height="50.39" fill="#beddec"/>
<rect x="275.33" y="1875.51" width="12.03" height="50.39" fill="#b0d3e6"/>
<rect x="287.06" y="1875.51" width="12.03" height="50.39" fill="#c3e0ed"/>
<rect x="298.78" y="1875.51" width="12.03" height="50.39" fill="#c8e3ef"/>
<rect x="310.51" y="1875.51" width="12.03" height="50.39" fill="#a7cde3"/>
<rect x="322.23" y="1875.51" width="23.75" height="50.39" fill="#b5d7e8"/>
<rect x="345.68" y="1875.51" width="12.03" height="50.39" fill="#e0f3f8"/>
<rect x="357.41" y="1875.51" width="12.03" height="50.39" fill="#d2eaf3"/>
<rect x="369.13" y="1875.51" width="12.03" height="50.39" fill="#badaea"/>
<rect x="380.86" y="1875.51" width="12.03" height="50.39" fill="#b0d3e6"/>
<rect x="392.58" y="1875.51" width="35.48" height="50.39" fill="#badaea"/>
<rect x="427.76" y="1875.51" width="12.03" height="50.39" fill="#b0d3e6"/>
<rect x="439.49" y="1875.51" width="12.03" height="50.39" fill="#badaea"/>
<rect x="451.21" y="1875.51" width="23.75" height="50.39" fill="#c3e0ed"/>
<rect x="474.66" y="1875.51" width="12.03" height="50.39" fill="#beddec"/>
<rect x="486.39" y="1875.51" width="12.03" height="50.39" fill="#badaea"/>
<rect x="498.11" y="1875.51" width="12.03" height="50.39" fill="#c3e0ed"/>
<rect x="509.84" y="1875.51" width="12.03" height="50.39" fill="#beddec"/>
<rect x="521.56" y="1875.51" width="12.03" height="50.39" fill="#badaea"/>
<rect x="533.29" y="1875.51" width="12.03" height="50.39" fill="#beddec"/>
<rect x="545.02" y="1875.51" width="12.03" height="50.39" fill="#b5d7e8"/>
<rect x="556.74" y="1875.51" width="12.03" height="50.39" fill="#beddec"/>
<rect x="568.47" y="1875.51" width="12.03" height="50.39" fill="#c3e0ed"/>
<rect x="580.19" y="1875.51" width="12.03" height="50.39" fill="#badaea"/>
<rect x="591.92" y="1875.51" width="12.03" height="50.39" fill="#c3e0ed"/>
<rect x="603.64" y="1875.51" width="23.75" height="50.39" fill="#c8e3ef"/>
<rect x="627.09" y="1875.51" width="12.03" height="50.39" fill="#badaea"/>
<rect x="638.82" y="1875.51" width="12.03" height="50.39" fill="#a7cde3"/>
<rect x="650.54" y="1875.51" width="12.03" height="50.39" fill="#beddec"/>
<rect x="662.27" y="1875.51" width="12.03" height="50.39" fill="#b0d3e6"/>
<rect x="673.99" y="1875.51" width="23.75" height="50.39" fill="#badaea"/>
<rect x="697.45" y="1875.51" width="12.03" height="50.39" fill="#d2eaf3"/>
<rect x="709.17" y="1875.51" width="12.03" height="50.39" fill="#c8e3ef"/>
<rect x="720.9" y="1875.51" width="12.03" height="50.39" fill="#badaea"/>
<rect x="732.62" y="1875.51" width="12.03" height="50.39" fill="#abd0e5"/>
<rect x="744.35" y="1875.51" width="12.03" height="50.39" fill="#c3e0ed"/>
<rect x="756.07" y="1875.51" width="12.03" height="50.39" fill="#badaea"/>
<rect x="767.8" y="1875.51" width="12.03" height="50.39" fill="#c8e3ef"/>
<rect x="779.52" y="1875.51" width="23.75" height="50.39" fill="#c3e0ed"/>
<rect x="802.97" y="1875.51" width="12.03" height="50.39" fill="#beddec"/>
<rect x="814.7" y="1875.51" width="12.03" height="50.39" fill="#abd0e5"/>
<rect x="826.43" y="1875.51" width="12.03" height="50.39" fill="#c8e3ef"/>
<rect x="838.15" y="1875.51" width="12.03" height="50.39" fill="#e6f5ee"/>
<rect x="849.88" y="1875.51" width="12.03" height="50.39" fill="#beddec"/>
<rect x="861.6" y="1875.51" width="12.03" height="50.39" fill="#dbf0f6"/>
<rect x="873.33" y="1875.51" width="12.03" height="50.39" fill="#c3e0ed"/>
<rect x="885.05" y="1875.51" width="12.03" height="50.39" fill="#beddec"/>
<rect x="896.78" y="1875.51" width="12.03" height="50.39" fill="#b0d3e6"/>
<rect x="908.5" y="1875.51" width="12.03" height="50.39" fill="#a7cde3"/>
<rect x="920.23" y="1875.51" width="12.03" height="50.39" fill="#9dc7df"/>
<rect x="931.95" y="1875.51" width="12.03" height="50.39" fill="#b0d3e6"/>
<rect x="943.68" y="1875.51" width="12.03" height="50.39" fill="#abd0e5"/>
<rect x="955.41" y="1875.51" width="12.03" height="50.39" fill="#b0d3e6"/>
<rect x="967.13" y="1875.51" width="12.03" height="50.39" fill="#a7cde3"/>
<rect x="978.86" y="1875.51" width="12.03" height="50.39" fill="#b0d3e6"/>
<rect x="990.58" y="1875.51" width="23.75" height="50.39" fill="#badaea"/>
<rect x="1014.03" y="1875.51" width="12.03" height="50.39" fill="#b0d3e6"/>
<rect x="1025.76" y="1875.51" width="12.03" height="50.39" fill="#b5d7e8"/>
<rect x="1037.48" y="1875.51" width="12.03" height="50.39" fill="#b0d3e6"/>
<rect x="1049.21" y="1875.51" width="12.03" height="50.39" fill="#badaea"/>
<rect x="1060.93" y="1875.51" width="12.03" height="50.39" fill="#c3e0ed"/>
<rect x="1072.66" y="1875.51" width="12.03" height="50.39" fill="#badaea"/>
<rect x="1084.38" y="1875.51" width="12.03" height="50.39" fill="#beddec"/>
<rect x="1096.11" y="1875.51" width="23.75" height="50.39" fill="#c3e0ed"/>
<rect x="1119.56" y="1875.51" width="12.03" height="50.39" fill="#beddec"/>
<rect x="1131.29" y="1875.51" width="12.03" height="50.39" fill="#badaea"/>
<rect x="1143.01" y="1875.51" width="12.03" height="50.39" fill="#b0d3e6"/>
<rect x="1154.74" y="1875.51" width="12.03" height="50.39" fill="#b5d7e8"/>
<rect x="1166.46" y="1875.51" width="12.03" height="50.39" fill="#b0d3e6"/>
<rect x="1178.19" y="1875.51" width="12.03" height="50.39" fill="#badaea"/>
<rect x="1189.91" y="1875.51" width="12.03" height="50.39" fill="#c3e0ed"/>
<rect x="1201.64" y="1875.51" width="12.03" height="50.39" fill="#beddec"/>
<rect x="1213.36" y="1875.51" width="12.03" height="50.39" fill="#c3e0ed"/>
<rect x="1225.09" y="1875.51" width="12.03" height="50.39" fill="#c8e3ef"/>
<rect x="1236.82" y="1875.51" width="12.03" height="50.39" fill="#b0d3e6"/>
<rect x="1248.54" y="1875.51" width="12.03" height="50.39" fill="#abd0e5"/>
<rect x="1260.27" y="1875.51" width="23.75" height="50.39" fill="#b0d3e6"/>
<rect x="1283.72" y="1875.51" width="12.03" height="50.39" fill="#b5d7e8"/>
<rect x="1295.44" y="1875.51" width="12.03" height="50.39" fill="#b0d3e6"/>
<rect x="1307.17" y="1875.51" width="12.03" height="50.39" fill="#badaea"/>
<rect x="1318.89" y="1875.51" width="35.48" height="50.39" fill="#b0d3e6"/>
<rect x="1354.07" y="1875.51" width="23.75" height="50.39" fill="#abd0e5"/>
<rect x="1377.52" y="1875.51" width="23.75" height="50.39" fill="#b0d3e6"/>
<rect x="1400.97" y="1875.51" width="12.03" height="50.39" fill="#abd0e5"/>
<rect x="1412.7" y="1875.51" width="12.03" height="50.39" fill="#b0d3e6"/>
<rect x="1424.42" y="1875.51" width="12.03" height="50.39" fill="#b5d7e8"/>
<rect x="1436.15" y="1875.51" width="12.03" height="50.39" fill="#9dc7df"/>
<rect x="1447.87" y="1875.51" width="12.03" height="50.39" fill="#93c1dc"/>
<rect x="1459.6" y="1875.51" width="12.03" height="50.39" fill="#abd0e5"/>
<rect x="1471.32" y="1875.51" width="12.03" height="50.39" fill="#badaea"/>
<rect x="1483.05" y="1875.51" width="12.03" height="50.39" fill="#b0d3e6"/>
<rect x="1494.77" y="1875.51" width="12.03" height="50.39" fill="#b5d7e8"/>
</g>
<path d="M122.9 122.4V1925.6M134.63 122.4V1925.6M146.35 122.4V1925.6M158.08 122.4V1925.6M169.8 122.4V1925.6M181.53 122.4V1925.6M193.25 122.4V1925.6M204.98 122.4V1925.6M216.7 122.4V1925.6M228.43 122.4V1925.6M240.15 122.4V1925.6M251.88 122.4V1925.6M263.61 122.4V1925.6M275.33 122.4V1925.6M287.06 122.4V1925.6M298.78 122.4V1925.6M310.51 122.4V1925.6M322.23 122.4V1925.6M333.96 122.4V1925.6M345.68 122.4V1925.6M357.41 122.4V1925.6M369.13 122.4V1925.6M380.86 122.4V1925.6M392.58 122.4V1925.6M404.31 122.4V1925.6M416.04 122.4V1925.6M427.76 122.4V1925.6M439.49 122.4V1925.6M451.21 122.4V1925.6M462.94 122.4V1925.6M474.66 122.4V1925.6M486.39 122.4V1925.6M498.11 122.4V1925.6M509.84 122.4V1925.6M521.56 122.4V1925.6M533.29 122.4V1925.6M545.02 122.4V1925.6M556.74 122.4V1925.6M568.47 122.4V1925.6M580.19 122.4V1925.6M591.92 122.4V1925.6M603.64 122.4V1925.6M615.37 122.4V1925.6M627.09 122.4V1925.6M638.82 122.4V1925.6M650.54 122.4V1925.6M662.27 122.4V1925.6M673.99 122.4V1925.6M685.72 122.4V1925.6M697.45 122.4V1925.6M709.17 122.4V1925.6M720.9 122.4V1925.6M732.62 122.4V1925.6M744.35 122.4V1925.6M756.07 122.4V1925.6M767.8 122.4V1925.6M779.52 122.4V1925.6M791.25 122.4V1925.6M802.97 122.4V1925.6M814.7 122.4V1925.6M826.43 122.4V1925.6M838.15 122.4V1925.6M849.88 122.4V1925.6M861.6 122.4V1925.6M873.33 122.4V1925.6M885.05 122.4V1925.6M896.78 122.4V1925.6M908.5 122.4V1925.6M920.23 122.4V1925.6M931.95 122.4V1925.6M943.68 122.4V1925.6M955.41 122.4V1925.6M967.13 122.4V1925.6M978.86 122.4V1925.6M990.58 122.4V1925.6M1002.31 122.4V1925.6M1014.03 122.4V1925.6M1025.76 122.4V1925.6M1037.48 122.4V1925.6M1049.21 122.4V1925.6M1060.93 122.4V1925.6M1072.66 122.4V1925.6M1084.38 122.4V1925.6M1096.11 122.4V1925.6M1107.84 122.4V1925.6M1119.56 122.4V1925.6M1131.29 122.4V1925.6M1143.01 122.4V1925.6M1154.74 122.4V1925.6M1166.46 122.4V1925.6M1178.19 122.4V1925.6M1189.91 122.4V1925.6M1201.64 122.4V1925.6M1213.36 122.4V1925.6M1225.09 122.4V1925.6M1236.82 122.4V1925.6M1248.54 122.4V1925.6M1260.27 122.4V1925.6M1271.99 122.4V1925.6M1283.72 122.4V1925.6M1295.44 122.4V1925.6M1307.17 122.4V1925.6M1318.89 122.4V1925.6M1330.62 122.4V1925.6M1342.34 122.4V1925.6M1354.07 122.4V1925.6M1365.79 122.4V1925.6M1377.52 122.4V1925.6M1389.25 122.4V1925.6M1400.97 122.4V1925.6M1412.7 122.4V1925.6M1424.42 122.4V1925.6M1436.15 122.4V1925.6M1447.87 122.4V1925.6M1459.6 122.4V1925.6M1471.32 122.4V1925.6M1483.05 122.4V1925.6M1494.77 122.4V1925.6M1506.5 122.4V1925.6M122.9 122.4H1506.5M122.9 172.49H1506.5M122.9 222.58H1506.5M122.9 272.67H1506.5M122.9 322.76H1506.5M122.9 372.84H1506.5M122.9 422.93H1506.5M122.9 473.02H1506.5M122.9 523.11H1506.5M122.9 573.2H1506.5M122.9 623.29H1506.5M122.9 673.38H1506.5M122.9 723.47H1506.5M122.9 773.56H1506.5M122.9 823.64H1506.5M122.9 873.73H1506.5M122.9 923.82H1506.5M122.9 973.91H1506.5M122.9 1024H1506.5M122.9 1074.09H1506.5M122.9 1124.18H1506.5M122.9 1174.27H1506.5M122.9 1224.36H1506.5M122.9 1274.44H1506.5M122.9 1324.53H1506.5M122.9 1374.62H1506.5M122.9 1424.71H1506.5M122.9 1474.8H1506.5M122.9 1524.89H1506.5M122.9 1574.98H1506.5M122.9 1625.07H1506.5M122.9 1675.16H1506.5M122.9 1725.24H1506.5M122.9 1775.33H1506.5M122.9 1825.42H1506.5M122.9 1875.51H1506.5M122.9 1925.6H1506.5" stroke="#979797" stroke-width="1.8" fill="none"/>
<path d="M128.76 121.2V53.2H140.49V121.2M175.66 121.2V78.4H187.39V121.2M163.94 121.2V45H181.53V78.4M152.21 121.2V27.7H172.73V45M134.63 53.2V22.3H162.47V27.7M222.57 121.2V56.1H234.29V121.2M210.84 121.2V48H228.43V56.1M269.47 121.2V61.9H281.19V121.2M257.74 121.2V49.8H275.33V61.9M292.92 121.2V42.3H304.64V121.2M328.09 121.2V73.5H339.82V121.2M316.37 121.2V55H333.96V73.5M363.27 121.2V69.1H375V121.2M351.55 121.2V62.6H369.13V69.1M410.17 121.2V65.3H421.9V121.2M445.35 121.2V72.8H457.07V121.2M433.62 121.2V68.7H451.21V72.8M492.25 121.2V78.4H503.98V121.2M480.53 121.2V71H498.11V78.4M468.8 121.2V67H489.32V71M527.43 121.2V83H539.15V121.2M550.88 121.2V74.4H562.6V121.2M533.29 83V72.8H556.74V74.4M586.05 121.2V83H597.78V121.2M574.33 121.2V75.7H591.92V83M621.23 121.2V77.9H632.96V121.2M609.51 121.2V73.6H627.09V77.9M583.12 75.7V70H618.3V73.6M545.02 72.8V67.8H600.71V70M515.7 121.2V64.1H572.86V67.8M479.06 67V62H544.28V64.1M442.42 68.7V58.2H511.67V62M416.04 65.3V53.7H477.04V58.2M398.45 121.2V52.6H446.54V53.7M386.72 121.2V51.9H422.49V52.6M360.34 62.6V50.9H404.61V51.9M325.16 55V46.8H382.47V50.9M668.13 121.2V66.9H679.86V121.2M656.41 121.2V57.8H673.99V66.9M644.68 121.2V52.8H665.2V57.8M691.58 121.2V70.3H703.31V121.2M726.76 121.2V81.5H738.48V121.2M715.03 121.2V72.3H732.62V81.5M761.94 121.2V76.9H773.66V121.2M750.21 121.2V68.2H767.8V76.9M723.83 72.3V58.4H759V68.2M808.84 121.2V79.3H820.56V121.2M797.11 121.2V65H814.7V79.3M785.39 121.2V63.2H805.91V65M855.74 121.2V79H867.46V121.2M844.01 121.2V69.9H861.6V79M890.92 121.2V74.8H902.64V121.2M879.19 121.2V69.6H896.78V74.8M852.81 69.9V62.9H887.98V69.6M832.29 121.2V59.8H870.4V62.9M795.65 63.2V55.5H851.34V59.8M741.42 58.4V52.6H823.49V55.5M914.37 121.2V79.9H926.09V121.2M949.54 121.2V77.3H961.27V121.2M937.82 121.2V69.9H955.41V77.3M920.23 79.9V67H946.61V69.9M972.99 121.2V73.2H984.72V121.2M996.44 121.2V68H1008.17V121.2M978.86 73.2V63.7H1002.31V68M1031.62 121.2V84.8H1043.35V121.2M1090.25 121.2V83.5H1101.97V121.2M1078.52 121.2V81.6H1096.11V83.5M1066.8 121.2V73.9H1087.32V81.6M1055.07 121.2V72.8H1077.06V73.9M1037.48 84.8V71H1066.06V72.8M1019.89 121.2V67.3H1051.77V71M1137.15 121.2V88.1H1148.87V121.2M1125.42 121.2V81.6H1143.01V88.1M1113.7 121.2V69.6H1134.22V81.6M1172.33 121.2V90.1H1184.05V121.2M1160.6 121.2V87.5H1178.19V90.1M1195.78 121.2V85.1H1207.5V121.2M1169.39 87.5V81.4H1201.64V85.1M1219.23 121.2V79.3H1230.95V121.2M1185.52 81.4V76.2H1225.09V79.3M1242.68 121.2V84.4H1254.4V121.2M1277.85 121.2V83.9H1289.58V121.2M1266.13 121.2V79.9H1283.72V83.9M1248.54 84.4V74.4H1274.92V79.9M1205.3 76.2V73.5H1261.73V74.4M1313.03 121.2V84.1H1324.76V121.2M1301.31 121.2V73.2H1318.89V84.1M1233.52 73.5V69.1H1310.1V73.2M1123.96 69.6V63.9H1271.81V69.1M1035.83 67.3V62.3H1197.88V63.9M1359.93 121.2V81.6H1371.66V121.2M1348.21 121.2V73.2H1365.79V81.6M1336.48 121.2V67.1H1357V73.2M1395.11 121.2V76.2H1406.83V121.2M1418.56 121.2V74.8H1430.28V121.2M1400.97 76.2V70.8H1424.42V74.8M1383.38 121.2V62.8H1412.7V70.8M1346.74 67.1V62H1398.04V62.8M1116.86 62.3V54.8H1372.39V62M990.58 63.7V51.2H1244.62V54.8M933.42 67V48.8H1117.6V51.2M782.46 52.6V46.4H1025.51V48.8M697.45 70.3V43.9H903.98V46.4M654.94 52.8V40.6H800.71V43.9M353.82 46.8V39.4H727.83V40.6M298.78 42.3V31.5H540.82V39.4M266.54 49.8V28.5H419.8V31.5M246.02 121.2V27.7H343.17V28.5M219.63 48V21.8H294.59V27.7M199.12 121.2V14.6H257.11V21.8M148.55 22.3V13.2H228.11V14.6M1488.91 121.2V73.9H1500.64V121.2M1477.19 121.2V67.7H1494.77V73.9M1465.46 121.2V55.5H1485.98V67.7M1453.74 121.2V31.9H1475.72V55.5M1442.01 121.2V11.4H1464.73V31.9M188.33 13.2V2.1H1453.37V11.4" stroke="#000" stroke-width="1.8" fill="none" stroke-linecap="square"/>
<path d="M121.6 197.53H99.4V247.62H121.6M121.6 297.71H97.3V347.8H121.6M99.4 222.58H90.6V322.76H97.3M121.6 147.44H70.25V272.67H90.6M121.6 498.07H110.8V548.16H121.6M121.6 748.51H114.4V798.6H121.6M121.6 698.42H112.3V773.56H114.4M121.6 848.69H110.5V898.78H121.6M112.3 735.99H109.6V873.73H110.5M121.6 648.33H106.6V804.86H109.6M121.6 598.24H105.5V726.6H106.6M110.8 523.11H104.4V662.42H105.5M121.6 447.98H100.8V592.77H104.4M121.6 397.89H99.3V520.37H100.8M121.6 1249.4H115.3V1299.49H121.6M121.6 1199.31H111V1274.44H115.3M121.6 1149.22H108.7V1236.88H111M121.6 1099.13H99.7V1193.05H108.7M121.6 1049.04H99.1V1146.09H99.7M121.6 998.96H96.2V1097.57H99.1M121.6 948.87H94.7V1048.26H96.2M99.3 459.13H88.7V998.56H94.7M121.6 1399.67H109.2V1449.76H121.6M121.6 1549.93H110.4V1600.02H121.6M121.6 1499.84H108.8V1574.98H110.4M109.2 1424.71H98.8V1537.41H108.8M121.6 1700.2H105.7V1750.29H121.6M121.6 1850.47H107.6V1900.56H121.6M121.6 1800.38H103.6V1875.51H107.6M105.7 1725.24H101.8V1837.94H103.6M121.6 1650.11H92.2V1781.59H101.8M98.8 1481.06H83.8V1715.85H92.2M121.6 1349.58H67.9V1598.46H83.8M88.7 728.85H46.9V1474.02H67.9M70.25 210.06H2.5V1101.43H46.9" stroke="#000" stroke-width="1.8" fill="none" stroke-linecap="square"/>
<text x="1513.5" y="152.84" font-size="13.5" textLength="53.7" lengthAdjust="spacingAndGlyphs">metabo3</text>
<text x="1513.5" y="202.93" font-size="13.5" textLength="61.3" lengthAdjust="spacingAndGlyphs">metabo12</text>
<text x="1513.5" y="253.02" font-size="13.5" textLength="61.3" lengthAdjust="spacingAndGlyphs">metabo33</text>
<text x="1513.5" y="303.11" font-size="13.5" textLength="53.7" lengthAdjust="spacingAndGlyphs">metabo1</text>
<text x="1513.5" y="353.2" font-size="13.5" textLength="61.3" lengthAdjust="spacingAndGlyphs">metabo14</text>
<text x="1513.5" y="403.29" font-size="13.5" textLength="61.3" lengthAdjust="spacingAndGlyphs">metabo16</text>
<text x="1513.5" y="453.38" font-size="13.5" textLength="61.3" lengthAdjust="spacingAndGlyphs">metabo32</text>
<text x="1513.5" y="503.47" font-size="13.5" textLength="53.7" lengthAdjust="spacingAndGlyphs">metabo2</text>
<text x="1513.5" y="553.56" font-size="13.5" textLength="61.3" lengthAdjust="spacingAndGlyphs">metabo10</text>
<text x="1513.5" y="603.64" font-size="13.5" textLength="61.3" lengthAdjust="spacingAndGlyphs">metabo27</text>
<text x="1513.5" y="653.73" font-size="13.5" textLength="53.7" lengthAdjust="spacingAndGlyphs">metabo8</text>
<text x="1513.5" y="703.82" font-size="13.5" textLength="61.3" lengthAdjust="spacingAndGlyphs">metabo18</text>
<text x="1513.5" y="753.91" font-size="13.5" textLength="53.7" lengthAdjust="spacingAndGlyphs">metabo5</text>
<text x="1513.5" y="804" font-size="13.5" textLength="61.3" lengthAdjust="spacingAndGlyphs">metabo21</text>
<text x="1513.5" y="854.09" font-size="13.5" textLength="61.3" lengthAdjust="spacingAndGlyphs">metabo11</text>
<text x="1513.5" y="904.18" font-size="13.5" textLength="61.3" lengthAdjust="spacingAndGlyphs">metabo13</text>
<text x="1513.5" y="954.27" font-size="13.5" textLength="53.7" lengthAdjust="spacingAndGlyphs">metabo6</text>
<text x="1513.5" y="1004.36" font-size="13.5" textLength="61.3" lengthAdjust="spacingAndGlyphs">metabo35</text>
<text x="1513.5" y="1054.44" font-size="13.5" textLength="61.3" lengthAdjust="spacingAndGlyphs">metabo15</text>
<text x="1513.5" y="1104.53" font-size="13.5" textLength="61.3" lengthAdjust="spacingAndGlyphs">metabo17</text>
<text x="1513.5" y="1154.62" font-size="13.5" textLength="53.7" lengthAdjust="spacingAndGlyphs">metabo4</text>
<text x="1513.5" y="1204.71" font-size="13.5" textLength="53.7" lengthAdjust="spacingAndGlyphs">metabo9</text>
<text x="1513.5" y="1254.8" font-size="13.5" textLength="53.7" lengthAdjust="spacingAndGlyphs">metabo7</text>
<text x="1513.5" y="1304.89" font-size="13.5" textLength="61.3" lengthAdjust="spacingAndGlyphs">metabo25</text>
<text x="1513.5" y="1354.98" font-size="13.5" textLength="61.3" lengthAdjust="spacingAndGlyphs">metabo20</text>
<text x="1513.5" y="1405.07" font-size="13.5" textLength="61.3" lengthAdjust="spacingAndGlyphs">metabo23</text>
<text x="1513.5" y="1455.16" font-size="13.5" textLength="61.3" lengthAdjust="spacingAndGlyphs">metabo24</text>
<text x="1513.5" y="1505.24" font-size="13.5" textLength="61.3" lengthAdjust="spacingAndGlyphs">metabo26</text>
<text x="1513.5" y="1555.33" font-size="13.5" textLength="61.3" lengthAdjust="spacingAndGlyphs">metabo19</text>
<text x="1513.5" y="1605.42" font-size="13.5" textLength="61.3" lengthAdjust="spacingAndGlyphs">metabo22</text>
<text x="1513.5" y="1655.51" font-size="13.5" textLength="61.3" lengthAdjust="spacingAndGlyphs">metabo34</text>
<text x="1513.5" y="1705.6" font-size="13.5" textLength="61.3" lengthAdjust="spacingAndGlyphs">metabo28</text>
<text x="1513.5" y="1755.69" font-size="13.5" textLength="61.3" lengthAdjust="spacingAndGlyphs">metabo30</text>
<text x="1513.5" y="1805.78" font-size="13.5" textLength="61.3" lengthAdjust="spacingAndGlyphs">metabo31</text>
<text x="1513.5" y="1855.87" font-size="13.5" textLength="61.3" lengthAdjust="spacingAndGlyphs">metabo29</text>
<text x="1513.5" y="1905.96" font-size="13.5" textLength="61.3" lengthAdjust="spacingAndGlyphs">metabo36</text>
<text transform="translate(123.86 1932.8) rotate(90)" font-size="14.4" textLength="40.2" lengthAdjust="spacingAndGlyphs">X15_1</text>
<text transform="translate(135.59 1932.8) rotate(90)" font-size="14.4" textLength="40.2" lengthAdjust="spacingAndGlyphs">X49_1</text>
<text transform="translate(147.31 1932.8) rotate(90)" font-size="14.4" textLength="40.2" lengthAdjust="spacingAndGlyphs">X30_2</text>
<text transform="translate(159.04 1932.8) rotate(90)" font-size="14.4" textLength="40.2" lengthAdjust="spacingAndGlyphs">X19_2</text>
<text transform="translate(170.76 1932.8) rotate(90)" font-size="14.4" textLength="40.2" lengthAdjust="spacingAndGlyphs">X29_2</text>
<text transform="translate(182.49 1932.8) rotate(90)" font-size="14.4" textLength="40.2" lengthAdjust="spacingAndGlyphs">X49_2</text>
<text transform="translate(194.22 1932.8) rotate(90)" font-size="14.4" textLength="40.2" lengthAdjust="spacingAndGlyphs">X28_2</text>
<text transform="translate(205.94 1932.8) rotate(90)" font-size="14.4" textLength="40.2" lengthAdjust="spacingAndGlyphs">X03_1</text>
<text transform="translate(217.67 1932.8) rotate(90)" font-size="14.4" textLength="40.2" lengthAdjust="spacingAndGlyphs">X04_1</text>
<text transform="translate(229.39 1932.8) rotate(90)" font-size="14.4" textLength="40.2" lengthAdjust="spacingAndGlyphs">X55_1</text>
<text transform="translate(241.12 1932.8) rotate(90)" font-size="14.4" textLength="40.2" lengthAdjust="spacingAndGlyphs">X43_2</text>
<text transform="translate(252.84 1932.8) rotate(90)" font-size="14.4" textLength="40.2" lengthAdjust="spacingAndGlyphs">X06_1</text>
<text transform="translate(264.57 1932.8) rotate(90)" font-size="14.4" textLength="40.2" lengthAdjust="spacingAndGlyphs">X36_1</text>
<text transform="translate(276.29 1932.8) rotate(90)" font-size="14.4" textLength="40.2" lengthAdjust="spacingAndGlyphs">X48_1</text>
<text transform="translate(288.02 1932.8) rotate(90)" font-size="14.4" textLength="40.2" lengthAdjust="spacingAndGlyphs">X27_2</text>
<text transform="translate(299.74 1932.8) rotate(90)" font-size="14.4" textLength="40.2" lengthAdjust="spacingAndGlyphs">X54_2</text>
<text transform="translate(311.47 1932.8) rotate(90)" font-size="14.4" textLength="40.2" lengthAdjust="spacingAndGlyphs">X42_1</text>
<text transform="translate(323.19 1932.8) rotate(90)" font-size="14.4" textLength="40.2" lengthAdjust="spacingAndGlyphs">X18_1</text>
<text transform="translate(334.92 1932.8) rotate(90)" font-size="14.4" textLength="40.2" lengthAdjust="spacingAndGlyphs">X56_1</text>
<text transform="translate(346.65 1932.8) rotate(90)" font-size="14.4" textLength="40.2" lengthAdjust="spacingAndGlyphs">X51_2</text>
<text transform="translate(358.37 1932.8) rotate(90)" font-size="14.4" textLength="40.2" lengthAdjust="spacingAndGlyphs">X25_2</text>
<text transform="translate(370.1 1932.8) rotate(90)" font-size="14.4" textLength="40.2" lengthAdjust="spacingAndGlyphs">X42_2</text>
<text transform="translate(381.82 1932.8) rotate(90)" font-size="14.4" textLength="40.2" lengthAdjust="spacingAndGlyphs">X35_2</text>
<text transform="translate(393.55 1932.8) rotate(90)" font-size="14.4" textLength="40.2" lengthAdjust="spacingAndGlyphs">X05_2</text>
<text transform="translate(405.27 1932.8) rotate(90)" font-size="14.4" textLength="40.2" lengthAdjust="spacingAndGlyphs">X04_2</text>
<text transform="translate(417 1932.8) rotate(90)" font-size="14.4" textLength="40.2" lengthAdjust="spacingAndGlyphs">X52_2</text>
<text transform="translate(428.72 1932.8) rotate(90)" font-size="14.4" textLength="40.2" lengthAdjust="spacingAndGlyphs">X48_2</text>
<text transform="translate(440.45 1932.8) rotate(90)" font-size="14.4" textLength="40.2" lengthAdjust="spacingAndGlyphs">X01_2</text>
<text transform="translate(452.17 1932.8) rotate(90)" font-size="14.4" textLength="40.2" lengthAdjust="spacingAndGlyphs">X23_2</text>
<text transform="translate(463.9 1932.8) rotate(90)" font-size="14.4" textLength="40.2" lengthAdjust="spacingAndGlyphs">X10_2</text>
<text transform="translate(475.63 1932.8) rotate(90)" font-size="14.4" textLength="40.2" lengthAdjust="spacingAndGlyphs">X36_2</text>
<text transform="translate(487.35 1932.8) rotate(90)" font-size="14.4" textLength="40.2" lengthAdjust="spacingAndGlyphs">X02_2</text>
<text transform="translate(499.08 1932.8) rotate(90)" font-size="14.4" textLength="40.2" lengthAdjust="spacingAndGlyphs">X33_2</text>
<text transform="translate(510.8 1932.8) rotate(90)" font-size="14.4" textLength="40.2" lengthAdjust="spacingAndGlyphs">X55_2</text>
<text transform="translate(522.53 1932.8) rotate(90)" font-size="14.4" textLength="40.2" lengthAdjust="spacingAndGlyphs">X07_2</text>
<text transform="translate(534.25 1932.8) rotate(90)" font-size="14.4" textLength="40.2" lengthAdjust="spacingAndGlyphs">X37_2</text>
<text transform="translate(545.98 1932.8) rotate(90)" font-size="14.4" textLength="40.2" lengthAdjust="spacingAndGlyphs">X32_2</text>
<text transform="translate(557.7 1932.8) rotate(90)" font-size="14.4" textLength="40.2" lengthAdjust="spacingAndGlyphs">X34_2</text>
<text transform="translate(569.43 1932.8) rotate(90)" font-size="14.4" textLength="40.2" lengthAdjust="spacingAndGlyphs">X24_2</text>
<text transform="translate(581.15 1932.8) rotate(90)" font-size="14.4" textLength="40.2" lengthAdjust="spacingAndGlyphs">X15_2</text>
<text transform="translate(592.88 1932.8) rotate(90)" font-size="14.4" textLength="40.2" lengthAdjust="spacingAndGlyphs">X44_2</text>
<text transform="translate(604.61 1932.8) rotate(90)" font-size="14.4" textLength="40.2" lengthAdjust="spacingAndGlyphs">X08_2</text>
<text transform="translate(616.33 1932.8) rotate(90)" font-size="14.4" textLength="40.2" lengthAdjust="spacingAndGlyphs">X17_2</text>
<text transform="translate(628.06 1932.8) rotate(90)" font-size="14.4" textLength="40.2" lengthAdjust="spacingAndGlyphs">X41_2</text>
<text transform="translate(639.78 1932.8) rotate(90)" font-size="14.4" textLength="40.2" lengthAdjust="spacingAndGlyphs">X31_2</text>
<text transform="translate(651.51 1932.8) rotate(90)" font-size="14.4" textLength="40.2" lengthAdjust="spacingAndGlyphs">X50_2</text>
<text transform="translate(663.23 1932.8) rotate(90)" font-size="14.4" textLength="40.2" lengthAdjust="spacingAndGlyphs">X45_1</text>
<text transform="translate(674.96 1932.8) rotate(90)" font-size="14.4" textLength="40.2" lengthAdjust="spacingAndGlyphs">X45_2</text>
<text transform="translate(686.68 1932.8) rotate(90)" font-size="14.4" textLength="40.2" lengthAdjust="spacingAndGlyphs">X20_1</text>
<text transform="translate(698.41 1932.8) rotate(90)" font-size="14.4" textLength="40.2" lengthAdjust="spacingAndGlyphs">X20_2</text>
<text transform="translate(710.13 1932.8) rotate(90)" font-size="14.4" textLength="40.2" lengthAdjust="spacingAndGlyphs">X06_2</text>
<text transform="translate(721.86 1932.8) rotate(90)" font-size="14.4" textLength="40.2" lengthAdjust="spacingAndGlyphs">X40_2</text>
<text transform="translate(733.58 1932.8) rotate(90)" font-size="14.4" textLength="40.2" lengthAdjust="spacingAndGlyphs">X59_2</text>
<text transform="translate(745.31 1932.8) rotate(90)" font-size="14.4" textLength="40.2" lengthAdjust="spacingAndGlyphs">X18_2</text>
<text transform="translate(757.04 1932.8) rotate(90)" font-size="14.4" textLength="40.2" lengthAdjust="spacingAndGlyphs">X16_2</text>
<text transform="translate(768.76 1932.8) rotate(90)" font-size="14.4" textLength="40.2" lengthAdjust="spacingAndGlyphs">X47_2</text>
<text transform="translate(780.49 1932.8) rotate(90)" font-size="14.4" textLength="40.2" lengthAdjust="spacingAndGlyphs">X09_2</text>
<text transform="translate(792.21 1932.8) rotate(90)" font-size="14.4" textLength="40.2" lengthAdjust="spacingAndGlyphs">X58_2</text>
<text transform="translate(803.94 1932.8) rotate(90)" font-size="14.4" textLength="40.2" lengthAdjust="spacingAndGlyphs">X14_2</text>
<text transform="translate(815.66 1932.8) rotate(90)" font-size="14.4" textLength="40.2" lengthAdjust="spacingAndGlyphs">X26_2</text>
<text transform="translate(827.39 1932.8) rotate(90)" font-size="14.4" textLength="40.2" lengthAdjust="spacingAndGlyphs">X56_2</text>
<text transform="translate(839.11 1932.8) rotate(90)" font-size="14.4" textLength="40.2" lengthAdjust="spacingAndGlyphs">X46_2</text>
<text transform="translate(850.84 1932.8) rotate(90)" font-size="14.4" textLength="40.2" lengthAdjust="spacingAndGlyphs">X12_2</text>
<text transform="translate(862.56 1932.8) rotate(90)" font-size="14.4" textLength="40.2" lengthAdjust="spacingAndGlyphs">X57_2</text>
<text transform="translate(874.29 1932.8) rotate(90)" font-size="14.4" textLength="40.2" lengthAdjust="spacingAndGlyphs">X13_2</text>
<text transform="translate(886.02 1932.8) rotate(90)" font-size="14.4" textLength="40.2" lengthAdjust="spacingAndGlyphs">X11_2</text>
<text transform="translate(897.74 1932.8) rotate(90)" font-size="14.4" textLength="40.2" lengthAdjust="spacingAndGlyphs">X53_2</text>
<text transform="translate(909.47 1932.8) rotate(90)" font-size="14.4" textLength="40.2" lengthAdjust="spacingAndGlyphs">X27_1</text>
<text transform="translate(921.19 1932.8) rotate(90)" font-size="14.4" textLength="40.2" lengthAdjust="spacingAndGlyphs">X59_1</text>
<text transform="translate(932.92 1932.8) rotate(90)" font-size="14.4" textLength="40.2" lengthAdjust="spacingAndGlyphs">X21_1</text>
<text transform="translate(944.64 1932.8) rotate(90)" font-size="14.4" textLength="40.2" lengthAdjust="spacingAndGlyphs">X13_1</text>
<text transform="translate(956.37 1932.8) rotate(90)" font-size="14.4" textLength="40.2" lengthAdjust="spacingAndGlyphs">X43_1</text>
<text transform="translate(968.09 1932.8) rotate(90)" font-size="14.4" textLength="40.2" lengthAdjust="spacingAndGlyphs">X17_1</text>
<text transform="translate(979.82 1932.8) rotate(90)" font-size="14.4" textLength="40.2" lengthAdjust="spacingAndGlyphs">X22_1</text>
<text transform="translate(991.54 1932.8) rotate(90)" font-size="14.4" textLength="40.2" lengthAdjust="spacingAndGlyphs">X28_1</text>
<text transform="translate(1003.27 1932.8) rotate(90)" font-size="14.4" textLength="40.2" lengthAdjust="spacingAndGlyphs">X51_1</text>
<text transform="translate(1014.99 1932.8) rotate(90)" font-size="14.4" textLength="40.2" lengthAdjust="spacingAndGlyphs">X16_1</text>
<text transform="translate(1026.72 1932.8) rotate(90)" font-size="14.4" textLength="40.2" lengthAdjust="spacingAndGlyphs">X54_1</text>
<text transform="translate(1038.45 1932.8) rotate(90)" font-size="14.4" textLength="40.2" lengthAdjust="spacingAndGlyphs">X57_1</text>
<text transform="translate(1050.17 1932.8) rotate(90)" font-size="14.4" textLength="40.2" lengthAdjust="spacingAndGlyphs">X24_1</text>
<text transform="translate(1061.9 1932.8) rotate(90)" font-size="14.4" textLength="40.2" lengthAdjust="spacingAndGlyphs">X10_1</text>
<text transform="translate(1073.62 1932.8) rotate(90)" font-size="14.4" textLength="40.2" lengthAdjust="spacingAndGlyphs">X30_1</text>
<text transform="translate(1085.35 1932.8) rotate(90)" font-size="14.4" textLength="40.2" lengthAdjust="spacingAndGlyphs">X44_1</text>
<text transform="translate(1097.07 1932.8) rotate(90)" font-size="14.4" textLength="40.2" lengthAdjust="spacingAndGlyphs">X58_1</text>
<text transform="translate(1108.8 1932.8) rotate(90)" font-size="14.4" textLength="40.2" lengthAdjust="spacingAndGlyphs">X41_1</text>
<text transform="translate(1120.52 1932.8) rotate(90)" font-size="14.4" textLength="40.2" lengthAdjust="spacingAndGlyphs">X29_1</text>
<text transform="translate(1132.25 1932.8) rotate(90)" font-size="14.4" textLength="40.2" lengthAdjust="spacingAndGlyphs">X08_1</text>
<text transform="translate(1143.97 1932.8) rotate(90)" font-size="14.4" textLength="40.2" lengthAdjust="spacingAndGlyphs">X23_1</text>
<text transform="translate(1155.7 1932.8) rotate(90)" font-size="14.4" textLength="40.2" lengthAdjust="spacingAndGlyphs">X01_1</text>
<text transform="translate(1167.43 1932.8) rotate(90)" font-size="14.4" textLength="40.2" lengthAdjust="spacingAndGlyphs">X14_1</text>
<text transform="translate(1179.15 1932.8) rotate(90)" font-size="14.4" textLength="40.2" lengthAdjust="spacingAndGlyphs">X46_1</text>
<text transform="translate(1190.88 1932.8) rotate(90)" font-size="14.4" textLength="40.2" lengthAdjust="spacingAndGlyphs">X11_1</text>
<text transform="translate(1202.6 1932.8) rotate(90)" font-size="14.4" textLength="40.2" lengthAdjust="spacingAndGlyphs">X52_1</text>
<text transform="translate(1214.33 1932.8) rotate(90)" font-size="14.4" textLength="40.2" lengthAdjust="spacingAndGlyphs">X25_1</text>
<text transform="translate(1226.05 1932.8) rotate(90)" font-size="14.4" textLength="40.2" lengthAdjust="spacingAndGlyphs">X32_1</text>
<text transform="translate(1237.78 1932.8) rotate(90)" font-size="14.4" textLength="40.2" lengthAdjust="spacingAndGlyphs">X02_1</text>
<text transform="translate(1249.5 1932.8) rotate(90)" font-size="14.4" textLength="40.2" lengthAdjust="spacingAndGlyphs">X07_1</text>
<text transform="translate(1261.23 1932.8) rotate(90)" font-size="14.4" textLength="40.2" lengthAdjust="spacingAndGlyphs">X34_1</text>
<text transform="translate(1272.95 1932.8) rotate(90)" font-size="14.4" textLength="40.2" lengthAdjust="spacingAndGlyphs">X33_1</text>
<text transform="translate(1284.68 1932.8) rotate(90)" font-size="14.4" textLength="40.2" lengthAdjust="spacingAndGlyphs">X53_1</text>
<text transform="translate(1296.41 1932.8) rotate(90)" font-size="14.4" textLength="40.2" lengthAdjust="spacingAndGlyphs">X40_1</text>
<text transform="translate(1308.13 1932.8) rotate(90)" font-size="14.4" textLength="40.2" lengthAdjust="spacingAndGlyphs">X09_1</text>
<text transform="translate(1319.86 1932.8) rotate(90)" font-size="14.4" textLength="40.2" lengthAdjust="spacingAndGlyphs">X50_1</text>
<text transform="translate(1331.58 1932.8) rotate(90)" font-size="14.4" textLength="40.2" lengthAdjust="spacingAndGlyphs">X31_1</text>
<text transform="translate(1343.31 1932.8) rotate(90)" font-size="14.4" textLength="40.2" lengthAdjust="spacingAndGlyphs">X38_1</text>
<text transform="translate(1355.03 1932.8) rotate(90)" font-size="14.4" textLength="40.2" lengthAdjust="spacingAndGlyphs">X37_1</text>
<text transform="translate(1366.76 1932.8) rotate(90)" font-size="14.4" textLength="40.2" lengthAdjust="spacingAndGlyphs">X39_1</text>
<text transform="translate(1378.48 1932.8) rotate(90)" font-size="14.4" textLength="40.2" lengthAdjust="spacingAndGlyphs">X05_1</text>
<text transform="translate(1390.21 1932.8) rotate(90)" font-size="14.4" textLength="40.2" lengthAdjust="spacingAndGlyphs">X26_1</text>
<text transform="translate(1401.93 1932.8) rotate(90)" font-size="14.4" textLength="40.2" lengthAdjust="spacingAndGlyphs">X47_1</text>
<text transform="translate(1413.66 1932.8) rotate(90)" font-size="14.4" textLength="40.2" lengthAdjust="spacingAndGlyphs">X12_1</text>
<text transform="translate(1425.38 1932.8) rotate(90)" font-size="14.4" textLength="40.2" lengthAdjust="spacingAndGlyphs">X19_1</text>
<text transform="translate(1437.11 1932.8) rotate(90)" font-size="14.4" textLength="40.2" lengthAdjust="spacingAndGlyphs">X22_2</text>
<text transform="translate(1448.84 1932.8) rotate(90)" font-size="14.4" textLength="40.2" lengthAdjust="spacingAndGlyphs">X35_1</text>
<text transform="translate(1460.56 1932.8) rotate(90)" font-size="14.4" textLength="40.2" lengthAdjust="spacingAndGlyphs">X21_2</text>
<text transform="translate(1472.29 1932.8) rotate(90)" font-size="14.4" textLength="40.2" lengthAdjust="spacingAndGlyphs">X03_2</text>
<text transform="translate(1484.01 1932.8) rotate(90)" font-size="14.4" textLength="40.2" lengthAdjust="spacingAndGlyphs">X38_2</text>
<text transform="translate(1495.74 1932.8) rotate(90)" font-size="14.4" textLength="40.2" lengthAdjust="spacingAndGlyphs">X39_2</text>
<g>
<rect x="1591" y="465.13" width="23" height="3.37" fill="#4575b4"/>
<rect x="1591" y="461.67" width="23" height="3.37" fill="#4a79b6"/>
<rect x="1591" y="458.22" width="23" height="3.37" fill="#4e7eb9"/>
<rect x="1591" y="454.76" width="23" height="3.37" fill="#5382bb"/>
<rect x="1591" y="451.3" width="23" height="3.37" fill="#5787bd"/>
<rect x="1591" y="447.84" width="23" height="3.37" fill="#5c8bc0"/>
<rect x="1591" y="444.38" width="23" height="3.37" fill="#6190c2"/>
<rect x="1591" y="440.93" width="23" height="3.37" fill="#6594c5"/>
<rect x="1591" y="437.47" width="23" height="3.37" fill="#6a99c7"/>
<rect x="1591" y="434.01" width="23" height="3.37" fill="#6e9dc9"/>
<rect x="1591" y="430.55" width="23" height="3.37" fill="#73a2cc"/>
<rect x="1591" y="427.09" width="23" height="3.37" fill="#78a6ce"/>
<rect x="1591" y="423.64" width="23" height="3.37" fill="#7cabd0"/>
<rect x="1591" y="420.18" width="23" height="3.37" fill="#81afd3"/>
<rect x="1591" y="416.72" width="23" height="3.37" fill="#85b4d5"/>
<rect x="1591" y="413.26" width="23" height="3.37" fill="#8ab8d7"/>
<rect x="1591" y="409.8" width="23" height="3.37" fill="#8fbdda"/>
<rect x="1591" y="406.35" width="23" height="3.37" fill="#93c1dc"/>
<rect x="1591" y="402.89" width="23" height="3.37" fill="#98c4de"/>
<rect x="1591" y="399.43" width="23" height="3.37" fill="#9dc7df"/>
<rect x="1591" y="395.97" width="23" height="3.37" fill="#a2cae1"/>
<rect x="1591" y="392.51" width="23" height="3.37" fill="#a7cde3"/>
<rect x="1591" y="389.06" width="23" height="3.37" fill="#abd0e5"/>
<rect x="1591" y="385.6" width="23" height="3.37" fill="#b0d3e6"/>
<rect x="1591" y="382.14" width="23" height="3.37" fill="#b5d7e8"/>
<rect x="1591" y="378.68" width="23" height="3.37" fill="#badaea"/>
<rect x="1591" y="375.22" width="23" height="3.37" fill="#beddec"/>
<rect x="1591" y="371.77" width="23" height="3.37" fill="#c3e0ed"/>
<rect x="1591" y="368.31" width="23" height="3.37" fill="#c8e3ef"/>
<rect x="1591" y="364.85" width="23" height="3.37" fill="#cde6f1"/>
<rect x="1591" y="361.39" width="23" height="3.37" fill="#d2eaf3"/>
<rect x="1591" y="357.93" width="23" height="3.37" fill="#d6edf4"/>
<rect x="1591" y="354.48" width="23" height="3.37" fill="#dbf0f6"/>
<rect x="1591" y="351.02" width="23" height="3.37" fill="#e0f3f8"/>
<rect x="1591" y="347.56" width="23" height="3.37" fill="#e2f4f5"/>
<rect x="1591" y="344.1" width="23" height="3.37" fill="#e4f4f1"/>
<rect x="1591" y="340.64" width="23" height="3.37" fill="#e6f5ee"/>
<rect x="1591" y="337.19" width="23" height="3.37" fill="#e8f6ea"/>
<rect x="1591" y="333.73" width="23" height="3.37" fill="#e9f7e7"/>
<rect x="1591" y="330.27" width="23" height="3.37" fill="#ebf7e3"/>
<rect x="1591" y="326.81" width="23" height="3.37" fill="#edf8e0"/>
<rect x="1591" y="323.35" width="23" height="3.37" fill="#eff9dc"/>
<rect x="1591" y="319.9" width="23" height="3.37" fill="#f1fad9"/>
<rect x="1591" y="316.44" width="23" height="3.37" fill="#f3fad5"/>
<rect x="1591" y="312.98" width="23" height="3.37" fill="#f5fbd2"/>
<rect x="1591" y="309.52" width="23" height="3.37" fill="#f7fccf"/>
<rect x="1591" y="306.06" width="23" height="3.37" fill="#f8fccb"/>
<rect x="1591" y="302.61" width="23" height="3.37" fill="#fafdc8"/>
<rect x="1591" y="299.15" width="23" height="3.37" fill="#fcfec4"/>
<rect x="1591" y="295.69" width="23" height="3.37" fill="#feffc1"/>
<rect x="1591" y="292.23" width="23" height="3.37" fill="#fffebe"/>
<rect x="1591" y="288.77" width="23" height="3.37" fill="#fffcbb"/>
<rect x="1591" y="285.32" width="23" height="3.37" fill="#fffab8"/>
<rect x="1591" y="281.86" width="23" height="3.37" fill="#fff8b5"/>
<rect x="1591" y="278.4" width="23" height="3.37" fill="#fff7b2"/>
<rect x="1591" y="274.94" width="23" height="3.37" fill="#fff5af"/>
<rect x="1591" y="271.48" width="23" height="3.37" fill="#fff3ac"/>
<rect x="1591" y="268.03" width="23" height="3.37" fill="#fff1aa"/>
<rect x="1591" y="264.57" width="23" height="3.37" fill="#feefa7"/>
<rect x="1591" y="261.11" width="23" height="3.37" fill="#feeda4"/>
<rect x="1591" y="257.65" width="23" height="3.37" fill="#feeba1"/>
<rect x="1591" y="254.19" width="23" height="3.37" fill="#fee99e"/>
<rect x="1591" y="250.74" width="23" height="3.37" fill="#fee89b"/>
<rect x="1591" y="247.28" width="23" height="3.37" fill="#fee699"/>
<rect x="1591" y="243.82" width="23" height="3.37" fill="#fee496"/>
<rect x="1591" y="240.36" width="23" height="3.37" fill="#fee293"/>
<rect x="1591" y="236.9" width="23" height="3.37" fill="#fee090"/>
<rect x="1591" y="233.45" width="23" height="3.37" fill="#fedb8d"/>
<rect x="1591" y="229.99" width="23" height="3.37" fill="#fed689"/>
<rect x="1591" y="226.53" width="23" height="3.37" fill="#fed186"/>
<rect x="1591" y="223.07" width="23" height="3.37" fill="#fecc83"/>
<rect x="1591" y="219.61" width="23" height="3.37" fill="#fdc77f"/>
<rect x="1591" y="216.16" width="23" height="3.37" fill="#fdc27c"/>
<rect x="1591" y="212.7" width="23" height="3.37" fill="#fdbd79"/>
<rect x="1591" y="209.24" width="23" height="3.37" fill="#fdb875"/>
<rect x="1591" y="205.78" width="23" height="3.37" fill="#fdb372"/>
<rect x="1591" y="202.32" width="23" height="3.37" fill="#fdae6f"/>
<rect x="1591" y="198.87" width="23" height="3.37" fill="#fda96b"/>
<rect x="1591" y="195.41" width="23" height="3.37" fill="#fda468"/>
<rect x="1591" y="191.95" width="23" height="3.37" fill="#fc9f65"/>
<rect x="1591" y="188.49" width="23" height="3.37" fill="#fc9a61"/>
<rect x="1591" y="185.03" width="23" height="3.37" fill="#fc955e"/>
<rect x="1591" y="181.58" width="23" height="3.37" fill="#fc905b"/>
<rect x="1591" y="178.12" width="23" height="3.37" fill="#fb8a57"/>
<rect x="1591" y="174.66" width="23" height="3.37" fill="#f98554"/>
<rect x="1591" y="171.2" width="23" height="3.37" fill="#f67f51"/>
<rect x="1591" y="167.74" width="23" height="3.37" fill="#f4794e"/>
<rect x="1591" y="164.29" width="23" height="3.37" fill="#f2744b"/>
<rect x="1591" y="160.83" width="23" height="3.37" fill="#f06e48"/>
<rect x="1591" y="157.37" width="23" height="3.37" fill="#ed6845"/>
<rect x="1591" y="153.91" width="23" height="3.37" fill="#eb6342"/>
<rect x="1591" y="150.45" width="23" height="3.37" fill="#e95d3f"/>
<rect x="1591" y="147" width="23" height="3.37" fill="#e7573c"/>
<rect x="1591" y="143.54" width="23" height="3.37" fill="#e45239"/>
<rect x="1591" y="140.08" width="23" height="3.37" fill="#e24c36"/>
<rect x="1591" y="136.62" width="23" height="3.37" fill="#e04733"/>
<rect x="1591" y="133.16" width="23" height="3.37" fill="#de4130"/>
<rect x="1591" y="129.71" width="23" height="3.37" fill="#db3b2d"/>
<rect x="1591" y="126.25" width="23" height="3.37" fill="#d9362a"/>
<rect x="1591" y="122.79" width="23" height="3.37" fill="#d73027"/>
</g>
<text transform="translate(1624 425.88) scale(0.94 1)" font-size="23.3">6</text>
<text transform="translate(1624 362.14) scale(0.94 1)" font-size="23.3">8</text>
<text transform="translate(1624 298.4) scale(0.94 1)" font-size="23.3">10</text>
<text transform="translate(1624 234.66) scale(0.94 1)" font-size="23.3">12</text>
<text transform="translate(1624 170.91) scale(0.94 1)" font-size="23.3">14</text>
</svg></body></html>
